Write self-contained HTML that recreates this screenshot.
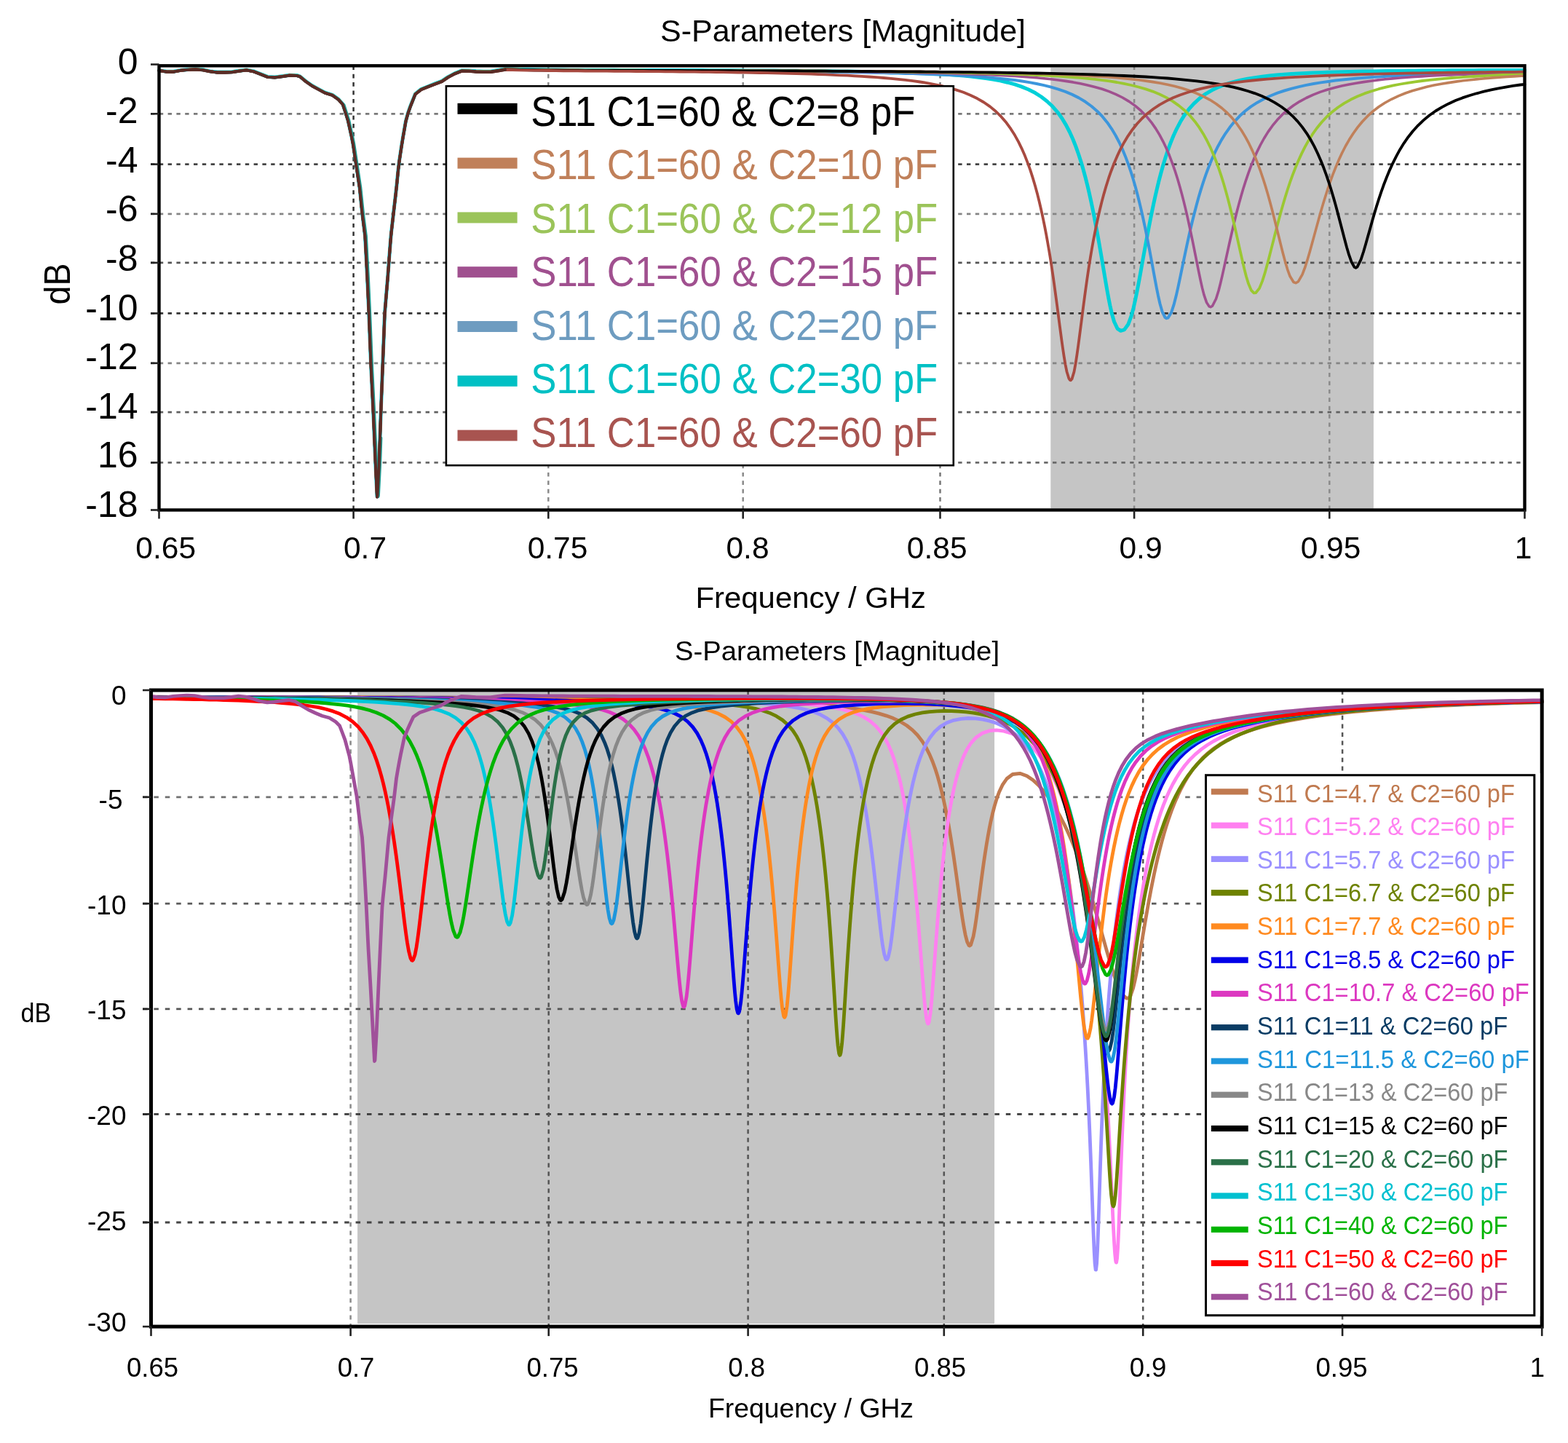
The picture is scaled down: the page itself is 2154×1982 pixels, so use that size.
<!DOCTYPE html><html><head><meta charset="utf-8"><title>S-Parameters [Magnitude]</title>
<style>html,body{margin:0;padding:0;background:#fff;overflow:hidden;}svg{display:block;}</style></head><body>
<svg width="2154" height="1982" viewBox="0 0 2154 1982">
<rect width="2154" height="1982" fill="#fff"/>
<rect x="1443.3" y="92.5" width="443.6" height="606" fill="#c5c5c5"/>
<line x1="207" y1="156.3" x2="2094.5" y2="156.3" stroke="#7a7a7a" stroke-width="2.7" stroke-dasharray="5.4,6.4"/>
<line x1="207" y1="225.6" x2="2094.5" y2="225.6" stroke="#444" stroke-width="2.7" stroke-dasharray="5.4,6.4"/>
<line x1="207" y1="293.8" x2="2094.5" y2="293.8" stroke="#858585" stroke-width="2.7" stroke-dasharray="5.4,6.4"/>
<line x1="207" y1="360.9" x2="2094.5" y2="360.9" stroke="#555" stroke-width="2.7" stroke-dasharray="5.4,6.4"/>
<line x1="207" y1="430.4" x2="2094.5" y2="430.4" stroke="#333" stroke-width="2.7" stroke-dasharray="5.4,6.4"/>
<line x1="207" y1="498.8" x2="2094.5" y2="498.8" stroke="#858585" stroke-width="2.7" stroke-dasharray="5.4,6.4"/>
<line x1="207" y1="566.1" x2="2094.5" y2="566.1" stroke="#606060" stroke-width="2.7" stroke-dasharray="5.4,6.4"/>
<line x1="207" y1="635.4" x2="2094.5" y2="635.4" stroke="#6a6a6a" stroke-width="2.7" stroke-dasharray="5.4,6.4"/>
<line x1="485.6" y1="90.3" x2="485.6" y2="700.5" stroke="#333" stroke-width="2.5" stroke-dasharray="5.7,5.7"/>
<line x1="753.3" y1="90.3" x2="753.3" y2="700.5" stroke="#8a8a8a" stroke-width="2.5" stroke-dasharray="5.7,5.7"/>
<line x1="1020.7" y1="90.3" x2="1020.7" y2="700.5" stroke="#8a8a8a" stroke-width="2.5" stroke-dasharray="5.7,5.7"/>
<line x1="1291.5" y1="90.3" x2="1291.5" y2="700.5" stroke="#777" stroke-width="2.5" stroke-dasharray="5.7,5.7"/>
<line x1="1558.1" y1="90.3" x2="1558.1" y2="700.5" stroke="#8a8a8a" stroke-width="2.5" stroke-dasharray="5.7,5.7"/>
<line x1="1826.3" y1="90.3" x2="1826.3" y2="700.5" stroke="#8a8a8a" stroke-width="2.5" stroke-dasharray="5.7,5.7"/>
<g fill="none" stroke-linejoin="round" stroke-linecap="round">
<path d="M218.5,96.6 L228.5,98.2 L238.5,98.3 L248.5,96.4 L258.5,95.5 L268.5,95.0 L278.5,95.8 L288.5,97.9 L298.5,99.1 L308.5,99.1 L318.5,98.8 L328.5,97.3 L338.5,95.9 L348.5,97.9 L358.0,101.6 L367.5,105.4 L377.5,106.0 L387.5,104.7 L397.5,103.2 L407.5,103.5 L412.0,104.8 L420.0,111.5 L428.5,117.5 L437.5,122.4 L446.5,127.2 L456.5,130.3 L465.0,136.4 L471.0,143.2 L474.5,154.0 L478.0,165.0 L480.5,176.3 L483.0,187.5 L485.0,197.8 L486.5,207.7 L488.0,217.6 L489.5,227.5 L491.0,237.5 L492.5,247.5 L494.0,257.5 L495.5,272.0 L496.5,282.1 L498.0,296.0 L499.5,307.9 L501.0,319.7 L501.5,323.7 L502.5,342.3 L503.5,360.9 L504.5,380.2 L505.0,391.1 L505.5,402.0 L506.0,412.8 L506.5,423.7 L507.0,435.3 L507.5,448.1 L508.0,460.9 L508.5,473.7 L509.0,486.4 L509.5,499.2 L510.0,509.4 L510.5,519.5 L511.0,529.7 L511.5,539.8 L512.0,550.0 L512.5,560.1 L513.0,570.8 L513.5,582.3 L514.0,593.8 L514.5,605.3 L515.0,616.8 L515.5,628.3 L516.0,639.5 L516.5,650.1 L517.0,660.7 L517.5,671.3 L518.0,682.0 L518.5,680.3 L519.5,660.7 L520.5,641.1 L521.0,629.5 L521.5,615.1 L522.0,600.7 L522.5,586.3 L523.0,572.0 L523.5,558.5 L524.0,545.6 L524.5,532.7 L525.0,519.8 L525.5,506.9 L526.0,494.1 L526.5,481.3 L527.0,468.6 L527.5,455.8 L528.0,443.0 L528.5,430.2 L529.5,418.3 L530.5,406.4 L531.5,394.5 L532.5,382.6 L533.5,369.5 L534.5,356.2 L535.5,343.2 L536.5,330.2 L537.5,319.3 L539.0,306.2 L540.5,293.0 L542.0,280.1 L543.5,267.4 L545.0,253.7 L546.0,243.5 L547.0,233.4 L548.5,221.0 L550.0,211.0 L551.5,201.1 L553.5,188.7 L555.5,177.4 L557.5,166.0 L560.5,155.1 L564.0,145.2 L568.0,135.2 L570.5,128.9 L578.5,122.5 L588.0,118.7 L597.5,114.9 L607.0,111.4 L615.5,105.6 L624.5,100.9 L634.0,97.0 L644.0,97.1 L654.0,97.8 L664.0,98.2 L674.0,98.2 L684.0,96.5 L694.0,94.9 L704.0,95.1 L714.0,95.4 L724.0,95.6 L734.0,95.7 L744.0,95.8 L754.0,95.9 L764.0,96.0 L774.0,96.1 L784.0,96.2 L794.0,96.2 L804.0,96.3 L814.0,96.3 L824.0,96.3 L834.0,96.3 L844.0,96.3 L854.0,96.4 L864.0,96.4 L874.0,96.4 L884.0,96.4 L894.0,96.4 L904.0,96.5 L914.0,96.5 L924.0,96.5 L934.0,96.5 L944.0,96.6 L954.0,96.6 L964.0,96.6 L974.0,96.7 L984.0,96.7 L994.0,96.8 L1004.0,96.8 L1014.0,96.8 L1024.0,96.9 L1034.0,96.9 L1044.0,97.0 L1054.0,97.1 L1064.0,97.1 L1074.0,97.2 L1084.0,97.3 L1094.0,97.3 L1104.0,97.4 L1114.0,97.5 L1124.0,97.6 L1134.0,97.7 L1144.0,97.8 L1154.0,98.0 L1164.0,98.1 L1174.0,98.2 L1184.0,98.4 L1194.0,98.6 L1204.0,98.8 L1214.0,99.0 L1224.0,99.2 L1234.0,99.5 L1244.0,99.8 L1254.0,100.1 L1264.0,100.5 L1274.0,100.9 L1284.0,101.4 L1294.0,101.9 L1304.0,102.6 L1314.0,103.3 L1324.0,104.1 L1334.0,105.0 L1344.0,106.2 L1354.0,107.5 L1364.0,109.0 L1374.0,110.9 L1384.0,113.2 L1394.0,115.9 L1403.5,119.1 L1413.0,123.0 L1422.0,127.6 L1430.5,133.0 L1438.5,139.2 L1446.0,146.3 L1453.0,154.3 L1459.0,162.7 L1464.5,171.9 L1469.5,181.5 L1474.0,191.5 L1478.0,201.6 L1481.5,211.5 L1485.0,222.3 L1488.0,232.5 L1491.0,243.5 L1493.5,253.3 L1496.0,263.9 L1498.5,275.1 L1501.0,287.1 L1503.0,297.1 L1505.0,307.4 L1507.0,318.2 L1509.0,329.2 L1511.0,340.6 L1513.0,352.2 L1515.0,364.1 L1517.0,376.0 L1519.0,387.9 L1521.0,399.4 L1523.0,410.2 L1525.0,420.3 L1527.5,431.3 L1530.5,441.8 L1535.0,451.3 L1539.5,454.3 L1544.5,452.9 L1550.0,445.2 L1554.0,434.4 L1557.0,423.3 L1559.5,412.3 L1562.0,400.1 L1564.0,389.6 L1566.0,378.7 L1568.0,367.6 L1570.0,356.4 L1572.0,345.4 L1574.0,334.4 L1576.0,323.7 L1578.0,313.2 L1580.0,302.9 L1582.0,293.0 L1584.5,281.0 L1587.0,269.5 L1589.5,258.7 L1592.0,248.4 L1595.0,237.0 L1598.0,226.4 L1601.0,216.5 L1604.5,205.9 L1608.0,196.4 L1612.0,186.5 L1616.5,176.8 L1621.5,167.3 L1627.0,158.4 L1633.0,150.2 L1640.0,142.4 L1647.5,135.5 L1656.0,129.1 L1665.0,123.8 L1674.5,119.3 L1684.0,115.7 L1694.0,112.7 L1704.0,110.2 L1714.0,108.2 L1724.0,106.6 L1734.0,105.2 L1744.0,104.1 L1754.0,103.1 L1764.0,102.3 L1774.0,101.6 L1784.0,101.0 L1794.0,100.5 L1804.0,100.1 L1814.0,99.7 L1824.0,99.3 L1834.0,99.0 L1844.0,98.7 L1854.0,98.5 L1864.0,98.3 L1874.0,98.1 L1884.0,97.9 L1894.0,97.8 L1904.0,97.6 L1914.0,97.5 L1924.0,97.4 L1934.0,97.3 L1944.0,97.2 L1954.0,97.1 L1964.0,97.0 L1974.0,97.0 L1984.0,96.9 L1994.0,96.8 L2004.0,96.8 L2014.0,96.7 L2024.0,96.7 L2034.0,96.6 L2044.0,96.6 L2054.0,96.5 L2064.0,96.5 L2074.0,96.5 L2084.0,96.4 L2094.0,96.4 L2094.5,96.4" stroke="#00d0d8" stroke-width="5.0"/>
<path d="M218.5,96.8 L228.5,98.4 L238.5,98.5 L248.5,96.6 L258.5,95.7 L268.5,95.2 L278.5,96.1 L288.5,98.1 L298.5,99.4 L308.5,99.4 L318.5,99.1 L328.5,97.6 L338.5,96.2 L348.5,98.2 L358.0,101.9 L367.5,105.7 L377.5,106.3 L387.5,105.0 L397.5,103.5 L407.5,103.8 L412.0,105.1 L420.0,111.8 L428.5,117.8 L437.5,122.7 L446.5,127.6 L456.5,130.7 L465.0,136.7 L471.0,143.5 L474.5,154.3 L478.0,165.4 L480.5,176.6 L483.0,187.9 L485.0,198.1 L486.5,208.0 L488.0,218.0 L489.5,227.9 L491.0,237.9 L492.5,247.8 L494.0,257.8 L495.5,272.3 L496.5,282.4 L498.0,296.3 L499.5,308.2 L501.0,320.1 L501.5,324.0 L502.5,342.7 L503.5,361.3 L504.5,380.6 L505.0,391.4 L505.5,402.3 L506.0,413.2 L506.5,424.0 L507.0,435.7 L507.5,448.5 L508.0,461.2 L508.5,474.0 L509.0,486.8 L509.5,499.6 L510.0,509.7 L510.5,519.9 L511.0,530.0 L511.5,540.2 L512.0,550.3 L512.5,560.5 L513.0,571.2 L513.5,582.7 L514.0,594.2 L514.5,605.7 L515.0,617.2 L515.5,628.7 L516.0,639.8 L516.5,650.4 L517.0,661.1 L517.5,671.7 L518.0,682.3 L518.5,680.7 L519.5,661.1 L520.5,641.5 L521.0,629.8 L521.5,615.5 L522.0,601.1 L522.5,586.7 L523.0,572.3 L523.5,558.8 L524.0,546.0 L524.5,533.1 L525.0,520.2 L525.5,507.3 L526.0,494.5 L526.5,481.7 L527.0,468.9 L527.5,456.1 L528.0,443.4 L528.5,430.6 L529.5,418.7 L530.5,406.8 L531.5,394.9 L532.5,383.0 L533.5,369.8 L534.5,356.5 L535.5,343.6 L536.5,330.6 L537.5,319.7 L539.0,306.5 L540.5,293.4 L542.0,280.5 L543.5,267.7 L545.0,254.1 L546.0,243.9 L547.0,233.7 L548.5,221.3 L550.0,211.4 L551.5,201.5 L553.5,189.1 L555.5,177.7 L557.5,166.4 L560.5,155.5 L564.0,145.6 L568.0,135.6 L570.5,129.3 L578.5,122.9 L588.0,119.1 L597.5,115.3 L607.0,111.8 L615.5,106.0 L624.5,101.3 L634.0,97.5 L644.0,97.5 L654.0,98.2 L664.0,98.7 L674.0,98.7 L684.0,97.0 L694.0,95.4 L704.0,95.6 L714.0,95.9 L724.0,96.1 L734.0,96.2 L744.0,96.3 L754.0,96.5 L764.0,96.6 L774.0,96.6 L784.0,96.7 L794.0,96.8 L804.0,96.8 L814.0,96.9 L824.0,96.9 L834.0,96.9 L844.0,97.0 L854.0,97.0 L864.0,97.0 L874.0,97.1 L884.0,97.1 L894.0,97.1 L904.0,97.2 L914.0,97.2 L924.0,97.2 L934.0,97.3 L944.0,97.3 L954.0,97.4 L964.0,97.4 L974.0,97.5 L984.0,97.5 L994.0,97.6 L1004.0,97.7 L1014.0,97.7 L1024.0,97.8 L1034.0,97.9 L1044.0,97.9 L1054.0,98.0 L1064.0,98.1 L1074.0,98.2 L1084.0,98.3 L1094.0,98.4 L1104.0,98.5 L1114.0,98.6 L1124.0,98.7 L1134.0,98.8 L1144.0,98.9 L1154.0,99.1 L1164.0,99.2 L1174.0,99.4 L1184.0,99.5 L1194.0,99.7 L1204.0,99.9 L1214.0,100.1 L1224.0,100.4 L1234.0,100.6 L1244.0,100.9 L1254.0,101.1 L1264.0,101.5 L1274.0,101.8 L1284.0,102.2 L1294.0,102.6 L1304.0,103.0 L1314.0,103.5 L1324.0,104.0 L1334.0,104.6 L1344.0,105.3 L1354.0,106.1 L1364.0,106.9 L1374.0,107.9 L1384.0,108.9 L1394.0,110.1 L1404.0,111.5 L1414.0,113.1 L1424.0,115.0 L1434.0,117.1 L1444.0,119.6 L1454.0,122.6 L1463.5,125.9 L1473.0,129.9 L1482.0,134.4 L1491.0,139.8 L1499.5,146.0 L1507.5,152.9 L1514.5,160.2 L1521.0,168.2 L1527.0,176.8 L1532.5,186.0 L1537.5,195.5 L1542.0,205.2 L1546.0,214.9 L1550.0,225.6 L1553.5,235.9 L1556.5,245.5 L1559.5,255.8 L1562.5,266.9 L1565.0,276.9 L1567.5,287.4 L1570.0,298.5 L1572.5,310.1 L1575.0,322.2 L1577.0,332.3 L1579.0,342.7 L1581.0,353.3 L1583.0,364.2 L1585.0,375.1 L1587.0,385.9 L1589.0,396.4 L1591.0,406.2 L1593.5,417.2 L1596.5,427.8 L1600.5,436.0 L1602.5,437.2 L1604.5,436.6 L1609.0,429.3 L1612.5,418.7 L1615.5,407.1 L1618.0,396.1 L1620.5,384.4 L1623.0,372.4 L1625.5,360.2 L1628.0,348.3 L1630.5,336.6 L1633.0,325.3 L1635.5,314.3 L1638.0,303.8 L1640.5,293.7 L1643.5,282.2 L1646.5,271.3 L1649.5,261.1 L1653.0,250.1 L1656.5,239.9 L1660.0,230.5 L1664.0,220.5 L1668.5,210.4 L1673.0,201.2 L1678.0,192.1 L1683.5,183.3 L1689.5,174.8 L1696.0,166.8 L1703.0,159.3 L1710.5,152.5 L1718.5,146.4 L1727.0,140.9 L1736.0,135.9 L1745.5,131.5 L1755.0,127.7 L1764.5,124.5 L1774.5,121.6 L1784.5,119.1 L1794.5,116.9 L1804.5,115.0 L1814.5,113.4 L1824.5,111.9 L1834.5,110.6 L1844.5,109.5 L1854.5,108.5 L1864.5,107.6 L1874.5,106.8 L1884.5,106.0 L1894.5,105.4 L1904.5,104.8 L1914.5,104.2 L1924.5,103.7 L1934.5,103.3 L1944.5,102.9 L1954.5,102.5 L1964.5,102.1 L1974.5,101.8 L1984.5,101.5 L1994.5,101.2 L2004.5,100.9 L2014.5,100.7 L2024.5,100.5 L2034.5,100.3 L2044.5,100.1 L2054.5,99.9 L2064.5,99.7 L2074.5,99.6 L2084.5,99.4 L2094.5,99.3" stroke="#3c96dc" stroke-width="4.0"/>
<path d="M218.5,96.8 L228.5,98.4 L238.5,98.5 L248.5,96.6 L258.5,95.7 L268.5,95.2 L278.5,96.1 L288.5,98.1 L298.5,99.4 L308.5,99.4 L318.5,99.1 L328.5,97.5 L338.5,96.2 L348.5,98.2 L358.0,101.9 L367.5,105.7 L377.5,106.3 L387.5,105.0 L397.5,103.5 L407.5,103.8 L412.0,105.1 L420.0,111.7 L428.5,117.7 L437.5,122.6 L446.5,127.5 L456.5,130.6 L465.0,136.7 L471.0,143.5 L474.5,154.2 L478.0,165.3 L480.5,176.6 L483.0,187.8 L485.0,198.1 L486.5,208.0 L488.0,217.9 L489.5,227.8 L491.0,237.8 L492.5,247.8 L494.0,257.8 L495.5,272.2 L496.5,282.4 L498.0,296.3 L499.5,308.2 L501.0,320.0 L501.5,324.0 L502.5,342.6 L503.5,361.2 L504.5,380.5 L505.0,391.4 L505.5,402.2 L506.0,413.1 L506.5,424.0 L507.0,435.6 L507.5,448.4 L508.0,461.2 L508.5,473.9 L509.0,486.7 L509.5,499.5 L510.0,509.6 L510.5,519.8 L511.0,529.9 L511.5,540.1 L512.0,550.3 L512.5,560.4 L513.0,571.1 L513.5,582.6 L514.0,594.1 L514.5,605.6 L515.0,617.1 L515.5,628.6 L516.0,639.8 L516.5,650.4 L517.0,661.0 L517.5,671.6 L518.0,682.2 L518.5,680.6 L519.5,661.0 L520.5,641.4 L521.0,629.8 L521.5,615.4 L522.0,601.0 L522.5,586.6 L523.0,572.3 L523.5,558.8 L524.0,545.9 L524.5,533.0 L525.0,520.1 L525.5,507.2 L526.0,494.4 L526.5,481.6 L527.0,468.9 L527.5,456.1 L528.0,443.3 L528.5,430.5 L529.5,418.6 L530.5,406.7 L531.5,394.8 L532.5,382.9 L533.5,369.8 L534.5,356.5 L535.5,343.5 L536.5,330.5 L537.5,319.6 L539.0,306.5 L540.5,293.3 L542.0,280.4 L543.5,267.7 L545.0,254.0 L546.0,243.8 L547.0,233.7 L548.5,221.3 L550.0,211.3 L551.5,201.4 L553.5,189.0 L555.5,177.7 L557.5,166.3 L560.5,155.4 L564.0,145.5 L568.0,135.5 L570.5,129.3 L578.5,122.8 L588.0,119.0 L597.5,115.3 L607.0,111.7 L615.5,105.9 L624.5,101.2 L634.0,97.4 L644.0,97.4 L654.0,98.1 L664.0,98.6 L674.0,98.6 L684.0,96.9 L694.0,95.2 L704.0,95.5 L714.0,95.8 L724.0,96.0 L734.0,96.1 L744.0,96.2 L754.0,96.3 L764.0,96.4 L774.0,96.5 L784.0,96.6 L794.0,96.6 L804.0,96.7 L814.0,96.7 L824.0,96.7 L834.0,96.8 L844.0,96.8 L854.0,96.8 L864.0,96.8 L874.0,96.9 L884.0,96.9 L894.0,96.9 L904.0,96.9 L914.0,97.0 L924.0,97.0 L934.0,97.0 L944.0,97.1 L954.0,97.1 L964.0,97.1 L974.0,97.2 L984.0,97.2 L994.0,97.3 L1004.0,97.3 L1014.0,97.4 L1024.0,97.4 L1034.0,97.5 L1044.0,97.5 L1054.0,97.6 L1064.0,97.6 L1074.0,97.7 L1084.0,97.8 L1094.0,97.8 L1104.0,97.9 L1114.0,98.0 L1124.0,98.1 L1134.0,98.1 L1144.0,98.2 L1154.0,98.3 L1164.0,98.4 L1174.0,98.5 L1184.0,98.6 L1194.0,98.8 L1204.0,98.9 L1214.0,99.0 L1224.0,99.2 L1234.0,99.3 L1244.0,99.5 L1254.0,99.7 L1264.0,99.9 L1274.0,100.1 L1284.0,100.3 L1294.0,100.5 L1304.0,100.8 L1314.0,101.1 L1324.0,101.4 L1334.0,101.7 L1344.0,102.1 L1354.0,102.5 L1364.0,102.9 L1374.0,103.4 L1384.0,103.9 L1394.0,104.5 L1404.0,105.2 L1414.0,106.0 L1424.0,106.8 L1434.0,107.7 L1444.0,108.8 L1454.0,110.0 L1464.0,111.4 L1474.0,112.9 L1484.0,114.8 L1494.0,116.9 L1504.0,119.4 L1514.0,122.3 L1523.5,125.6 L1533.0,129.6 L1542.0,134.0 L1551.0,139.4 L1559.5,145.4 L1567.5,152.2 L1575.0,159.9 L1581.5,167.8 L1587.5,176.4 L1593.0,185.4 L1598.0,194.8 L1602.5,204.3 L1606.5,213.8 L1610.5,224.3 L1614.0,234.3 L1617.5,245.3 L1620.5,255.5 L1623.5,266.4 L1626.0,276.1 L1628.5,286.4 L1631.0,297.2 L1633.5,308.5 L1636.0,320.2 L1638.5,332.2 L1640.5,342.1 L1642.5,352.1 L1644.5,362.2 L1646.5,372.2 L1649.0,384.2 L1651.5,395.4 L1654.0,405.1 L1657.5,415.4 L1661.0,420.9 L1663.0,421.7 L1665.5,420.3 L1670.5,410.5 L1674.0,399.2 L1676.5,389.5 L1679.0,378.9 L1681.5,367.6 L1684.0,356.2 L1686.5,344.8 L1689.0,333.5 L1691.5,322.5 L1694.0,311.7 L1696.5,301.3 L1699.0,291.3 L1702.0,279.9 L1705.0,269.0 L1708.0,258.8 L1711.5,247.8 L1715.0,237.6 L1718.5,228.2 L1722.5,218.3 L1727.0,208.1 L1731.5,199.0 L1736.5,190.0 L1742.0,181.1 L1748.0,172.7 L1754.5,164.8 L1761.5,157.4 L1769.0,150.8 L1777.0,144.8 L1785.5,139.3 L1794.5,134.5 L1804.0,130.1 L1813.5,126.4 L1823.0,123.3 L1833.0,120.5 L1843.0,118.1 L1853.0,116.0 L1863.0,114.2 L1873.0,112.6 L1883.0,111.2 L1893.0,109.9 L1903.0,108.8 L1913.0,107.9 L1923.0,107.0 L1933.0,106.2 L1943.0,105.5 L1953.0,104.9 L1963.0,104.3 L1973.0,103.8 L1983.0,103.3 L1993.0,102.9 L2003.0,102.5 L2013.0,102.1 L2023.0,101.8 L2033.0,101.5 L2043.0,101.2 L2053.0,100.9 L2063.0,100.7 L2073.0,100.4 L2083.0,100.2 L2093.0,100.0 L2094.5,100.0" stroke="#a0508f" stroke-width="3.6"/>
<path d="M218.5,96.8 L228.5,98.4 L238.5,98.5 L248.5,96.6 L258.5,95.7 L268.5,95.1 L278.5,96.0 L288.5,98.1 L298.5,99.3 L308.5,99.3 L318.5,99.0 L328.5,97.5 L338.5,96.1 L348.5,98.2 L358.0,101.8 L367.5,105.6 L377.5,106.2 L387.5,104.9 L397.5,103.4 L407.5,103.7 L412.0,105.0 L420.0,111.7 L428.5,117.7 L437.5,122.6 L446.5,127.5 L456.5,130.6 L465.0,136.6 L471.0,143.4 L474.5,154.2 L478.0,165.3 L480.5,176.5 L483.0,187.8 L485.0,198.0 L486.5,207.9 L488.0,217.9 L489.5,227.8 L491.0,237.8 L492.5,247.7 L494.0,257.7 L495.5,272.2 L496.5,282.3 L498.0,296.2 L499.5,308.1 L501.0,320.0 L501.5,323.9 L502.5,342.6 L503.5,361.2 L504.5,380.5 L505.0,391.3 L505.5,402.2 L506.0,413.1 L506.5,423.9 L507.0,435.6 L507.5,448.3 L508.0,461.1 L508.5,473.9 L509.0,486.7 L509.5,499.4 L510.0,509.6 L510.5,519.8 L511.0,529.9 L511.5,540.1 L512.0,550.2 L512.5,560.4 L513.0,571.1 L513.5,582.6 L514.0,594.1 L514.5,605.6 L515.0,617.1 L515.5,628.6 L516.0,639.7 L516.5,650.3 L517.0,661.0 L517.5,671.6 L518.0,682.2 L518.5,680.6 L519.5,661.0 L520.5,641.3 L521.0,629.7 L521.5,615.3 L522.0,601.0 L522.5,586.6 L523.0,572.2 L523.5,558.7 L524.0,545.8 L524.5,533.0 L525.0,520.1 L525.5,507.2 L526.0,494.4 L526.5,481.6 L527.0,468.8 L527.5,456.0 L528.0,443.3 L528.5,430.5 L529.5,418.6 L530.5,406.7 L531.5,394.8 L532.5,382.9 L533.5,369.7 L534.5,356.4 L535.5,343.4 L536.5,330.5 L537.5,319.6 L539.0,306.4 L540.5,293.3 L542.0,280.4 L543.5,267.6 L545.0,254.0 L546.0,243.8 L547.0,233.6 L548.5,221.2 L550.0,211.3 L551.5,201.4 L553.5,189.0 L555.5,177.6 L557.5,166.2 L560.5,155.4 L564.0,145.5 L568.0,135.5 L570.5,129.2 L578.5,122.8 L588.0,118.9 L597.5,115.2 L607.0,111.6 L615.5,105.9 L624.5,101.1 L634.0,97.3 L644.0,97.4 L654.0,98.1 L664.0,98.5 L674.0,98.5 L684.0,96.8 L694.0,95.2 L704.0,95.4 L714.0,95.7 L724.0,95.9 L734.0,96.0 L744.0,96.1 L754.0,96.2 L764.0,96.3 L774.0,96.4 L784.0,96.5 L794.0,96.5 L804.0,96.6 L814.0,96.6 L824.0,96.6 L834.0,96.6 L844.0,96.7 L854.0,96.7 L864.0,96.7 L874.0,96.7 L884.0,96.7 L894.0,96.8 L904.0,96.8 L914.0,96.8 L924.0,96.8 L934.0,96.9 L944.0,96.9 L954.0,96.9 L964.0,97.0 L974.0,97.0 L984.0,97.0 L994.0,97.1 L1004.0,97.1 L1014.0,97.1 L1024.0,97.2 L1034.0,97.2 L1044.0,97.2 L1054.0,97.3 L1064.0,97.3 L1074.0,97.4 L1084.0,97.4 L1094.0,97.5 L1104.0,97.5 L1114.0,97.6 L1124.0,97.6 L1134.0,97.7 L1144.0,97.8 L1154.0,97.8 L1164.0,97.9 L1174.0,98.0 L1184.0,98.1 L1194.0,98.2 L1204.0,98.2 L1214.0,98.3 L1224.0,98.4 L1234.0,98.5 L1244.0,98.7 L1254.0,98.8 L1264.0,98.9 L1274.0,99.0 L1284.0,99.2 L1294.0,99.3 L1304.0,99.5 L1314.0,99.7 L1324.0,99.9 L1334.0,100.1 L1344.0,100.3 L1354.0,100.6 L1364.0,100.8 L1374.0,101.1 L1384.0,101.4 L1394.0,101.8 L1404.0,102.1 L1414.0,102.5 L1424.0,103.0 L1434.0,103.5 L1444.0,104.0 L1454.0,104.6 L1464.0,105.3 L1474.0,106.0 L1484.0,106.9 L1494.0,107.8 L1504.0,108.9 L1514.0,110.1 L1524.0,111.4 L1534.0,113.0 L1544.0,114.9 L1554.0,117.0 L1564.0,119.5 L1574.0,122.4 L1583.5,125.6 L1593.0,129.5 L1602.0,133.9 L1611.0,139.1 L1619.5,145.1 L1627.5,151.7 L1635.0,159.2 L1641.5,166.9 L1647.5,175.2 L1653.0,183.9 L1658.0,193.0 L1662.5,202.1 L1667.0,212.4 L1671.0,222.5 L1674.5,232.2 L1678.0,242.6 L1681.0,252.3 L1684.0,262.7 L1687.0,273.8 L1689.5,283.5 L1692.0,293.7 L1694.5,304.2 L1697.0,315.0 L1699.5,326.1 L1702.0,337.3 L1704.5,348.5 L1707.0,359.4 L1709.5,370.0 L1712.0,379.7 L1715.0,389.6 L1719.0,398.9 L1722.5,402.4 L1725.0,402.2 L1730.0,396.1 L1734.0,386.4 L1737.5,375.4 L1740.5,364.6 L1743.5,353.2 L1746.0,343.4 L1748.5,333.6 L1751.0,323.7 L1753.5,314.0 L1756.5,302.7 L1759.5,291.6 L1762.5,281.0 L1765.5,270.9 L1768.5,261.3 L1772.0,250.7 L1775.5,240.9 L1779.5,230.6 L1783.5,221.0 L1788.0,211.1 L1792.5,202.2 L1797.5,193.2 L1803.0,184.4 L1809.0,176.0 L1815.5,168.0 L1822.5,160.5 L1830.0,153.7 L1838.0,147.5 L1846.5,141.9 L1855.5,136.8 L1865.0,132.3 L1874.5,128.4 L1884.0,125.2 L1894.0,122.2 L1904.0,119.6 L1914.0,117.4 L1924.0,115.5 L1934.0,113.8 L1944.0,112.3 L1954.0,111.0 L1964.0,109.8 L1974.0,108.8 L1984.0,107.9 L1994.0,107.0 L2004.0,106.3 L2014.0,105.6 L2024.0,105.0 L2034.0,104.4 L2044.0,103.9 L2054.0,103.5 L2064.0,103.0 L2074.0,102.6 L2084.0,102.3 L2094.0,102.0 L2094.5,102.0" stroke="#9bc832" stroke-width="3.8"/>
<path d="M218.5,96.8 L228.5,98.4 L238.5,98.4 L248.5,96.6 L258.5,95.6 L268.5,95.1 L278.5,96.0 L288.5,98.0 L298.5,99.3 L308.5,99.3 L318.5,99.0 L328.5,97.5 L338.5,96.1 L348.5,98.1 L358.0,101.8 L367.5,105.6 L377.5,106.2 L387.5,104.9 L397.5,103.4 L407.5,103.7 L412.0,105.0 L420.0,111.7 L428.5,117.7 L437.5,122.6 L446.5,127.5 L456.5,130.5 L465.0,136.6 L471.0,143.4 L474.5,154.2 L478.0,165.3 L480.5,176.5 L483.0,187.7 L485.0,198.0 L486.5,207.9 L488.0,217.8 L489.5,227.7 L491.0,237.7 L492.5,247.7 L494.0,257.7 L495.5,272.2 L496.5,282.3 L498.0,296.2 L499.5,308.1 L501.0,320.0 L501.5,323.9 L502.5,342.5 L503.5,361.2 L504.5,380.4 L505.0,391.3 L505.5,402.2 L506.0,413.0 L506.5,423.9 L507.0,435.5 L507.5,448.3 L508.0,461.1 L508.5,473.9 L509.0,486.7 L509.5,499.4 L510.0,509.6 L510.5,519.7 L511.0,529.9 L511.5,540.0 L512.0,550.2 L512.5,560.3 L513.0,571.0 L513.5,582.5 L514.0,594.0 L514.5,605.5 L515.0,617.0 L515.5,628.5 L516.0,639.7 L516.5,650.3 L517.0,660.9 L517.5,671.6 L518.0,682.2 L518.5,680.5 L519.5,660.9 L520.5,641.3 L521.0,629.7 L521.5,615.3 L522.0,600.9 L522.5,586.6 L523.0,572.2 L523.5,558.7 L524.0,545.8 L524.5,532.9 L525.0,520.1 L525.5,507.2 L526.0,494.3 L526.5,481.6 L527.0,468.8 L527.5,456.0 L528.0,443.2 L528.5,430.5 L529.5,418.6 L530.5,406.6 L531.5,394.7 L532.5,382.8 L533.5,369.7 L534.5,356.4 L535.5,343.4 L536.5,330.4 L537.5,319.6 L539.0,306.4 L540.5,293.2 L542.0,280.4 L543.5,267.6 L545.0,254.0 L546.0,243.8 L547.0,233.6 L548.5,221.2 L550.0,211.3 L551.5,201.3 L553.5,189.0 L555.5,177.6 L557.5,166.2 L560.5,155.3 L564.0,145.5 L568.0,135.4 L570.5,129.2 L578.5,122.8 L588.0,118.9 L597.5,115.2 L607.0,111.6 L615.5,105.8 L624.5,101.1 L634.0,97.3 L644.0,97.3 L654.0,98.0 L664.0,98.5 L674.0,98.5 L684.0,96.8 L694.0,95.1 L704.0,95.4 L714.0,95.7 L724.0,95.9 L734.0,96.0 L744.0,96.1 L754.0,96.2 L764.0,96.3 L774.0,96.4 L784.0,96.4 L794.0,96.5 L804.0,96.5 L814.0,96.5 L824.0,96.6 L834.0,96.6 L844.0,96.6 L854.0,96.6 L864.0,96.6 L874.0,96.6 L884.0,96.7 L894.0,96.7 L904.0,96.7 L914.0,96.7 L924.0,96.7 L934.0,96.8 L944.0,96.8 L954.0,96.8 L964.0,96.8 L974.0,96.9 L984.0,96.9 L994.0,96.9 L1004.0,97.0 L1014.0,97.0 L1024.0,97.0 L1034.0,97.0 L1044.0,97.1 L1054.0,97.1 L1064.0,97.2 L1074.0,97.2 L1084.0,97.2 L1094.0,97.3 L1104.0,97.3 L1114.0,97.4 L1124.0,97.4 L1134.0,97.5 L1144.0,97.5 L1154.0,97.6 L1164.0,97.6 L1174.0,97.7 L1184.0,97.7 L1194.0,97.8 L1204.0,97.9 L1214.0,97.9 L1224.0,98.0 L1234.0,98.1 L1244.0,98.2 L1254.0,98.3 L1264.0,98.4 L1274.0,98.5 L1284.0,98.6 L1294.0,98.7 L1304.0,98.8 L1314.0,98.9 L1324.0,99.1 L1334.0,99.2 L1344.0,99.4 L1354.0,99.6 L1364.0,99.7 L1374.0,99.9 L1384.0,100.1 L1394.0,100.4 L1404.0,100.6 L1414.0,100.9 L1424.0,101.1 L1434.0,101.5 L1444.0,101.8 L1454.0,102.1 L1464.0,102.5 L1474.0,103.0 L1484.0,103.5 L1494.0,104.0 L1504.0,104.6 L1514.0,105.2 L1524.0,105.9 L1534.0,106.8 L1544.0,107.7 L1554.0,108.7 L1564.0,109.8 L1574.0,111.1 L1584.0,112.6 L1594.0,114.3 L1604.0,116.3 L1614.0,118.6 L1624.0,121.3 L1634.0,124.5 L1643.5,128.1 L1653.0,132.3 L1662.0,137.1 L1670.5,142.5 L1678.5,148.5 L1686.0,155.2 L1693.0,162.6 L1699.5,170.7 L1705.5,179.3 L1711.0,188.4 L1716.0,197.7 L1720.5,207.1 L1724.5,216.4 L1728.5,226.6 L1732.0,236.2 L1735.5,246.6 L1738.5,256.1 L1741.5,266.3 L1744.5,277.0 L1747.5,288.3 L1750.0,298.0 L1752.5,308.0 L1755.0,318.1 L1757.5,328.3 L1760.0,338.4 L1762.5,348.2 L1765.5,359.4 L1768.5,369.6 L1772.0,379.3 L1777.0,387.5 L1780.0,388.7 L1783.5,386.7 L1789.0,377.2 L1793.0,366.5 L1796.5,355.3 L1799.5,344.9 L1802.5,334.1 L1805.5,323.1 L1808.5,312.1 L1811.5,301.2 L1814.5,290.6 L1817.5,280.3 L1820.5,270.4 L1824.0,259.5 L1827.5,249.2 L1831.0,239.6 L1835.0,229.5 L1839.0,220.1 L1843.5,210.3 L1848.5,200.5 L1853.5,191.8 L1859.0,183.2 L1865.0,174.9 L1871.5,167.0 L1878.5,159.7 L1886.0,152.9 L1894.0,146.8 L1902.5,141.3 L1911.5,136.3 L1921.0,131.8 L1930.5,128.0 L1940.0,124.8 L1950.0,121.9 L1960.0,119.3 L1970.0,117.1 L1980.0,115.2 L1990.0,113.6 L2000.0,112.1 L2010.0,110.8 L2020.0,109.7 L2030.0,108.6 L2040.0,107.7 L2050.0,106.9 L2060.0,106.2 L2070.0,105.5 L2080.0,104.9 L2090.0,104.3 L2094.5,104.2" stroke="#c0805a" stroke-width="3.6"/>
<path d="M218.5,96.9 L228.5,98.5 L238.5,98.6 L248.5,96.7 L258.5,95.8 L268.5,95.3 L278.5,96.2 L288.5,98.2 L298.5,99.5 L308.5,99.5 L318.5,99.2 L328.5,97.7 L338.5,96.3 L348.5,98.3 L358.0,102.0 L367.5,105.8 L377.5,106.4 L387.5,105.1 L397.5,103.6 L407.5,103.9 L412.0,105.2 L420.0,111.9 L428.5,117.8 L437.5,122.8 L446.5,127.6 L456.5,130.7 L465.0,136.8 L471.0,143.6 L474.5,154.4 L478.0,165.5 L480.5,176.7 L483.0,187.9 L485.0,198.2 L486.5,208.1 L488.0,218.0 L489.5,227.9 L491.0,237.9 L492.5,247.9 L494.0,257.9 L495.5,272.4 L496.5,282.5 L498.0,296.4 L499.5,308.3 L501.0,320.2 L501.5,324.1 L502.5,342.7 L503.5,361.4 L504.5,380.6 L505.0,391.5 L505.5,402.4 L506.0,413.3 L506.5,424.1 L507.0,435.8 L507.5,448.5 L508.0,461.3 L508.5,474.1 L509.0,486.9 L509.5,499.6 L510.0,509.8 L510.5,519.9 L511.0,530.1 L511.5,540.2 L512.0,550.4 L512.5,560.5 L513.0,571.2 L513.5,582.7 L514.0,594.2 L514.5,605.7 L515.0,617.2 L515.5,628.7 L516.0,639.9 L516.5,650.5 L517.0,661.1 L517.5,671.7 L518.0,682.4 L518.5,680.7 L519.5,661.1 L520.5,641.5 L521.0,629.9 L521.5,615.5 L522.0,601.2 L522.5,586.8 L523.0,572.4 L523.5,558.9 L524.0,546.0 L524.5,533.1 L525.0,520.3 L525.5,507.4 L526.0,494.5 L526.5,481.8 L527.0,469.0 L527.5,456.2 L528.0,443.4 L528.5,430.7 L529.5,418.8 L530.5,406.9 L531.5,395.0 L532.5,383.0 L533.5,369.9 L534.5,356.6 L535.5,343.6 L536.5,330.6 L537.5,319.8 L539.0,306.6 L540.5,293.4 L542.0,280.6 L543.5,267.8 L545.0,254.2 L546.0,244.0 L547.0,233.8 L548.5,221.4 L550.0,211.5 L551.5,201.6 L553.5,189.2 L555.5,177.8 L557.5,166.4 L560.5,155.6 L564.0,145.7 L568.0,135.7 L570.5,129.4 L578.5,123.0 L588.0,119.1 L597.5,115.4 L607.0,111.8 L615.5,106.1 L624.5,101.3 L634.0,97.5 L644.0,97.6 L654.0,98.3 L664.0,98.7 L674.0,98.7 L684.0,97.0 L694.0,95.4 L704.0,95.6 L714.0,95.9 L724.0,96.1 L734.0,96.2 L744.0,96.3 L754.0,96.4 L764.0,96.5 L774.0,96.6 L784.0,96.7 L794.0,96.7 L804.0,96.8 L814.0,96.8 L824.0,96.8 L834.0,96.8 L844.0,96.8 L854.0,96.9 L864.0,96.9 L874.0,96.9 L884.0,96.9 L894.0,96.9 L904.0,97.0 L914.0,97.0 L924.0,97.0 L934.0,97.0 L944.0,97.1 L954.0,97.1 L964.0,97.1 L974.0,97.1 L984.0,97.2 L994.0,97.2 L1004.0,97.2 L1014.0,97.3 L1024.0,97.3 L1034.0,97.3 L1044.0,97.4 L1054.0,97.4 L1064.0,97.4 L1074.0,97.5 L1084.0,97.5 L1094.0,97.5 L1104.0,97.6 L1114.0,97.6 L1124.0,97.7 L1134.0,97.7 L1144.0,97.8 L1154.0,97.8 L1164.0,97.9 L1174.0,97.9 L1184.0,98.0 L1194.0,98.0 L1204.0,98.1 L1214.0,98.1 L1224.0,98.2 L1234.0,98.3 L1244.0,98.3 L1254.0,98.4 L1264.0,98.5 L1274.0,98.6 L1284.0,98.7 L1294.0,98.8 L1304.0,98.8 L1314.0,98.9 L1324.0,99.1 L1334.0,99.2 L1344.0,99.3 L1354.0,99.4 L1364.0,99.5 L1374.0,99.7 L1384.0,99.8 L1394.0,100.0 L1404.0,100.1 L1414.0,100.3 L1424.0,100.5 L1434.0,100.7 L1444.0,100.9 L1454.0,101.1 L1464.0,101.3 L1474.0,101.6 L1484.0,101.9 L1494.0,102.2 L1504.0,102.5 L1514.0,102.8 L1524.0,103.2 L1534.0,103.6 L1544.0,104.0 L1554.0,104.5 L1564.0,105.0 L1574.0,105.5 L1584.0,106.1 L1594.0,106.8 L1604.0,107.5 L1614.0,108.4 L1624.0,109.3 L1634.0,110.3 L1644.0,111.4 L1654.0,112.7 L1664.0,114.1 L1674.0,115.7 L1684.0,117.6 L1694.0,119.7 L1704.0,122.1 L1714.0,125.0 L1723.5,128.1 L1733.0,131.8 L1742.5,136.2 L1751.5,141.1 L1760.0,146.5 L1768.0,152.5 L1775.5,159.3 L1782.5,166.6 L1789.0,174.6 L1795.0,183.1 L1800.5,192.0 L1805.5,201.2 L1810.0,210.5 L1814.5,220.7 L1818.5,230.8 L1822.0,240.3 L1825.5,250.6 L1829.0,261.7 L1832.0,271.9 L1835.0,282.6 L1838.0,293.7 L1841.0,305.2 L1844.0,316.8 L1847.0,328.3 L1850.0,339.5 L1853.0,349.7 L1856.5,359.7 L1860.5,366.9 L1862.5,367.9 L1864.5,366.7 L1869.5,356.6 L1873.0,346.0 L1876.0,335.8 L1879.0,325.1 L1882.0,314.4 L1885.0,303.8 L1888.0,293.4 L1891.0,283.4 L1894.0,273.9 L1897.5,263.4 L1901.0,253.5 L1905.0,243.2 L1909.0,233.6 L1913.5,223.8 L1918.0,214.8 L1923.0,205.7 L1928.5,196.8 L1934.5,188.2 L1941.0,180.0 L1948.0,172.3 L1955.5,165.1 L1963.5,158.5 L1972.0,152.5 L1981.0,147.1 L1990.0,142.4 L1999.5,138.1 L2009.0,134.4 L2018.5,131.2 L2028.5,128.3 L2038.5,125.7 L2048.5,123.4 L2058.5,121.4 L2068.5,119.6 L2078.5,117.9 L2088.5,116.5 L2094.5,115.9" stroke="#000000" stroke-width="3.8"/>
<path d="M218.5,97.0 L228.5,98.6 L238.5,98.7 L248.5,96.8 L258.5,95.9 L268.5,95.4 L278.5,96.3 L288.5,98.3 L298.5,99.6 L308.5,99.6 L318.5,99.3 L328.5,97.7 L338.5,96.4 L348.5,98.4 L358.0,102.1 L367.5,105.9 L377.5,106.5 L387.5,105.2 L397.5,103.7 L407.5,104.0 L412.0,105.3 L420.0,112.0 L428.5,118.0 L437.5,122.9 L446.5,127.8 L456.5,130.9 L465.0,137.0 L471.0,143.8 L474.5,154.5 L478.0,165.6 L480.5,176.9 L483.0,188.1 L485.0,198.4 L486.5,208.3 L488.0,218.2 L489.5,228.1 L491.0,238.1 L492.5,248.1 L494.0,258.1 L495.5,272.6 L496.5,282.7 L498.0,296.6 L499.5,308.5 L501.0,320.4 L501.5,324.3 L502.5,342.9 L503.5,361.6 L504.5,380.8 L505.0,391.7 L505.5,402.6 L506.0,413.5 L506.5,424.3 L507.0,436.0 L507.5,448.7 L508.0,461.5 L508.5,474.3 L509.0,487.1 L509.5,499.8 L510.0,510.0 L510.5,520.1 L511.0,530.3 L511.5,540.4 L512.0,550.6 L512.5,560.7 L513.0,571.5 L513.5,583.0 L514.0,594.5 L514.5,606.0 L515.0,617.5 L515.5,629.0 L516.0,640.1 L516.5,650.7 L517.0,661.3 L517.5,671.9 L518.0,682.6 L518.5,680.9 L519.5,661.3 L520.5,641.7 L521.0,630.1 L521.5,615.7 L522.0,601.4 L522.5,587.0 L523.0,572.6 L523.5,559.1 L524.0,546.2 L524.5,533.4 L525.0,520.5 L525.5,507.6 L526.0,494.8 L526.5,482.0 L527.0,469.2 L527.5,456.4 L528.0,443.7 L528.5,430.9 L529.5,419.0 L530.5,407.1 L531.5,395.2 L532.5,383.3 L533.5,370.1 L534.5,356.8 L535.5,343.8 L536.5,330.9 L537.5,320.0 L539.0,306.8 L540.5,293.7 L542.0,280.8 L543.5,268.0 L545.0,254.4 L546.0,244.2 L547.0,234.0 L548.5,221.6 L550.0,211.7 L551.5,201.8 L553.5,189.4 L555.5,178.1 L557.5,166.7 L560.5,155.8 L564.0,145.9 L568.0,135.9 L570.5,129.6 L578.5,123.2 L588.0,119.4 L597.5,115.7 L607.0,112.1 L615.5,106.4 L624.5,101.6 L634.0,97.9 L644.0,97.9 L654.0,98.7 L664.0,99.1 L674.0,99.1 L684.0,97.5 L694.0,95.8 L704.0,96.1 L714.0,96.4 L724.0,96.6 L734.0,96.8 L744.0,96.9 L754.0,97.0 L764.0,97.2 L774.0,97.3 L784.0,97.3 L794.0,97.4 L804.0,97.5 L814.0,97.6 L824.0,97.6 L834.0,97.7 L844.0,97.8 L854.0,97.8 L864.0,97.9 L874.0,98.0 L884.0,98.0 L894.0,98.1 L904.0,98.2 L914.0,98.3 L924.0,98.4 L934.0,98.5 L944.0,98.6 L954.0,98.7 L964.0,98.8 L974.0,98.9 L984.0,99.0 L994.0,99.2 L1004.0,99.3 L1014.0,99.5 L1024.0,99.6 L1034.0,99.8 L1044.0,100.0 L1054.0,100.2 L1064.0,100.4 L1074.0,100.6 L1084.0,100.9 L1094.0,101.1 L1104.0,101.4 L1114.0,101.7 L1124.0,102.1 L1134.0,102.4 L1144.0,102.8 L1154.0,103.3 L1164.0,103.7 L1174.0,104.3 L1184.0,104.8 L1194.0,105.5 L1204.0,106.2 L1214.0,107.0 L1224.0,107.8 L1234.0,108.8 L1244.0,109.9 L1254.0,111.1 L1264.0,112.5 L1274.0,114.1 L1284.0,116.0 L1294.0,118.1 L1304.0,120.6 L1314.0,123.6 L1323.5,126.8 L1333.0,130.7 L1342.5,135.3 L1351.5,140.5 L1360.0,146.4 L1368.0,153.0 L1375.5,160.4 L1382.5,168.6 L1388.5,176.9 L1394.0,185.6 L1399.0,194.6 L1403.5,203.8 L1408.0,214.1 L1412.0,224.4 L1415.5,234.2 L1419.0,245.1 L1422.0,255.2 L1425.0,266.3 L1427.5,276.3 L1430.0,287.0 L1432.5,298.4 L1435.0,310.5 L1437.0,320.9 L1439.0,331.8 L1441.0,343.3 L1443.0,355.5 L1445.0,368.5 L1446.5,378.7 L1448.0,389.3 L1449.5,400.2 L1451.0,411.3 L1452.5,422.6 L1454.0,434.0 L1455.5,445.5 L1457.0,456.8 L1458.5,467.9 L1460.0,478.5 L1461.5,488.6 L1463.5,500.6 L1465.5,510.5 L1468.5,520.2 L1470.0,522.2 L1471.0,522.3 L1472.5,520.6 L1475.5,510.6 L1477.5,499.9 L1479.5,486.9 L1481.0,476.3 L1482.5,465.0 L1484.0,453.5 L1485.5,441.9 L1487.0,430.3 L1488.5,418.8 L1490.0,407.4 L1491.5,396.4 L1493.0,385.7 L1494.5,375.4 L1496.0,365.5 L1498.0,353.0 L1500.0,341.3 L1502.0,330.2 L1504.0,319.8 L1506.0,309.9 L1508.5,298.4 L1511.0,287.5 L1513.5,277.4 L1516.5,266.1 L1519.5,255.8 L1523.0,244.7 L1526.5,234.7 L1530.5,224.3 L1534.5,214.9 L1539.0,205.3 L1544.0,195.9 L1549.5,186.8 L1555.5,178.2 L1562.0,170.0 L1569.0,162.5 L1576.5,155.7 L1584.5,149.5 L1593.0,143.9 L1602.0,138.9 L1611.5,134.3 L1621.0,130.5 L1630.5,127.2 L1640.5,124.2 L1650.5,121.6 L1660.5,119.4 L1670.5,117.4 L1680.5,115.7 L1690.5,114.1 L1700.5,112.8 L1710.5,111.6 L1720.5,110.5 L1730.5,109.5 L1740.5,108.6 L1750.5,107.8 L1760.5,107.1 L1770.5,106.4 L1780.5,105.8 L1790.5,105.3 L1800.5,104.8 L1810.5,104.3 L1820.5,103.9 L1830.5,103.5 L1840.5,103.1 L1850.5,102.8 L1860.5,102.5 L1870.5,102.2 L1880.5,101.9 L1890.5,101.6 L1900.5,101.4 L1910.5,101.2 L1920.5,100.9 L1930.5,100.7 L1940.5,100.5 L1950.5,100.4 L1960.5,100.2 L1970.5,100.0 L1980.5,99.9 L1990.5,99.7 L2000.5,99.6 L2010.5,99.5 L2020.5,99.4 L2030.5,99.2 L2040.5,99.1 L2050.5,99.0 L2060.5,98.9 L2070.5,98.8 L2080.5,98.8 L2090.5,98.7 L2094.5,98.6" stroke="#a84a40" stroke-width="3.8"/>
<path d="M472.8,143.8 L476.3,154.5 L479.8,165.6 L482.3,176.9 L484.8,188.1 L486.8,198.4 L488.3,208.3 L489.8,218.2 L491.3,228.1 L492.8,238.1 L494.3,248.1 L495.8,258.1 L497.3,272.6 L498.3,282.7 L499.8,296.6 L501.3,308.5 L502.8,320.4 L503.3,324.3 L504.3,342.9 L505.3,361.6 L506.3,380.8 L506.8,391.7 L507.3,402.6 L507.8,413.5 L508.3,424.3 L508.8,436.0 L509.3,448.7 L509.8,461.5 L510.3,474.3 L510.8,487.1 L511.3,499.8 L511.8,510.0 L512.3,520.1 L512.8,530.3 L513.3,540.4 L513.8,550.6 L514.3,560.7 L514.8,571.5 L515.3,583.0 L515.8,594.5 L516.3,606.0 L516.8,617.5 L517.3,629.0 L517.8,640.1 L518.3,650.7 L518.8,661.3 L519.3,671.9 L519.8,682.6 L520.3,680.9 L521.3,661.3 L522.3,641.7 L522.8,630.1 L523.3,615.7 L523.8,601.4" stroke="#1f9e94" stroke-width="3.2"/>
<path d="M218.5,97.0 L228.5,98.6 L238.5,98.7 L248.5,96.8 L258.5,95.9 L268.5,95.4 L278.5,96.3 L288.5,98.3 L298.5,99.6 L308.5,99.6 L318.5,99.3 L328.5,97.7 L338.5,96.4 L348.5,98.4 L358.0,102.1 L367.5,105.9 L377.5,106.5 L387.5,105.2 L397.5,103.7 L407.5,104.0 L412.0,105.3 L420.0,112.0 L428.5,118.0 L437.5,122.9 L446.5,127.8 L456.5,130.9 L465.0,137.0 L471.0,143.8 L474.5,154.5 L478.0,165.6 L480.5,176.9 L483.0,188.1 L485.0,198.4 L486.5,208.3 L488.0,218.2 L489.5,228.1 L491.0,238.1 L492.5,248.1 L494.0,258.1 L495.5,272.6 L496.5,282.7 L498.0,296.6 L499.5,308.5 L501.0,320.4 L501.5,324.3 L502.5,342.9 L503.5,361.6 L504.5,380.8 L505.0,391.7 L505.5,402.6 L506.0,413.5 L506.5,424.3 L507.0,436.0 L507.5,448.7 L508.0,461.5 L508.5,474.3 L509.0,487.1 L509.5,499.8 L510.0,510.0 L510.5,520.1 L511.0,530.3 L511.5,540.4 L512.0,550.6 L512.5,560.7 L513.0,571.5 L513.5,583.0 L514.0,594.5 L514.5,606.0 L515.0,617.5 L515.5,629.0 L516.0,640.1 L516.5,650.7 L517.0,661.3 L517.5,671.9 L518.0,682.6 L518.5,680.9 L519.5,661.3 L520.5,641.7 L521.0,630.1 L521.5,615.7 L522.0,601.4 L522.5,587.0 L523.0,572.6 L523.5,559.1 L524.0,546.2 L524.5,533.4 L525.0,520.5 L525.5,507.6 L526.0,494.8 L526.5,482.0 L527.0,469.2 L527.5,456.4 L528.0,443.7 L528.5,430.9 L529.5,419.0 L530.5,407.1 L531.5,395.2 L532.5,383.3 L533.5,370.1 L534.5,356.8 L535.5,343.8 L536.5,330.9 L537.5,320.0 L539.0,306.8 L540.5,293.7 L542.0,280.8 L543.5,268.0 L545.0,254.4 L546.0,244.2 L547.0,234.0 L548.5,221.6 L550.0,211.7 L551.5,201.8 L553.5,189.4 L555.5,178.1 L557.5,166.7 L560.5,155.8 L564.0,145.9 L568.0,135.9 L570.5,129.6 L578.5,123.2 L588.0,119.4 L597.5,115.7 L607.0,112.1 L615.5,106.4 L624.5,101.6 L634.0,97.9 L644.0,97.9 L654.0,98.7 L664.0,99.1 L674.0,99.1 L684.0,97.5 L694.0,95.8" stroke="#5a2c26" stroke-width="3.9"/>
</g>
<rect x="218.5" y="90.3" width="1876.0" height="610.2" fill="none" stroke="#000" stroke-width="4.4"/>
<line x1="207" y1="88.5" x2="218.5" y2="88.5" stroke="#222" stroke-width="2.6"/>
<line x1="207" y1="156.3" x2="218.5" y2="156.3" stroke="#222" stroke-width="2.6"/>
<line x1="207" y1="225.6" x2="218.5" y2="225.6" stroke="#222" stroke-width="2.6"/>
<line x1="207" y1="293.8" x2="218.5" y2="293.8" stroke="#222" stroke-width="2.6"/>
<line x1="207" y1="360.9" x2="218.5" y2="360.9" stroke="#222" stroke-width="2.6"/>
<line x1="207" y1="430.4" x2="218.5" y2="430.4" stroke="#222" stroke-width="2.6"/>
<line x1="207" y1="498.8" x2="218.5" y2="498.8" stroke="#222" stroke-width="2.6"/>
<line x1="207" y1="566.1" x2="218.5" y2="566.1" stroke="#222" stroke-width="2.6"/>
<line x1="207" y1="635.4" x2="218.5" y2="635.4" stroke="#222" stroke-width="2.6"/>
<line x1="207" y1="700.5" x2="218.5" y2="700.5" stroke="#222" stroke-width="2.6"/>
<line x1="218.5" y1="700.5" x2="218.5" y2="712.5" stroke="#222" stroke-width="2.6"/>
<line x1="485.6" y1="700.5" x2="485.6" y2="712.5" stroke="#222" stroke-width="2.6"/>
<line x1="753.3" y1="700.5" x2="753.3" y2="712.5" stroke="#222" stroke-width="2.6"/>
<line x1="1020.7" y1="700.5" x2="1020.7" y2="712.5" stroke="#222" stroke-width="2.6"/>
<line x1="1291.5" y1="700.5" x2="1291.5" y2="712.5" stroke="#222" stroke-width="2.6"/>
<line x1="1558.1" y1="700.5" x2="1558.1" y2="712.5" stroke="#222" stroke-width="2.6"/>
<line x1="1826.3" y1="700.5" x2="1826.3" y2="712.5" stroke="#222" stroke-width="2.6"/>
<line x1="2094.5" y1="700.5" x2="2094.5" y2="712.5" stroke="#222" stroke-width="2.6"/>
<rect x="612.9" y="118.3" width="696.9" height="520.9" fill="#fff" stroke="#000" stroke-width="2.6"/>
<rect x="628.5" y="141.8" width="82.1" height="15" fill="#000000"/>
<text x="729.3" y="172.8" font-family="'Liberation Sans', Arial, sans-serif" font-size="57.0" fill="#000000" text-anchor="start" textLength="528.0" lengthAdjust="spacingAndGlyphs">S11 C1=60 &amp; C2=8 pF</text>
<rect x="628.5" y="216.6" width="82.1" height="15" fill="#c0805a"/>
<text x="729.3" y="246.3" font-family="'Liberation Sans', Arial, sans-serif" font-size="57.0" fill="#c0805a" text-anchor="start" textLength="559.0" lengthAdjust="spacingAndGlyphs">S11 C1=60 &amp; C2=10 pF</text>
<rect x="628.5" y="291.4" width="82.1" height="15" fill="#9bc45a"/>
<text x="729.3" y="319.8" font-family="'Liberation Sans', Arial, sans-serif" font-size="57.0" fill="#9bc45a" text-anchor="start" textLength="559.0" lengthAdjust="spacingAndGlyphs">S11 C1=60 &amp; C2=12 pF</text>
<rect x="628.5" y="366.2" width="82.1" height="15" fill="#a0508f"/>
<text x="729.3" y="393.3" font-family="'Liberation Sans', Arial, sans-serif" font-size="57.0" fill="#a0508f" text-anchor="start" textLength="559.0" lengthAdjust="spacingAndGlyphs">S11 C1=60 &amp; C2=15 pF</text>
<rect x="628.5" y="441.0" width="82.1" height="15" fill="#6e9cc0"/>
<text x="729.3" y="466.8" font-family="'Liberation Sans', Arial, sans-serif" font-size="57.0" fill="#6e9cc0" text-anchor="start" textLength="559.0" lengthAdjust="spacingAndGlyphs">S11 C1=60 &amp; C2=20 pF</text>
<rect x="628.5" y="515.8" width="82.1" height="15" fill="#00c0c4"/>
<text x="729.3" y="540.3" font-family="'Liberation Sans', Arial, sans-serif" font-size="57.0" fill="#00c0c4" text-anchor="start" textLength="559.0" lengthAdjust="spacingAndGlyphs">S11 C1=60 &amp; C2=30 pF</text>
<rect x="628.5" y="590.6" width="82.1" height="15" fill="#a85450"/>
<text x="729.3" y="613.8" font-family="'Liberation Sans', Arial, sans-serif" font-size="57.0" fill="#a85450" text-anchor="start" textLength="559.0" lengthAdjust="spacingAndGlyphs">S11 C1=60 &amp; C2=60 pF</text>
<text x="907.0" y="57.0" font-family="'Liberation Sans', Arial, sans-serif" font-size="42.0" fill="#000" text-anchor="start" textLength="502.0" lengthAdjust="spacingAndGlyphs">S-Parameters [Magnitude]</text>
<text x="955.5" y="834.5" font-family="'Liberation Sans', Arial, sans-serif" font-size="41.0" fill="#000" text-anchor="start" textLength="316.5" lengthAdjust="spacingAndGlyphs">Frequency / GHz</text>
<text x="0" y="0" font-family="'Liberation Sans', Arial, sans-serif" font-size="50" fill="#000" text-anchor="middle" textLength="57" lengthAdjust="spacingAndGlyphs" transform="translate(95.5,390) rotate(-90)">dB</text>
<text x="189.5" y="101.5" font-family="'Liberation Sans', Arial, sans-serif" font-size="50.0" fill="#000" text-anchor="end">0</text>
<text x="189.5" y="169.1" font-family="'Liberation Sans', Arial, sans-serif" font-size="50.0" fill="#000" text-anchor="end">-2</text>
<text x="189.5" y="236.7" font-family="'Liberation Sans', Arial, sans-serif" font-size="50.0" fill="#000" text-anchor="end">-4</text>
<text x="189.5" y="304.3" font-family="'Liberation Sans', Arial, sans-serif" font-size="50.0" fill="#000" text-anchor="end">-6</text>
<text x="189.5" y="371.9" font-family="'Liberation Sans', Arial, sans-serif" font-size="50.0" fill="#000" text-anchor="end">-8</text>
<text x="189.5" y="439.5" font-family="'Liberation Sans', Arial, sans-serif" font-size="50.0" fill="#000" text-anchor="end">-10</text>
<text x="189.5" y="507.1" font-family="'Liberation Sans', Arial, sans-serif" font-size="50.0" fill="#000" text-anchor="end">-12</text>
<text x="189.5" y="574.7" font-family="'Liberation Sans', Arial, sans-serif" font-size="50.0" fill="#000" text-anchor="end">-14</text>
<text x="189.5" y="642.3" font-family="'Liberation Sans', Arial, sans-serif" font-size="50.0" fill="#000" text-anchor="end">16</text>
<text x="189.5" y="709.9" font-family="'Liberation Sans', Arial, sans-serif" font-size="50.0" fill="#000" text-anchor="end">-18</text>
<text x="227.7" y="766.7" font-family="'Liberation Sans', Arial, sans-serif" font-size="42.5" fill="#000" text-anchor="middle">0.65</text>
<text x="501.5" y="766.7" font-family="'Liberation Sans', Arial, sans-serif" font-size="42.5" fill="#000" text-anchor="middle">0.7</text>
<text x="766.0" y="766.7" font-family="'Liberation Sans', Arial, sans-serif" font-size="42.5" fill="#000" text-anchor="middle">0.75</text>
<text x="1027.0" y="766.7" font-family="'Liberation Sans', Arial, sans-serif" font-size="42.5" fill="#000" text-anchor="middle">0.8</text>
<text x="1287.2" y="766.7" font-family="'Liberation Sans', Arial, sans-serif" font-size="42.5" fill="#000" text-anchor="middle">0.85</text>
<text x="1567.0" y="766.7" font-family="'Liberation Sans', Arial, sans-serif" font-size="42.5" fill="#000" text-anchor="middle">0.9</text>
<text x="1828.0" y="766.7" font-family="'Liberation Sans', Arial, sans-serif" font-size="42.5" fill="#000" text-anchor="middle">0.95</text>
<text x="2092.5" y="766.7" font-family="'Liberation Sans', Arial, sans-serif" font-size="42.5" fill="#000" text-anchor="middle">1</text>
<rect x="491.1" y="951" width="875" height="867" fill="#c5c5c5"/>
<line x1="196" y1="1094.8" x2="2118.2" y2="1094.8" stroke="#707070" stroke-width="2.8" stroke-dasharray="6.5,8.9"/>
<line x1="196" y1="1241.1" x2="2118.2" y2="1241.1" stroke="#5a5a5a" stroke-width="2.8" stroke-dasharray="6.5,8.9"/>
<line x1="196" y1="1385.9" x2="2118.2" y2="1385.9" stroke="#555" stroke-width="2.8" stroke-dasharray="6.5,8.9"/>
<line x1="196" y1="1530.3" x2="2118.2" y2="1530.3" stroke="#3a3a3a" stroke-width="2.8" stroke-dasharray="6.5,8.9"/>
<line x1="196" y1="1679.0" x2="2118.2" y2="1679.0" stroke="#444" stroke-width="2.8" stroke-dasharray="6.5,8.9"/>
<line x1="481.6" y1="948.0" x2="481.6" y2="1822.1" stroke="#8a8a8a" stroke-width="2.5" stroke-dasharray="6,5.6"/>
<line x1="753.7" y1="948.0" x2="753.7" y2="1822.1" stroke="#555" stroke-width="2.5" stroke-dasharray="6,5.6"/>
<line x1="1027.6" y1="948.0" x2="1027.6" y2="1822.1" stroke="#555" stroke-width="2.5" stroke-dasharray="6,5.6"/>
<line x1="1296.8" y1="948.0" x2="1296.8" y2="1822.1" stroke="#555" stroke-width="2.5" stroke-dasharray="6,5.6"/>
<line x1="1570.2" y1="948.0" x2="1570.2" y2="1822.1" stroke="#555" stroke-width="2.5" stroke-dasharray="6,5.6"/>
<line x1="1844.1" y1="948.0" x2="1844.1" y2="1822.1" stroke="#555" stroke-width="2.5" stroke-dasharray="6,5.6"/>
<g fill="none" stroke-linejoin="round" stroke-linecap="round">
<path d="M207.5,957.2 L217.5,957.2 L227.5,957.3 L237.5,957.3 L247.5,957.3 L257.5,957.3 L267.5,957.3 L277.5,957.3 L287.5,957.3 L297.5,957.3 L307.5,957.3 L317.5,957.3 L327.5,957.3 L337.5,957.4 L347.5,957.4 L357.5,957.4 L367.5,957.4 L377.5,957.4 L387.5,957.4 L397.5,957.4 L407.5,957.5 L417.5,957.5 L427.5,957.5 L437.5,957.5 L447.5,957.5 L457.5,957.5 L467.5,957.5 L477.5,957.6 L487.5,957.6 L497.5,957.6 L507.5,957.6 L517.5,957.6 L527.5,957.7 L537.5,957.7 L547.5,957.7 L557.5,957.7 L567.5,957.8 L577.5,957.8 L587.5,957.8 L597.5,957.8 L607.5,957.9 L617.5,957.9 L627.5,957.9 L637.5,958.0 L647.5,958.0 L657.5,958.0 L667.5,958.1 L677.5,958.1 L687.6,958.2 L697.6,958.2 L707.6,958.2 L717.6,958.3 L727.6,958.3 L737.6,958.4 L747.6,958.5 L757.6,958.5 L767.6,958.6 L777.6,958.6 L787.6,958.7 L797.6,958.8 L807.6,958.9 L817.6,958.9 L827.6,959.0 L837.6,959.1 L847.6,959.2 L857.6,959.3 L867.6,959.4 L877.6,959.5 L887.6,959.6 L897.6,959.8 L907.6,959.9 L917.6,960.1 L927.6,960.2 L937.6,960.4 L947.6,960.6 L957.6,960.7 L967.6,960.9 L977.6,961.2 L987.6,961.4 L997.6,961.7 L1007.6,961.9 L1017.6,962.2 L1027.6,962.5 L1037.6,962.9 L1047.6,963.3 L1057.6,963.7 L1067.6,964.2 L1077.6,964.7 L1087.6,965.2 L1097.6,965.8 L1107.6,966.5 L1117.6,967.2 L1127.6,968.0 L1137.6,969.0 L1147.6,970.0 L1157.6,971.1 L1167.6,972.4 L1177.6,973.9 L1187.6,975.7 L1197.6,977.7 L1207.6,980.1 L1217.6,983.1 L1227.1,986.6 L1236.6,991.0 L1245.6,996.5 L1253.6,1002.8 L1260.6,1010.0 L1267.1,1018.5 L1272.6,1027.6 L1277.1,1036.6 L1281.1,1046.0 L1284.6,1055.6 L1288.1,1066.6 L1291.1,1077.3 L1293.6,1087.2 L1296.1,1098.0 L1298.6,1109.7 L1300.6,1119.7 L1302.6,1130.4 L1304.6,1141.8 L1306.6,1153.9 L1308.6,1166.6 L1310.1,1176.5 L1311.6,1186.8 L1313.1,1197.3 L1314.6,1208.1 L1316.1,1219.0 L1317.6,1229.8 L1319.1,1240.6 L1320.6,1251.1 L1322.1,1261.1 L1324.1,1273.3 L1326.1,1283.8 L1328.6,1293.6 L1331.1,1298.6 L1332.1,1299.0 L1333.6,1297.8 L1337.1,1286.3 L1339.1,1275.3 L1341.1,1262.0 L1342.6,1251.0 L1344.1,1239.6 L1345.6,1228.0 L1347.1,1216.5 L1348.6,1205.1 L1350.1,1194.1 L1351.6,1183.4 L1353.1,1173.3 L1355.1,1160.6 L1357.1,1148.8 L1359.1,1138.0 L1361.1,1128.1 L1363.6,1117.1 L1366.1,1107.4 L1369.1,1097.4 L1372.6,1087.8 L1377.1,1078.2 L1383.1,1069.5 L1391.1,1063.5 L1401.1,1062.3 L1410.6,1065.7 L1419.1,1071.5 L1426.6,1078.5 L1433.6,1086.4 L1440.1,1095.0 L1446.1,1103.9 L1451.6,1112.9 L1456.6,1121.8 L1461.6,1131.5 L1466.1,1140.9 L1470.6,1151.0 L1474.6,1160.5 L1478.6,1170.5 L1482.6,1181.2 L1486.1,1191.0 L1489.6,1201.2 L1493.1,1211.9 L1496.6,1223.0 L1499.6,1232.9 L1502.6,1243.0 L1505.6,1253.3 L1508.6,1263.8 L1511.6,1274.5 L1514.6,1285.3 L1517.6,1296.1 L1520.6,1306.8 L1523.6,1317.2 L1526.6,1327.3 L1530.1,1338.4 L1533.6,1348.4 L1537.6,1358.1 L1542.6,1366.9 L1547.6,1371.2 L1550.1,1371.1 L1553.1,1367.4 L1556.6,1357.3 L1559.1,1346.8 L1561.1,1336.8 L1563.1,1325.9 L1565.1,1314.3 L1567.1,1302.4 L1569.1,1290.4 L1571.1,1278.4 L1573.1,1266.5 L1575.1,1255.0 L1577.1,1243.7 L1579.1,1232.7 L1581.1,1222.1 L1583.1,1212.0 L1585.6,1199.8 L1588.1,1188.3 L1590.6,1177.4 L1593.1,1167.2 L1596.1,1155.6 L1599.1,1144.9 L1602.1,1134.9 L1605.6,1124.1 L1609.1,1114.2 L1613.1,1103.9 L1617.1,1094.5 L1621.6,1084.9 L1626.6,1075.5 L1632.1,1066.3 L1638.1,1057.5 L1644.7,1049.3 L1651.7,1041.6 L1659.2,1034.6 L1667.2,1028.2 L1675.7,1022.4 L1684.7,1017.2 L1693.7,1012.7 L1703.2,1008.6 L1712.7,1004.9 L1722.2,1001.8 L1732.2,998.8 L1742.2,996.1 L1752.2,993.7 L1762.2,991.6 L1772.2,989.6 L1782.2,987.8 L1792.2,986.1 L1802.2,984.6 L1812.2,983.1 L1822.2,981.8 L1832.2,980.6 L1842.2,979.5 L1852.2,978.4 L1862.2,977.4 L1872.2,976.5 L1882.2,975.6 L1892.2,974.8 L1902.2,974.0 L1912.2,973.3 L1922.2,972.6 L1932.2,972.0 L1942.2,971.3 L1952.2,970.8 L1962.2,970.2 L1972.2,969.7 L1982.2,969.2 L1992.2,968.8 L2002.2,968.4 L2012.2,967.9 L2022.2,967.5 L2032.2,967.2 L2042.2,966.8 L2052.2,966.5 L2062.2,966.2 L2072.2,965.9 L2082.2,965.6 L2092.2,965.3 L2102.2,965.0 L2112.2,964.8 L2118.2,964.7" stroke="#c07a50" stroke-width="4.8"/>
<path d="M207.5,957.2 L217.5,957.2 L227.5,957.2 L237.5,957.3 L247.5,957.3 L257.5,957.3 L267.5,957.3 L277.5,957.3 L287.5,957.3 L297.5,957.3 L307.5,957.3 L317.5,957.3 L327.5,957.3 L337.5,957.3 L347.5,957.4 L357.5,957.4 L367.5,957.4 L377.5,957.4 L387.5,957.4 L397.5,957.4 L407.5,957.4 L417.5,957.4 L427.5,957.5 L437.5,957.5 L447.5,957.5 L457.5,957.5 L467.5,957.5 L477.5,957.5 L487.5,957.6 L497.5,957.6 L507.5,957.6 L517.5,957.6 L527.5,957.6 L537.5,957.7 L547.5,957.7 L557.5,957.7 L567.5,957.7 L577.5,957.8 L587.5,957.8 L597.5,957.8 L607.5,957.8 L617.5,957.9 L627.5,957.9 L637.5,957.9 L647.5,958.0 L657.5,958.0 L667.5,958.0 L677.5,958.1 L687.6,958.1 L697.6,958.1 L707.6,958.2 L717.6,958.2 L727.6,958.3 L737.6,958.3 L747.6,958.4 L757.6,958.4 L767.6,958.5 L777.6,958.6 L787.6,958.6 L797.6,958.7 L807.6,958.8 L817.6,958.9 L827.6,958.9 L837.6,959.0 L847.6,959.1 L857.6,959.2 L867.6,959.3 L877.6,959.4 L887.6,959.5 L897.6,959.7 L907.6,959.8 L917.6,959.9 L927.6,960.1 L937.6,960.3 L947.6,960.5 L957.6,960.6 L967.6,960.9 L977.6,961.1 L987.6,961.3 L997.6,961.6 L1007.6,961.9 L1017.6,962.2 L1027.6,962.5 L1037.6,962.9 L1047.6,963.4 L1057.6,963.8 L1067.6,964.4 L1077.6,965.0 L1087.6,965.6 L1097.6,966.4 L1107.6,967.2 L1117.6,968.2 L1127.6,969.4 L1137.6,970.8 L1147.6,972.4 L1157.6,974.5 L1167.6,977.1 L1177.1,980.4 L1186.6,984.9 L1195.1,990.3 L1203.1,997.3 L1210.1,1005.5 L1215.6,1013.9 L1220.6,1023.5 L1224.6,1032.9 L1228.1,1042.6 L1231.1,1052.3 L1234.1,1063.3 L1236.6,1073.6 L1239.1,1085.2 L1241.1,1095.4 L1243.1,1106.5 L1245.1,1118.6 L1247.1,1131.8 L1248.6,1142.4 L1250.1,1153.8 L1251.6,1166.0 L1253.1,1178.9 L1254.6,1192.6 L1256.1,1207.3 L1257.1,1217.6 L1258.1,1228.2 L1259.1,1239.3 L1260.1,1250.8 L1261.1,1262.6 L1262.1,1274.8 L1263.1,1287.4 L1264.1,1300.3 L1265.1,1313.4 L1266.1,1326.6 L1267.1,1339.7 L1268.1,1352.6 L1269.1,1364.9 L1270.1,1376.4 L1271.1,1386.5 L1272.6,1398.4 L1274.1,1405.0 L1274.6,1405.9 L1275.1,1406.1 L1276.1,1404.1 L1278.1,1391.8 L1279.6,1376.5 L1280.6,1364.4 L1281.6,1351.3 L1282.6,1337.6 L1283.6,1323.7 L1284.6,1309.8 L1285.6,1296.0 L1286.6,1282.6 L1287.6,1269.5 L1288.6,1256.9 L1289.6,1244.7 L1290.6,1232.9 L1291.6,1221.6 L1292.6,1210.7 L1293.6,1200.3 L1295.1,1185.6 L1296.6,1171.9 L1298.1,1159.2 L1299.6,1147.4 L1301.1,1136.4 L1302.6,1126.2 L1304.6,1113.6 L1306.6,1102.1 L1308.6,1091.7 L1311.1,1080.0 L1313.6,1069.6 L1316.6,1058.8 L1320.1,1048.0 L1324.1,1037.9 L1328.6,1028.8 L1334.1,1020.3 L1341.1,1012.7 L1349.6,1007.0 L1359.1,1003.7 L1369.1,1002.9 L1379.1,1004.2 L1389.1,1007.2 L1398.6,1011.7 L1407.1,1017.2 L1415.1,1023.7 L1422.6,1031.3 L1429.1,1039.1 L1435.1,1047.4 L1440.6,1056.2 L1445.6,1065.3 L1450.1,1074.5 L1454.6,1084.6 L1458.6,1094.6 L1462.1,1104.1 L1465.6,1114.5 L1468.6,1124.1 L1471.6,1134.4 L1474.6,1145.5 L1477.1,1155.3 L1479.6,1165.8 L1482.1,1177.0 L1484.6,1188.9 L1486.6,1199.0 L1488.6,1209.6 L1490.6,1220.8 L1492.6,1232.6 L1494.6,1245.0 L1496.6,1258.1 L1498.1,1268.4 L1499.6,1279.1 L1501.1,1290.3 L1502.6,1302.1 L1504.1,1314.4 L1505.6,1327.4 L1507.1,1341.0 L1508.6,1355.3 L1509.6,1365.3 L1510.6,1375.7 L1511.6,1386.5 L1512.6,1397.6 L1513.6,1409.3 L1514.6,1421.4 L1515.6,1434.1 L1516.6,1447.3 L1517.6,1461.1 L1518.6,1475.6 L1519.6,1490.8 L1520.6,1506.9 L1521.6,1523.8 L1522.6,1541.8 L1523.6,1560.8 L1524.6,1580.8 L1525.1,1591.2 L1525.6,1601.8 L1526.1,1612.6 L1526.6,1623.5 L1527.1,1634.5 L1527.6,1645.6 L1528.1,1656.6 L1528.6,1667.5 L1529.1,1678.1 L1529.6,1688.3 L1530.6,1706.9 L1531.6,1721.8 L1532.6,1731.5 L1533.1,1733.8 L1533.6,1734.1 L1534.6,1728.2 L1535.6,1713.6 L1536.1,1703.6 L1536.6,1692.2 L1537.1,1679.6 L1537.6,1666.3 L1538.1,1652.6 L1538.6,1638.6 L1539.1,1624.6 L1539.6,1610.7 L1540.1,1597.1 L1540.6,1583.8 L1541.1,1570.9 L1541.6,1558.4 L1542.1,1546.3 L1542.6,1534.7 L1543.1,1523.5 L1543.6,1512.7 L1544.1,1502.3 L1545.1,1482.7 L1546.1,1464.4 L1547.1,1447.2 L1548.1,1431.1 L1549.1,1415.9 L1550.1,1401.6 L1551.1,1388.0 L1552.1,1375.2 L1553.1,1363.0 L1554.1,1351.3 L1555.1,1340.3 L1556.1,1329.7 L1557.1,1319.6 L1558.6,1305.3 L1560.1,1291.9 L1561.6,1279.3 L1563.1,1267.4 L1564.6,1256.1 L1566.1,1245.5 L1567.6,1235.4 L1569.6,1222.6 L1571.6,1210.7 L1573.6,1199.6 L1575.6,1189.1 L1577.6,1179.3 L1580.1,1167.9 L1582.6,1157.3 L1585.1,1147.4 L1588.1,1136.5 L1591.1,1126.5 L1594.6,1115.8 L1598.1,1106.1 L1602.1,1096.1 L1606.6,1086.0 L1611.1,1077.0 L1616.1,1068.2 L1621.6,1059.6 L1627.6,1051.5 L1634.1,1043.9 L1641.7,1036.4 L1649.7,1029.6 L1658.2,1023.5 L1667.2,1018.0 L1676.2,1013.3 L1685.7,1009.0 L1695.2,1005.3 L1704.7,1002.0 L1714.7,999.0 L1724.7,996.3 L1734.7,993.8 L1744.7,991.6 L1754.7,989.6 L1764.7,987.8 L1774.7,986.1 L1784.7,984.6 L1794.7,983.1 L1804.7,981.8 L1814.7,980.6 L1824.7,979.4 L1834.7,978.4 L1844.7,977.4 L1854.7,976.4 L1864.7,975.6 L1874.7,974.7 L1884.7,974.0 L1894.7,973.3 L1904.7,972.6 L1914.7,971.9 L1924.7,971.3 L1934.7,970.8 L1944.7,970.2 L1954.7,969.7 L1964.7,969.2 L1974.7,968.8 L1984.7,968.3 L1994.7,967.9 L2004.7,967.5 L2014.7,967.2 L2024.7,966.8 L2034.7,966.5 L2044.7,966.1 L2054.7,965.8 L2064.7,965.5 L2074.7,965.3 L2084.7,965.0 L2094.7,964.7 L2104.7,964.5 L2114.7,964.3 L2118.2,964.2" stroke="#ff80f0" stroke-width="4.8"/>
<path d="M207.5,957.3 L217.5,957.3 L227.5,957.3 L237.5,957.3 L247.5,957.3 L257.5,957.3 L267.5,957.3 L277.5,957.3 L287.5,957.3 L297.5,957.4 L307.5,957.4 L317.5,957.4 L327.5,957.4 L337.5,957.4 L347.5,957.4 L357.5,957.4 L367.5,957.4 L377.5,957.5 L387.5,957.5 L397.5,957.5 L407.5,957.5 L417.5,957.5 L427.5,957.5 L437.5,957.5 L447.5,957.6 L457.5,957.6 L467.5,957.6 L477.5,957.6 L487.5,957.6 L497.5,957.7 L507.5,957.7 L517.5,957.7 L527.5,957.7 L537.5,957.8 L547.5,957.8 L557.5,957.8 L567.5,957.8 L577.5,957.9 L587.5,957.9 L597.5,957.9 L607.5,958.0 L617.5,958.0 L627.5,958.0 L637.5,958.1 L647.5,958.1 L657.5,958.2 L667.5,958.2 L677.5,958.3 L687.6,958.3 L697.6,958.4 L707.6,958.4 L717.6,958.5 L727.6,958.5 L737.6,958.6 L747.6,958.7 L757.6,958.7 L767.6,958.8 L777.6,958.9 L787.6,959.0 L797.6,959.1 L807.6,959.2 L817.6,959.3 L827.6,959.4 L837.6,959.5 L847.6,959.6 L857.6,959.8 L867.6,959.9 L877.6,960.1 L887.6,960.2 L897.6,960.4 L907.6,960.6 L917.6,960.8 L927.6,961.0 L937.6,961.3 L947.6,961.5 L957.6,961.8 L967.6,962.1 L977.6,962.5 L987.6,962.9 L997.6,963.3 L1007.6,963.8 L1017.6,964.3 L1027.6,964.9 L1037.6,965.5 L1047.6,966.3 L1057.6,967.2 L1067.6,968.2 L1077.6,969.4 L1087.6,970.8 L1097.6,972.6 L1107.6,974.9 L1117.6,977.8 L1127.1,981.6 L1136.1,986.6 L1144.6,993.0 L1151.6,1000.2 L1157.6,1008.3 L1163.1,1017.9 L1167.6,1027.6 L1171.6,1038.1 L1175.1,1048.8 L1178.1,1059.5 L1180.6,1069.4 L1183.1,1080.5 L1185.6,1092.7 L1187.6,1103.4 L1189.6,1115.0 L1191.6,1127.5 L1193.1,1137.5 L1194.6,1148.0 L1196.1,1159.1 L1197.6,1170.7 L1199.1,1182.9 L1200.6,1195.6 L1202.1,1208.7 L1203.6,1222.2 L1205.1,1235.9 L1206.6,1249.7 L1208.1,1263.2 L1209.6,1276.2 L1211.1,1288.3 L1212.6,1299.0 L1214.6,1310.2 L1216.6,1316.7 L1217.6,1318.0 L1218.6,1317.9 L1220.1,1315.0 L1222.6,1303.8 L1224.6,1290.2 L1226.1,1278.2 L1227.6,1265.2 L1229.1,1251.7 L1230.6,1237.9 L1232.1,1224.0 L1233.6,1210.4 L1235.1,1197.2 L1236.6,1184.5 L1238.1,1172.2 L1239.6,1160.5 L1241.1,1149.4 L1242.6,1138.9 L1244.1,1128.9 L1246.1,1116.4 L1248.1,1104.9 L1250.1,1094.2 L1252.1,1084.4 L1254.6,1073.3 L1257.1,1063.3 L1260.1,1052.6 L1263.6,1041.9 L1267.6,1031.6 L1272.1,1022.1 L1277.6,1012.9 L1284.1,1004.8 L1291.6,998.1 L1300.6,992.7 L1310.1,989.3 L1320.1,987.3 L1330.1,986.5 L1340.1,986.8 L1350.1,988.1 L1360.1,990.4 L1369.6,993.6 L1379.1,998.0 L1388.1,1003.5 L1396.1,1009.7 L1403.6,1017.0 L1410.1,1024.7 L1416.1,1033.0 L1421.6,1042.0 L1426.6,1051.5 L1431.1,1061.1 L1435.1,1070.8 L1439.1,1081.6 L1442.6,1092.0 L1445.6,1101.8 L1448.6,1112.4 L1451.6,1124.0 L1454.1,1134.4 L1456.6,1145.5 L1459.1,1157.5 L1461.1,1167.8 L1463.1,1178.6 L1465.1,1190.1 L1467.1,1202.4 L1469.1,1215.4 L1470.6,1225.7 L1472.1,1236.5 L1473.6,1247.8 L1475.1,1259.6 L1476.6,1272.1 L1478.1,1285.2 L1479.6,1299.1 L1481.1,1313.8 L1482.1,1324.1 L1483.1,1334.9 L1484.1,1346.1 L1485.1,1357.8 L1486.1,1370.0 L1487.1,1382.8 L1488.1,1396.3 L1489.1,1410.4 L1490.1,1425.3 L1491.1,1441.0 L1492.1,1457.7 L1493.1,1475.3 L1494.1,1494.2 L1495.1,1514.3 L1495.6,1525.0 L1496.1,1536.1 L1496.6,1547.5 L1497.1,1559.4 L1497.6,1571.8 L1498.1,1584.5 L1498.6,1597.7 L1499.1,1611.1 L1499.6,1624.9 L1500.1,1639.0 L1500.6,1653.1 L1501.1,1667.1 L1501.6,1680.9 L1502.1,1694.1 L1502.6,1706.5 L1503.1,1717.8 L1504.1,1735.5 L1505.1,1744.0 L1505.6,1744.1 L1506.6,1735.4 L1507.6,1716.4 L1508.1,1703.9 L1508.6,1690.1 L1509.1,1675.4 L1509.6,1660.1 L1510.1,1644.5 L1510.6,1629.0 L1511.1,1613.7 L1511.6,1598.8 L1512.1,1584.3 L1512.6,1570.3 L1513.1,1556.8 L1513.6,1543.8 L1514.1,1531.4 L1514.6,1519.5 L1515.1,1508.1 L1515.6,1497.1 L1516.1,1486.6 L1516.6,1476.5 L1517.6,1457.3 L1518.6,1439.4 L1519.6,1422.7 L1520.6,1407.0 L1521.6,1392.3 L1522.6,1378.3 L1523.6,1365.1 L1524.6,1352.7 L1525.6,1340.8 L1526.6,1329.6 L1527.6,1318.8 L1528.6,1308.6 L1530.1,1294.1 L1531.6,1280.6 L1533.1,1267.8 L1534.6,1255.9 L1536.1,1244.6 L1537.6,1233.9 L1539.1,1223.7 L1541.1,1211.0 L1543.1,1199.2 L1545.1,1188.1 L1547.1,1177.8 L1549.6,1165.8 L1552.1,1154.7 L1554.6,1144.5 L1557.6,1133.2 L1560.6,1122.9 L1564.1,1112.0 L1567.6,1102.1 L1571.6,1092.0 L1576.1,1081.9 L1581.1,1072.1 L1586.6,1062.6 L1592.6,1053.8 L1599.1,1045.6 L1606.1,1038.1 L1613.6,1031.4 L1621.6,1025.2 L1630.1,1019.7 L1639.1,1014.8 L1648.7,1010.3 L1658.2,1006.5 L1667.7,1003.1 L1677.7,1000.0 L1687.7,997.2 L1697.7,994.8 L1707.7,992.5 L1717.7,990.5 L1727.7,988.6 L1737.7,986.9 L1747.7,985.3 L1757.7,983.9 L1767.7,982.5 L1777.7,981.2 L1787.7,980.1 L1797.7,979.0 L1807.7,977.9 L1817.7,977.0 L1827.7,976.1 L1837.7,975.2 L1847.7,974.4 L1857.7,973.7 L1867.7,973.0 L1877.7,972.3 L1887.7,971.7 L1897.7,971.1 L1907.7,970.5 L1917.7,970.0 L1927.7,969.5 L1937.7,969.0 L1947.7,968.6 L1957.7,968.2 L1967.7,967.8 L1977.7,967.4 L1987.7,967.0 L1997.7,966.7 L2007.7,966.3 L2017.7,966.0 L2027.7,965.7 L2037.7,965.4 L2047.7,965.2 L2057.7,964.9 L2067.7,964.7 L2077.7,964.4 L2087.7,964.2 L2097.7,964.0 L2107.7,963.8 L2117.7,963.6 L2118.2,963.6" stroke="#9a90ff" stroke-width="4.8"/>
<path d="M207.5,957.3 L217.5,957.3 L227.5,957.3 L237.5,957.3 L247.5,957.4 L257.5,957.4 L267.5,957.4 L277.5,957.4 L287.5,957.4 L297.5,957.4 L307.5,957.4 L317.5,957.4 L327.5,957.5 L337.5,957.5 L347.5,957.5 L357.5,957.5 L367.5,957.5 L377.5,957.5 L387.5,957.6 L397.5,957.6 L407.5,957.6 L417.5,957.6 L427.5,957.6 L437.5,957.7 L447.5,957.7 L457.5,957.7 L467.5,957.7 L477.5,957.8 L487.5,957.8 L497.5,957.8 L507.5,957.8 L517.5,957.9 L527.5,957.9 L537.5,957.9 L547.5,958.0 L557.5,958.0 L567.5,958.0 L577.5,958.1 L587.5,958.1 L597.5,958.2 L607.5,958.2 L617.5,958.2 L627.5,958.3 L637.5,958.3 L647.5,958.4 L657.5,958.5 L667.5,958.5 L677.5,958.6 L687.6,958.7 L697.6,958.7 L707.6,958.8 L717.6,958.9 L727.6,959.0 L737.6,959.1 L747.6,959.2 L757.6,959.3 L767.6,959.4 L777.6,959.5 L787.6,959.6 L797.6,959.8 L807.6,959.9 L817.6,960.1 L827.6,960.2 L837.6,960.4 L847.6,960.6 L857.6,960.8 L867.6,961.0 L877.6,961.3 L887.6,961.6 L897.6,961.9 L907.6,962.2 L917.6,962.5 L927.6,962.9 L937.6,963.4 L947.6,963.9 L957.6,964.4 L967.6,965.0 L977.6,965.7 L987.6,966.5 L997.6,967.4 L1007.6,968.5 L1017.6,969.8 L1027.6,971.4 L1037.6,973.4 L1047.6,976.0 L1057.1,979.2 L1066.6,983.7 L1075.1,989.1 L1082.6,995.8 L1089.1,1003.4 L1094.6,1011.8 L1099.6,1021.5 L1103.6,1031.0 L1107.1,1040.8 L1110.1,1050.6 L1113.1,1061.8 L1115.6,1072.4 L1118.1,1084.2 L1120.1,1094.8 L1122.1,1106.2 L1124.1,1118.8 L1125.6,1129.0 L1127.1,1140.0 L1128.6,1151.7 L1130.1,1164.2 L1131.6,1177.7 L1133.1,1192.1 L1134.1,1202.3 L1135.1,1213.0 L1136.1,1224.2 L1137.1,1235.9 L1138.1,1248.2 L1139.1,1261.0 L1140.1,1274.3 L1141.1,1288.3 L1142.1,1302.8 L1143.1,1317.9 L1144.1,1333.5 L1145.1,1349.5 L1146.1,1365.7 L1147.1,1381.9 L1148.1,1397.6 L1149.1,1412.4 L1150.1,1425.6 L1151.1,1436.5 L1152.6,1447.0 L1153.6,1449.4 L1154.1,1449.1 L1155.1,1445.5 L1156.6,1433.4 L1157.6,1421.6 L1158.6,1407.8 L1159.6,1392.6 L1160.6,1376.6 L1161.6,1360.3 L1162.6,1344.1 L1163.6,1328.2 L1164.6,1312.7 L1165.6,1297.7 L1166.6,1283.3 L1167.6,1269.6 L1168.6,1256.4 L1169.6,1243.8 L1170.6,1231.7 L1171.6,1220.2 L1172.6,1209.1 L1173.6,1198.6 L1174.6,1188.6 L1176.1,1174.4 L1177.6,1161.2 L1179.1,1148.9 L1180.6,1137.4 L1182.1,1126.7 L1183.6,1116.7 L1185.6,1104.4 L1187.6,1093.1 L1189.6,1082.9 L1192.1,1071.3 L1194.6,1061.0 L1197.6,1050.1 L1201.1,1039.2 L1205.1,1028.7 L1209.6,1019.1 L1215.1,1009.7 L1221.6,1001.3 L1229.1,994.2 L1237.6,988.5 L1247.1,984.1 L1257.1,981.0 L1267.1,978.9 L1277.1,977.6 L1287.1,976.9 L1297.1,976.5 L1307.1,976.6 L1317.1,977.1 L1327.1,977.9 L1337.1,979.2 L1347.1,980.9 L1357.1,983.2 L1367.1,986.2 L1376.6,989.8 L1386.1,994.2 L1395.1,999.4 L1403.6,1005.4 L1411.6,1012.3 L1419.1,1020.0 L1425.6,1027.8 L1431.6,1036.2 L1437.1,1045.0 L1442.1,1054.0 L1446.6,1063.1 L1451.1,1073.2 L1455.1,1083.1 L1458.6,1092.6 L1462.1,1102.9 L1465.1,1112.5 L1468.1,1122.7 L1471.1,1133.8 L1473.6,1143.7 L1476.1,1154.2 L1478.6,1165.4 L1481.1,1177.3 L1483.1,1187.4 L1485.1,1198.0 L1487.1,1209.2 L1489.1,1221.1 L1491.1,1233.6 L1493.1,1246.7 L1494.6,1257.0 L1496.1,1267.8 L1497.6,1279.1 L1499.1,1290.8 L1500.6,1303.2 L1502.1,1316.1 L1503.6,1329.7 L1505.1,1343.9 L1506.6,1358.9 L1507.6,1369.4 L1508.6,1380.3 L1509.6,1391.5 L1510.6,1403.2 L1511.6,1415.3 L1512.6,1427.9 L1513.6,1440.9 L1514.6,1454.5 L1515.6,1468.7 L1516.6,1483.4 L1517.6,1498.6 L1518.6,1514.5 L1519.6,1530.9 L1520.6,1547.8 L1521.6,1565.0 L1522.6,1582.3 L1523.6,1599.1 L1524.6,1615.0 L1525.6,1629.4 L1526.6,1641.5 L1528.1,1653.6 L1529.1,1656.9 L1529.6,1657.0 L1530.6,1654.1 L1532.1,1642.9 L1533.1,1631.5 L1534.1,1617.9 L1535.1,1602.8 L1536.1,1586.8 L1537.1,1570.3 L1538.1,1553.8 L1539.1,1537.5 L1540.1,1521.7 L1541.1,1506.5 L1542.1,1491.8 L1543.1,1477.7 L1544.1,1464.2 L1545.1,1451.2 L1546.1,1438.7 L1547.1,1426.7 L1548.1,1415.2 L1549.1,1404.1 L1550.1,1393.5 L1551.1,1383.3 L1552.6,1368.6 L1554.1,1354.8 L1555.6,1341.6 L1557.1,1329.2 L1558.6,1317.4 L1560.1,1306.1 L1561.6,1295.4 L1563.1,1285.2 L1565.1,1272.3 L1567.1,1260.1 L1569.1,1248.6 L1571.1,1237.7 L1573.1,1227.4 L1575.1,1217.5 L1577.6,1205.9 L1580.1,1195.0 L1582.6,1184.8 L1585.6,1173.3 L1588.6,1162.5 L1591.6,1152.5 L1595.1,1141.7 L1598.6,1131.7 L1602.6,1121.1 L1606.6,1111.4 L1611.1,1101.4 L1615.6,1092.4 L1620.6,1083.2 L1626.1,1074.1 L1632.1,1065.2 L1638.6,1056.7 L1645.7,1048.6 L1653.2,1041.0 L1660.7,1034.3 L1668.7,1028.1 L1677.2,1022.3 L1686.2,1017.0 L1695.2,1012.3 L1704.7,1008.0 L1714.2,1004.2 L1723.7,1000.9 L1733.7,997.7 L1743.7,994.9 L1753.7,992.4 L1763.7,990.2 L1773.7,988.2 L1783.7,986.3 L1793.7,984.6 L1803.7,983.1 L1813.7,981.7 L1823.7,980.3 L1833.7,979.1 L1843.7,978.0 L1853.7,977.0 L1863.7,976.0 L1873.7,975.1 L1883.7,974.3 L1893.7,973.5 L1903.7,972.8 L1913.7,972.1 L1923.7,971.5 L1933.7,970.9 L1943.7,970.3 L1953.7,969.8 L1963.7,969.3 L1973.7,968.8 L1983.7,968.3 L1993.7,967.9 L2003.7,967.5 L2013.7,967.1 L2023.7,966.8 L2033.7,966.4 L2043.7,966.1 L2053.7,965.8 L2063.7,965.5 L2073.7,965.2 L2083.7,965.0 L2093.7,964.7 L2103.7,964.5 L2113.7,964.2 L2118.2,964.1" stroke="#6e8200" stroke-width="4.8"/>
<path d="M207.5,957.4 L217.5,957.4 L227.5,957.4 L237.5,957.4 L247.5,957.4 L257.5,957.5 L267.5,957.5 L277.5,957.5 L287.5,957.5 L297.5,957.5 L307.5,957.5 L317.5,957.6 L327.5,957.6 L337.5,957.6 L347.5,957.6 L357.5,957.6 L367.5,957.6 L377.5,957.7 L387.5,957.7 L397.5,957.7 L407.5,957.7 L417.5,957.8 L427.5,957.8 L437.5,957.8 L447.5,957.9 L457.5,957.9 L467.5,957.9 L477.5,957.9 L487.5,958.0 L497.5,958.0 L507.5,958.1 L517.5,958.1 L527.5,958.1 L537.5,958.2 L547.5,958.2 L557.5,958.3 L567.5,958.3 L577.5,958.4 L587.5,958.4 L597.5,958.5 L607.5,958.6 L617.5,958.6 L627.5,958.7 L637.5,958.8 L647.5,958.9 L657.5,959.0 L667.5,959.0 L677.5,959.1 L687.6,959.2 L697.6,959.4 L707.6,959.5 L717.6,959.6 L727.6,959.7 L737.6,959.9 L747.6,960.0 L757.6,960.2 L767.6,960.4 L777.6,960.6 L787.6,960.8 L797.6,961.0 L807.6,961.3 L817.6,961.6 L827.6,961.9 L837.6,962.2 L847.6,962.6 L857.6,963.0 L867.6,963.4 L877.6,963.9 L887.6,964.5 L897.6,965.1 L907.6,965.8 L917.6,966.6 L927.6,967.6 L937.6,968.7 L947.6,970.1 L957.6,971.8 L967.6,973.9 L977.6,976.7 L987.1,980.3 L996.1,985.0 L1004.6,991.1 L1012.1,998.7 L1018.1,1006.8 L1023.6,1016.4 L1028.1,1026.4 L1031.6,1035.8 L1035.1,1046.9 L1038.1,1058.0 L1040.6,1068.5 L1043.1,1080.3 L1045.1,1090.8 L1047.1,1102.3 L1049.1,1114.9 L1050.6,1125.1 L1052.1,1136.0 L1053.6,1147.7 L1055.1,1160.2 L1056.6,1173.6 L1058.1,1187.9 L1059.1,1198.0 L1060.1,1208.5 L1061.1,1219.4 L1062.1,1230.8 L1063.1,1242.6 L1064.1,1254.8 L1065.1,1267.4 L1066.1,1280.4 L1067.1,1293.7 L1068.1,1307.2 L1069.1,1320.7 L1070.1,1334.1 L1071.1,1347.1 L1072.1,1359.3 L1073.1,1370.6 L1074.6,1384.5 L1076.6,1395.7 L1077.6,1397.4 L1078.1,1397.2 L1079.1,1394.8 L1081.1,1382.0 L1082.6,1366.8 L1083.6,1354.8 L1084.6,1341.7 L1085.6,1327.9 L1086.6,1313.9 L1087.6,1299.8 L1088.6,1285.8 L1089.6,1272.1 L1090.6,1258.8 L1091.6,1245.8 L1092.6,1233.4 L1093.6,1221.4 L1094.6,1209.8 L1095.6,1198.8 L1096.6,1188.3 L1097.6,1178.2 L1099.1,1163.9 L1100.6,1150.6 L1102.1,1138.2 L1103.6,1126.7 L1105.1,1115.9 L1106.6,1105.9 L1108.6,1093.6 L1110.6,1082.5 L1112.6,1072.3 L1115.1,1061.0 L1117.6,1051.0 L1120.6,1040.5 L1124.1,1030.0 L1128.1,1020.1 L1132.6,1011.1 L1138.1,1002.5 L1144.6,994.8 L1152.6,988.0 L1161.6,982.6 L1171.1,978.7 L1181.1,975.8 L1191.1,973.7 L1201.1,972.1 L1211.1,970.9 L1221.1,970.0 L1231.1,969.3 L1241.1,968.7 L1251.1,968.3 L1261.1,968.1 L1271.1,968.0 L1281.1,968.0 L1291.1,968.1 L1301.1,968.5 L1311.1,969.0 L1321.1,969.7 L1331.1,970.7 L1341.1,972.0 L1351.1,973.7 L1361.1,976.0 L1371.1,979.1 L1380.6,982.9 L1389.6,987.6 L1398.1,993.5 L1405.6,1000.1 L1412.6,1008.0 L1418.6,1016.2 L1424.1,1025.4 L1429.1,1035.3 L1433.1,1044.6 L1437.1,1055.2 L1440.6,1065.7 L1443.6,1075.7 L1446.6,1086.9 L1449.1,1097.0 L1451.6,1108.0 L1454.1,1120.0 L1456.1,1130.3 L1458.1,1141.4 L1460.1,1153.2 L1462.1,1165.8 L1463.6,1175.8 L1465.1,1186.3 L1466.6,1197.3 L1468.1,1208.9 L1469.6,1221.1 L1471.1,1233.8 L1472.6,1247.0 L1474.1,1260.9 L1475.6,1275.3 L1477.1,1290.2 L1478.1,1300.5 L1479.1,1311.0 L1480.1,1321.6 L1481.1,1332.3 L1482.1,1343.1 L1483.1,1353.8 L1484.1,1364.4 L1485.1,1374.7 L1486.6,1389.2 L1488.1,1402.2 L1489.6,1413.0 L1492.1,1424.2 L1493.1,1426.0 L1494.1,1426.2 L1495.6,1423.6 L1498.1,1412.2 L1499.6,1402.0 L1501.1,1389.9 L1502.6,1376.6 L1504.1,1362.5 L1505.6,1348.0 L1507.1,1333.5 L1508.6,1319.1 L1510.1,1305.0 L1511.6,1291.4 L1513.1,1278.3 L1514.6,1265.7 L1516.1,1253.6 L1517.6,1242.0 L1519.1,1231.0 L1520.6,1220.4 L1522.1,1210.4 L1524.1,1197.7 L1526.1,1185.8 L1528.1,1174.7 L1530.1,1164.3 L1532.6,1152.3 L1535.1,1141.2 L1537.6,1131.0 L1540.6,1119.8 L1543.6,1109.6 L1547.1,1098.9 L1550.6,1089.3 L1554.6,1079.6 L1559.1,1070.1 L1564.1,1060.9 L1569.6,1052.3 L1576.1,1043.7 L1583.1,1036.1 L1590.6,1029.3 L1599.1,1023.0 L1608.1,1017.5 L1617.1,1012.9 L1626.6,1008.9 L1636.1,1005.3 L1646.2,1002.1 L1656.2,999.3 L1666.2,996.7 L1676.2,994.4 L1686.2,992.3 L1696.2,990.4 L1706.2,988.6 L1716.2,986.9 L1726.2,985.4 L1736.2,984.0 L1746.2,982.7 L1756.2,981.4 L1766.2,980.3 L1776.2,979.2 L1786.2,978.1 L1796.2,977.2 L1806.2,976.3 L1816.2,975.4 L1826.2,974.6 L1836.2,973.9 L1846.2,973.2 L1856.2,972.5 L1866.2,971.9 L1876.2,971.3 L1886.2,970.7 L1896.2,970.2 L1906.2,969.7 L1916.2,969.2 L1926.2,968.7 L1936.2,968.3 L1946.2,967.9 L1956.2,967.5 L1966.2,967.1 L1976.2,966.8 L1986.2,966.4 L1996.2,966.1 L2006.2,965.8 L2016.2,965.5 L2026.2,965.3 L2036.2,965.0 L2046.2,964.7 L2056.2,964.5 L2066.2,964.3 L2076.2,964.0 L2086.2,963.8 L2096.2,963.6 L2106.2,963.4 L2116.2,963.3 L2118.2,963.2" stroke="#ff8a20" stroke-width="4.8"/>
<path d="M207.5,957.5 L217.5,957.5 L227.5,957.5 L237.5,957.5 L247.5,957.5 L257.5,957.5 L267.5,957.6 L277.5,957.6 L287.5,957.6 L297.5,957.6 L307.5,957.6 L317.5,957.7 L327.5,957.7 L337.5,957.7 L347.5,957.7 L357.5,957.8 L367.5,957.8 L377.5,957.8 L387.5,957.8 L397.5,957.9 L407.5,957.9 L417.5,957.9 L427.5,958.0 L437.5,958.0 L447.5,958.1 L457.5,958.1 L467.5,958.1 L477.5,958.2 L487.5,958.2 L497.5,958.3 L507.5,958.3 L517.5,958.4 L527.5,958.4 L537.5,958.5 L547.5,958.6 L557.5,958.6 L567.5,958.7 L577.5,958.8 L587.5,958.9 L597.5,959.0 L607.5,959.0 L617.5,959.1 L627.5,959.2 L637.5,959.4 L647.5,959.5 L657.5,959.6 L667.5,959.7 L677.5,959.9 L687.6,960.1 L697.6,960.2 L707.6,960.4 L717.6,960.6 L727.6,960.8 L737.6,961.1 L747.6,961.3 L757.6,961.6 L767.6,961.9 L777.6,962.2 L787.6,962.6 L797.6,963.0 L807.6,963.4 L817.6,963.9 L827.6,964.5 L837.6,965.1 L847.6,965.8 L857.6,966.6 L867.6,967.5 L877.6,968.6 L887.6,970.0 L897.6,971.6 L907.6,973.7 L917.6,976.4 L927.1,980.0 L936.1,984.7 L944.6,991.1 L951.6,998.5 L957.6,1007.0 L962.6,1016.3 L966.6,1025.6 L970.1,1035.3 L973.1,1045.1 L976.1,1056.5 L978.6,1067.4 L981.1,1079.7 L983.1,1090.6 L985.1,1102.6 L987.1,1115.9 L988.6,1126.7 L990.1,1138.2 L991.6,1150.6 L993.1,1164.0 L994.6,1178.2 L995.6,1188.3 L996.6,1198.8 L997.6,1209.8 L998.6,1221.3 L999.6,1233.2 L1000.6,1245.6 L1001.6,1258.4 L1002.6,1271.6 L1003.6,1285.2 L1004.6,1298.9 L1005.6,1312.8 L1006.6,1326.6 L1007.6,1340.0 L1008.6,1352.7 L1009.6,1364.4 L1010.6,1374.5 L1012.1,1385.8 L1013.6,1391.4 L1014.1,1391.9 L1014.6,1391.7 L1015.6,1389.3 L1017.6,1377.2 L1019.1,1363.0 L1020.1,1351.8 L1021.1,1339.7 L1022.1,1327.1 L1023.1,1314.1 L1024.1,1301.0 L1025.1,1288.0 L1026.1,1275.2 L1027.1,1262.7 L1028.1,1250.4 L1029.1,1238.5 L1030.1,1227.0 L1031.1,1215.8 L1032.1,1205.1 L1033.1,1194.8 L1034.6,1180.1 L1036.1,1166.4 L1037.6,1153.5 L1039.1,1141.4 L1040.6,1130.2 L1042.1,1119.7 L1044.1,1106.7 L1046.1,1094.8 L1048.1,1084.0 L1050.1,1074.1 L1052.6,1063.0 L1055.1,1053.1 L1058.1,1042.7 L1061.6,1032.3 L1065.6,1022.3 L1070.1,1013.1 L1075.6,1004.2 L1082.1,996.2 L1089.6,989.4 L1098.1,983.9 L1107.6,979.5 L1117.1,976.4 L1127.1,974.0 L1137.1,972.2 L1147.1,970.8 L1157.1,969.6 L1167.1,968.8 L1177.1,968.1 L1187.1,967.5 L1197.1,967.0 L1207.1,966.7 L1217.1,966.5 L1227.1,966.3 L1237.1,966.3 L1247.1,966.3 L1257.1,966.5 L1267.1,966.7 L1277.1,967.1 L1287.1,967.6 L1297.1,968.2 L1307.1,969.0 L1317.1,970.0 L1327.1,971.3 L1337.1,972.8 L1347.1,974.7 L1357.1,977.1 L1367.1,980.0 L1376.6,983.5 L1386.1,987.7 L1395.1,992.7 L1403.6,998.4 L1411.6,1004.8 L1419.1,1012.1 L1426.1,1020.2 L1432.1,1028.3 L1437.6,1036.8 L1442.6,1045.6 L1447.6,1055.5 L1452.1,1065.5 L1456.1,1075.4 L1459.6,1084.9 L1463.1,1095.2 L1466.1,1104.8 L1469.1,1115.1 L1472.1,1126.2 L1474.6,1136.1 L1477.1,1146.6 L1479.6,1157.9 L1482.1,1169.8 L1484.1,1180.0 L1486.1,1190.6 L1488.1,1201.8 L1490.1,1213.7 L1492.1,1226.1 L1494.1,1239.1 L1495.6,1249.4 L1497.1,1260.0 L1498.6,1271.0 L1500.1,1282.4 L1501.6,1294.3 L1503.1,1306.7 L1504.6,1319.6 L1506.1,1332.9 L1507.6,1346.8 L1509.1,1361.1 L1510.6,1375.9 L1511.6,1386.0 L1512.6,1396.3 L1513.6,1406.7 L1514.6,1417.2 L1515.6,1427.7 L1516.6,1438.3 L1517.6,1448.7 L1518.6,1458.9 L1520.1,1473.6 L1521.6,1487.0 L1523.1,1498.7 L1525.1,1510.2 L1526.6,1515.0 L1527.6,1516.0 L1528.6,1515.0 L1530.6,1506.4 L1532.1,1494.8 L1533.6,1479.6 L1534.6,1468.1 L1535.6,1455.9 L1536.6,1443.3 L1537.6,1430.4 L1538.6,1417.6 L1539.6,1404.8 L1540.6,1392.3 L1541.6,1380.1 L1542.6,1368.1 L1543.6,1356.5 L1544.6,1345.3 L1545.6,1334.5 L1546.6,1324.1 L1547.6,1314.0 L1549.1,1299.5 L1550.6,1285.9 L1552.1,1272.9 L1553.6,1260.7 L1555.1,1249.1 L1556.6,1238.0 L1558.1,1227.5 L1559.6,1217.5 L1561.6,1205.0 L1563.6,1193.3 L1565.6,1182.3 L1567.6,1172.0 L1570.1,1160.1 L1572.6,1149.1 L1575.1,1139.0 L1578.1,1127.8 L1581.1,1117.5 L1584.6,1106.8 L1588.1,1097.0 L1592.1,1087.1 L1596.6,1077.1 L1601.6,1067.5 L1607.1,1058.3 L1613.1,1049.8 L1619.6,1041.9 L1626.6,1034.8 L1634.6,1027.9 L1643.2,1021.8 L1652.2,1016.5 L1661.2,1011.9 L1670.7,1007.8 L1680.2,1004.3 L1690.2,1001.0 L1700.2,998.2 L1710.2,995.6 L1720.2,993.3 L1730.2,991.2 L1740.2,989.3 L1750.2,987.5 L1760.2,985.9 L1770.2,984.4 L1780.2,983.0 L1790.2,981.7 L1800.2,980.5 L1810.2,979.3 L1820.2,978.3 L1830.2,977.3 L1840.2,976.4 L1850.2,975.5 L1860.2,974.7 L1870.2,973.9 L1880.2,973.2 L1890.2,972.5 L1900.2,971.9 L1910.2,971.3 L1920.2,970.7 L1930.2,970.2 L1940.2,969.7 L1950.2,969.2 L1960.2,968.7 L1970.2,968.3 L1980.2,967.9 L1990.2,967.5 L2000.2,967.1 L2010.2,966.8 L2020.2,966.4 L2030.2,966.1 L2040.2,965.8 L2050.2,965.5 L2060.2,965.2 L2070.2,965.0 L2080.2,964.7 L2090.2,964.5 L2100.2,964.2 L2110.2,964.0 L2118.2,963.9" stroke="#0000e8" stroke-width="4.8"/>
<path d="M207.5,957.6 L217.5,957.6 L227.5,957.6 L237.5,957.6 L247.5,957.7 L257.5,957.7 L267.5,957.7 L277.5,957.7 L287.5,957.8 L297.5,957.8 L307.5,957.8 L317.5,957.8 L327.5,957.9 L337.5,957.9 L347.5,957.9 L357.5,958.0 L367.5,958.0 L377.5,958.1 L387.5,958.1 L397.5,958.1 L407.5,958.2 L417.5,958.2 L427.5,958.3 L437.5,958.3 L447.5,958.4 L457.5,958.5 L467.5,958.5 L477.5,958.6 L487.5,958.6 L497.5,958.7 L507.5,958.8 L517.5,958.9 L527.5,959.0 L537.5,959.1 L547.5,959.2 L557.5,959.3 L567.5,959.4 L577.5,959.5 L587.5,959.7 L597.5,959.8 L607.5,960.0 L617.5,960.1 L627.5,960.3 L637.5,960.5 L647.5,960.7 L657.5,961.0 L667.5,961.2 L677.5,961.5 L687.6,961.8 L697.6,962.1 L707.6,962.5 L717.6,962.9 L727.6,963.4 L737.6,963.9 L747.6,964.5 L757.6,965.2 L767.6,965.9 L777.6,966.8 L787.6,967.9 L797.6,969.1 L807.6,970.7 L817.6,972.6 L827.6,975.0 L837.6,978.3 L847.1,982.5 L856.1,987.9 L864.1,994.4 L871.1,1002.1 L877.1,1010.7 L882.1,1019.7 L886.6,1029.6 L890.6,1040.1 L894.1,1050.9 L897.1,1061.5 L899.6,1071.4 L902.1,1082.5 L904.6,1094.7 L906.6,1105.3 L908.6,1116.9 L910.6,1129.5 L912.1,1139.6 L913.6,1150.3 L915.1,1161.7 L916.6,1173.8 L918.1,1186.6 L919.6,1200.1 L921.1,1214.4 L922.6,1229.4 L923.6,1239.8 L924.6,1250.5 L925.6,1261.5 L926.6,1272.7 L927.6,1284.1 L928.6,1295.6 L929.6,1307.2 L930.6,1318.7 L931.6,1329.9 L932.6,1340.7 L933.6,1350.8 L935.1,1364.2 L936.6,1374.6 L938.6,1382.3 L939.1,1383.0 L939.6,1383.1 L940.6,1381.7 L943.1,1368.8 L944.6,1355.7 L945.6,1345.3 L946.6,1334.0 L947.6,1322.0 L948.6,1309.6 L949.6,1297.1 L950.6,1284.6 L951.6,1272.1 L952.6,1260.0 L953.6,1248.0 L954.6,1236.5 L955.6,1225.2 L956.6,1214.4 L957.6,1203.9 L958.6,1193.9 L960.1,1179.5 L961.6,1166.1 L963.1,1153.4 L964.6,1141.6 L966.1,1130.5 L967.6,1120.1 L969.6,1107.2 L971.6,1095.5 L973.6,1084.7 L975.6,1074.9 L978.1,1063.8 L980.6,1053.9 L983.6,1043.5 L987.1,1033.0 L991.1,1022.9 L995.6,1013.6 L1001.1,1004.6 L1007.6,996.5 L1015.1,989.5 L1023.6,983.9 L1033.1,979.3 L1042.6,976.0 L1052.6,973.5 L1062.6,971.6 L1072.6,970.0 L1082.6,968.8 L1092.6,967.8 L1102.6,967.0 L1112.6,966.3 L1122.6,965.7 L1132.6,965.2 L1142.6,964.8 L1152.6,964.4 L1162.6,964.1 L1172.6,963.9 L1182.6,963.7 L1192.6,963.5 L1202.6,963.4 L1212.6,963.3 L1222.6,963.3 L1232.6,963.4 L1242.6,963.5 L1252.6,963.6 L1262.6,963.9 L1272.6,964.2 L1282.6,964.5 L1292.6,965.1 L1302.6,965.7 L1312.6,966.5 L1322.6,967.5 L1332.6,968.7 L1342.6,970.3 L1352.6,972.3 L1362.6,975.0 L1372.1,978.2 L1381.6,982.4 L1390.6,987.7 L1398.6,993.7 L1406.1,1000.8 L1412.6,1008.6 L1418.6,1017.4 L1423.6,1026.1 L1428.1,1035.3 L1432.1,1044.8 L1436.1,1055.6 L1439.6,1066.3 L1442.6,1076.4 L1445.6,1087.7 L1448.1,1097.8 L1450.6,1108.9 L1453.1,1120.8 L1455.1,1131.0 L1457.1,1141.8 L1459.1,1153.3 L1461.1,1165.4 L1463.1,1178.2 L1464.6,1188.3 L1466.1,1198.8 L1467.6,1209.6 L1469.1,1220.7 L1470.6,1232.2 L1472.1,1243.9 L1473.6,1255.8 L1475.1,1267.8 L1476.6,1279.7 L1478.1,1291.6 L1479.6,1303.0 L1481.1,1313.9 L1482.6,1324.0 L1484.6,1335.5 L1487.1,1346.0 L1489.1,1350.5 L1490.1,1351.2 L1491.1,1350.9 L1493.1,1347.2 L1495.6,1337.3 L1497.6,1326.0 L1499.1,1316.1 L1500.6,1305.3 L1502.1,1293.9 L1503.6,1282.1 L1505.1,1270.3 L1506.6,1258.6 L1508.1,1247.0 L1509.6,1235.7 L1511.1,1224.7 L1512.6,1214.0 L1514.1,1203.8 L1516.1,1190.8 L1518.1,1178.6 L1520.1,1167.1 L1522.1,1156.4 L1524.1,1146.3 L1526.6,1134.7 L1529.1,1124.1 L1531.6,1114.3 L1534.6,1103.6 L1537.6,1094.1 L1541.1,1084.1 L1545.1,1074.1 L1549.6,1064.4 L1554.6,1055.3 L1560.1,1046.9 L1566.6,1038.7 L1574.1,1031.2 L1582.1,1024.7 L1590.6,1019.2 L1599.6,1014.4 L1609.1,1010.2 L1618.6,1006.7 L1628.6,1003.5 L1638.6,1000.6 L1648.7,998.1 L1658.7,995.8 L1668.7,993.7 L1678.7,991.8 L1688.7,989.9 L1698.7,988.3 L1708.7,986.7 L1718.7,985.2 L1728.7,983.9 L1738.7,982.6 L1748.7,981.3 L1758.7,980.2 L1768.7,979.1 L1778.7,978.1 L1788.7,977.2 L1798.7,976.3 L1808.7,975.4 L1818.7,974.6 L1828.7,973.9 L1838.7,973.2 L1848.7,972.5 L1858.7,971.9 L1868.7,971.3 L1878.7,970.7 L1888.7,970.2 L1898.7,969.7 L1908.7,969.2 L1918.7,968.7 L1928.7,968.3 L1938.7,967.9 L1948.7,967.5 L1958.7,967.1 L1968.7,966.8 L1978.7,966.5 L1988.7,966.1 L1998.7,965.8 L2008.7,965.5 L2018.7,965.3 L2028.7,965.0 L2038.7,964.7 L2048.7,964.5 L2058.7,964.3 L2068.7,964.0 L2078.7,963.8 L2088.7,963.6 L2098.7,963.4 L2108.7,963.2 L2118.2,963.1" stroke="#dc38c0" stroke-width="4.8"/>
<path d="M207.5,957.7 L217.5,957.7 L227.5,957.8 L237.5,957.8 L247.5,957.8 L257.5,957.8 L267.5,957.9 L277.5,957.9 L287.5,957.9 L297.5,958.0 L307.5,958.0 L317.5,958.0 L327.5,958.1 L337.5,958.1 L347.5,958.2 L357.5,958.2 L367.5,958.3 L377.5,958.3 L387.5,958.4 L397.5,958.4 L407.5,958.5 L417.5,958.6 L427.5,958.6 L437.5,958.7 L447.5,958.8 L457.5,958.9 L467.5,959.0 L477.5,959.1 L487.5,959.2 L497.5,959.3 L507.5,959.4 L517.5,959.5 L527.5,959.6 L537.5,959.8 L547.5,959.9 L557.5,960.1 L567.5,960.3 L577.5,960.4 L587.5,960.6 L597.5,960.9 L607.5,961.1 L617.5,961.4 L627.5,961.7 L637.5,962.0 L647.5,962.3 L657.5,962.7 L667.5,963.1 L677.5,963.6 L687.6,964.1 L697.6,964.6 L707.6,965.3 L717.6,966.0 L727.6,966.8 L737.6,967.7 L747.6,968.8 L757.6,970.2 L767.6,971.8 L777.6,973.9 L787.6,976.8 L797.1,980.6 L806.1,985.9 L814.1,992.9 L820.6,1000.9 L826.1,1010.1 L830.6,1019.9 L834.1,1029.2 L837.6,1040.5 L840.6,1051.9 L843.1,1062.9 L845.6,1075.2 L847.6,1086.2 L849.6,1098.3 L851.6,1111.5 L853.1,1122.2 L854.6,1133.5 L856.1,1145.5 L857.6,1158.1 L859.1,1171.3 L860.6,1185.1 L862.1,1199.2 L863.6,1213.6 L865.1,1228.0 L866.6,1242.0 L868.1,1255.1 L869.6,1266.8 L871.6,1279.4 L873.6,1287.1 L874.6,1288.7 L875.1,1289.0 L876.1,1288.1 L878.1,1281.4 L880.1,1268.6 L881.6,1256.0 L883.1,1241.5 L884.1,1231.2 L885.1,1220.6 L886.1,1209.8 L887.1,1199.1 L888.1,1188.5 L889.1,1178.1 L890.1,1167.9 L891.6,1153.3 L893.1,1139.4 L894.6,1126.4 L896.1,1114.2 L897.6,1102.8 L899.1,1092.2 L901.1,1079.4 L903.1,1067.8 L905.1,1057.4 L907.6,1046.0 L910.1,1036.1 L913.1,1026.0 L916.6,1016.3 L921.1,1006.4 L926.6,997.5 L933.6,989.5 L941.6,983.4 L950.6,978.9 L960.1,975.6 L970.1,973.3 L980.1,971.5 L990.1,970.1 L1000.1,969.0 L1010.1,968.0 L1020.1,967.2 L1030.1,966.5 L1040.1,965.9 L1050.1,965.3 L1060.1,964.9 L1070.1,964.4 L1080.1,964.0 L1090.1,963.7 L1100.1,963.4 L1110.1,963.2 L1120.1,963.0 L1130.1,962.8 L1140.1,962.7 L1150.1,962.5 L1160.1,962.5 L1170.1,962.4 L1180.1,962.4 L1190.1,962.4 L1200.1,962.5 L1210.1,962.6 L1220.1,962.7 L1230.1,962.9 L1240.1,963.2 L1250.1,963.5 L1260.1,963.9 L1270.1,964.3 L1280.1,964.9 L1290.1,965.6 L1300.1,966.4 L1310.1,967.4 L1320.1,968.6 L1330.1,970.0 L1340.1,971.8 L1350.1,973.9 L1360.1,976.6 L1370.1,979.9 L1379.6,983.7 L1388.6,988.2 L1397.6,993.6 L1406.1,1000.0 L1413.6,1006.7 L1420.6,1014.2 L1427.1,1022.5 L1433.1,1031.3 L1438.6,1040.6 L1443.6,1050.3 L1448.1,1060.0 L1452.1,1069.7 L1456.1,1080.3 L1459.6,1090.6 L1463.1,1101.7 L1466.1,1112.0 L1469.1,1123.1 L1471.6,1133.0 L1474.1,1143.6 L1476.6,1154.8 L1479.1,1166.7 L1481.1,1176.7 L1483.1,1187.3 L1485.1,1198.3 L1487.1,1209.9 L1489.1,1222.1 L1491.1,1234.8 L1493.1,1248.0 L1494.6,1258.3 L1496.1,1268.9 L1497.6,1279.8 L1499.1,1291.0 L1500.6,1302.6 L1502.1,1314.4 L1503.6,1326.4 L1505.1,1338.7 L1506.6,1351.0 L1508.1,1363.4 L1509.6,1375.6 L1511.1,1387.6 L1512.6,1399.1 L1514.1,1409.9 L1516.1,1422.8 L1518.1,1433.2 L1521.1,1442.6 L1522.1,1443.7 L1523.1,1443.5 L1524.6,1441.0 L1527.1,1430.3 L1529.1,1416.6 L1530.6,1404.2 L1532.1,1390.6 L1533.6,1376.2 L1535.1,1361.4 L1536.6,1346.6 L1538.1,1332.0 L1539.6,1317.8 L1541.1,1304.0 L1542.6,1290.7 L1544.1,1277.9 L1545.6,1265.6 L1547.1,1253.9 L1548.6,1242.8 L1550.1,1232.1 L1551.6,1221.8 L1553.6,1208.9 L1555.6,1196.8 L1557.6,1185.5 L1559.6,1174.9 L1561.6,1164.9 L1564.1,1153.3 L1566.6,1142.5 L1569.1,1132.6 L1572.1,1121.7 L1575.1,1111.8 L1578.6,1101.3 L1582.1,1091.8 L1586.1,1082.2 L1590.6,1072.6 L1595.6,1063.3 L1601.1,1054.5 L1607.1,1046.4 L1614.1,1038.3 L1621.6,1031.2 L1629.6,1024.9 L1638.1,1019.3 L1647.2,1014.3 L1656.7,1009.9 L1666.2,1006.1 L1675.7,1002.8 L1685.7,999.8 L1695.7,997.1 L1705.7,994.6 L1715.7,992.4 L1725.7,990.4 L1735.7,988.6 L1745.7,986.9 L1755.7,985.3 L1765.7,983.9 L1775.7,982.5 L1785.7,981.3 L1795.7,980.1 L1805.7,979.0 L1815.7,978.0 L1825.7,977.0 L1835.7,976.1 L1845.7,975.3 L1855.7,974.5 L1865.7,973.7 L1875.7,973.0 L1885.7,972.3 L1895.7,971.7 L1905.7,971.1 L1915.7,970.5 L1925.7,970.0 L1935.7,969.5 L1945.7,969.0 L1955.7,968.6 L1965.7,968.1 L1975.7,967.7 L1985.7,967.4 L1995.7,967.0 L2005.7,966.6 L2015.7,966.3 L2025.7,966.0 L2035.7,965.7 L2045.7,965.4 L2055.7,965.1 L2065.7,964.9 L2075.7,964.6 L2085.7,964.4 L2095.7,964.1 L2105.7,963.9 L2115.7,963.7 L2118.2,963.7" stroke="#0a3c64" stroke-width="4.8"/>
<path d="M207.5,957.8 L217.5,957.8 L227.5,957.8 L237.5,957.9 L247.5,957.9 L257.5,957.9 L267.5,958.0 L277.5,958.0 L287.5,958.1 L297.5,958.1 L307.5,958.1 L317.5,958.2 L327.5,958.2 L337.5,958.3 L347.5,958.3 L357.5,958.4 L367.5,958.5 L377.5,958.5 L387.5,958.6 L397.5,958.7 L407.5,958.7 L417.5,958.8 L427.5,958.9 L437.5,959.0 L447.5,959.1 L457.5,959.2 L467.5,959.3 L477.5,959.4 L487.5,959.5 L497.5,959.7 L507.5,959.8 L517.5,960.0 L527.5,960.1 L537.5,960.3 L547.5,960.5 L557.5,960.7 L567.5,960.9 L577.5,961.2 L587.5,961.4 L597.5,961.7 L607.5,962.1 L617.5,962.4 L627.5,962.8 L637.5,963.2 L647.5,963.6 L657.5,964.2 L667.5,964.7 L677.5,965.3 L687.6,966.0 L697.6,966.8 L707.6,967.7 L717.6,968.7 L727.6,970.0 L737.6,971.5 L747.6,973.5 L757.6,976.2 L767.1,979.8 L776.1,985.0 L784.1,992.0 L790.6,1000.4 L795.6,1009.4 L799.6,1018.6 L803.1,1028.7 L806.1,1039.1 L808.6,1049.3 L811.1,1060.9 L813.1,1071.4 L815.1,1083.0 L817.1,1095.9 L818.6,1106.3 L820.1,1117.5 L821.6,1129.3 L823.1,1141.9 L824.6,1155.1 L826.1,1168.9 L827.6,1183.1 L829.1,1197.4 L830.6,1211.7 L832.1,1225.5 L833.6,1238.3 L835.1,1249.6 L837.1,1261.1 L839.1,1267.6 L840.1,1268.7 L841.1,1268.3 L843.1,1263.5 L845.6,1250.7 L847.1,1240.3 L848.6,1228.5 L850.1,1215.7 L851.6,1202.3 L853.1,1188.8 L854.6,1175.4 L856.1,1162.3 L857.6,1149.6 L859.1,1137.5 L860.6,1125.9 L862.1,1115.0 L863.6,1104.7 L865.6,1091.9 L867.6,1080.2 L869.6,1069.5 L872.1,1057.6 L874.6,1047.0 L877.6,1036.0 L881.1,1025.3 L885.1,1015.2 L889.6,1006.2 L895.1,997.8 L902.1,990.1 L910.1,984.0 L919.1,979.3 L928.6,976.0 L938.6,973.4 L948.6,971.6 L958.6,970.1 L968.6,968.9 L978.6,967.9 L988.6,967.1 L998.6,966.3 L1008.6,965.7 L1018.6,965.1 L1028.6,964.6 L1038.6,964.2 L1048.6,963.8 L1058.6,963.4 L1068.6,963.1 L1078.6,962.9 L1088.6,962.6 L1098.6,962.4 L1108.6,962.3 L1118.6,962.1 L1128.6,962.0 L1138.6,961.9 L1148.6,961.9 L1158.6,961.8 L1168.6,961.8 L1178.6,961.9 L1188.6,961.9 L1198.6,962.0 L1208.6,962.1 L1218.6,962.3 L1228.6,962.5 L1238.6,962.7 L1248.6,963.1 L1258.6,963.4 L1268.6,963.9 L1278.6,964.5 L1288.6,965.1 L1298.6,965.9 L1308.6,966.9 L1318.6,968.0 L1328.6,969.4 L1338.6,971.0 L1348.6,973.0 L1358.6,975.5 L1368.6,978.5 L1378.1,982.0 L1387.6,986.3 L1396.6,991.4 L1405.1,997.2 L1413.1,1003.8 L1420.6,1011.3 L1427.1,1018.9 L1433.1,1027.1 L1438.6,1035.8 L1443.6,1044.7 L1448.1,1053.7 L1452.6,1063.8 L1456.6,1073.7 L1460.1,1083.3 L1463.6,1093.7 L1466.6,1103.3 L1469.6,1113.6 L1472.6,1124.8 L1475.1,1134.7 L1477.6,1145.3 L1480.1,1156.5 L1482.6,1168.4 L1484.6,1178.5 L1486.6,1189.1 L1488.6,1200.2 L1490.6,1211.9 L1492.6,1224.1 L1494.6,1236.9 L1496.1,1246.8 L1497.6,1257.1 L1499.1,1267.7 L1500.6,1278.7 L1502.1,1290.0 L1503.6,1301.6 L1505.1,1313.6 L1506.6,1325.9 L1508.1,1338.5 L1509.6,1351.2 L1511.1,1364.1 L1512.6,1377.0 L1514.1,1389.8 L1515.6,1402.3 L1517.1,1414.3 L1518.6,1425.5 L1520.1,1435.6 L1522.1,1446.8 L1525.1,1457.0 L1526.1,1458.1 L1527.1,1458.0 L1528.6,1455.0 L1531.1,1443.1 L1532.6,1432.1 L1534.1,1419.1 L1535.6,1404.6 L1536.6,1394.4 L1537.6,1384.0 L1538.6,1373.5 L1539.6,1363.0 L1540.6,1352.5 L1541.6,1342.2 L1542.6,1332.1 L1544.1,1317.3 L1545.6,1303.1 L1547.1,1289.5 L1548.6,1276.5 L1550.1,1264.1 L1551.6,1252.2 L1553.1,1240.9 L1554.6,1230.2 L1556.1,1219.9 L1558.1,1207.0 L1560.1,1194.9 L1562.1,1183.5 L1564.1,1172.9 L1566.1,1163.0 L1568.6,1151.4 L1571.1,1140.8 L1573.6,1130.9 L1576.6,1120.1 L1579.6,1110.3 L1583.1,1099.9 L1587.1,1089.3 L1591.1,1079.9 L1595.6,1070.5 L1600.6,1061.5 L1606.1,1052.9 L1612.6,1044.4 L1619.6,1036.7 L1627.1,1029.8 L1635.1,1023.7 L1643.7,1018.3 L1652.7,1013.4 L1662.2,1009.1 L1671.7,1005.5 L1681.2,1002.2 L1691.2,999.3 L1701.2,996.6 L1711.2,994.2 L1721.2,992.1 L1731.2,990.1 L1741.2,988.3 L1751.2,986.6 L1761.2,985.1 L1771.2,983.6 L1781.2,982.3 L1791.2,981.1 L1801.2,979.9 L1811.2,978.8 L1821.2,977.8 L1831.2,976.8 L1841.2,975.9 L1851.2,975.1 L1861.2,974.3 L1871.2,973.6 L1881.2,972.9 L1891.2,972.2 L1901.2,971.6 L1911.2,971.0 L1921.2,970.4 L1931.2,969.9 L1941.2,969.4 L1951.2,968.9 L1961.2,968.5 L1971.2,968.1 L1981.2,967.7 L1991.2,967.3 L2001.2,966.9 L2011.2,966.6 L2021.2,966.2 L2031.2,965.9 L2041.2,965.6 L2051.2,965.3 L2061.2,965.1 L2071.2,964.8 L2081.2,964.6 L2091.2,964.3 L2101.2,964.1 L2111.2,963.9 L2118.2,963.8" stroke="#1e96dc" stroke-width="4.8"/>
<path d="M207.5,957.9 L217.5,957.9 L227.5,958.0 L237.5,958.0 L247.5,958.0 L257.5,958.1 L267.5,958.1 L277.5,958.2 L287.5,958.2 L297.5,958.3 L307.5,958.3 L317.5,958.4 L327.5,958.4 L337.5,958.5 L347.5,958.5 L357.5,958.6 L367.5,958.7 L377.5,958.8 L387.5,958.8 L397.5,958.9 L407.5,959.0 L417.5,959.1 L427.5,959.2 L437.5,959.3 L447.5,959.5 L457.5,959.6 L467.5,959.7 L477.5,959.9 L487.5,960.0 L497.5,960.2 L507.5,960.4 L517.5,960.6 L527.5,960.8 L537.5,961.1 L547.5,961.3 L557.5,961.6 L567.5,962.0 L577.5,962.3 L587.5,962.7 L597.5,963.1 L607.5,963.6 L617.5,964.1 L627.5,964.7 L637.5,965.4 L647.5,966.1 L657.5,967.0 L667.5,968.1 L677.5,969.3 L687.6,970.8 L697.6,972.7 L707.6,975.2 L717.1,978.4 L726.6,982.9 L735.1,988.5 L742.6,995.5 L749.1,1003.7 L754.6,1012.9 L759.1,1022.3 L763.1,1032.4 L766.6,1042.9 L769.6,1053.2 L772.6,1065.0 L775.1,1075.9 L777.6,1087.9 L779.6,1098.3 L781.6,1109.4 L783.6,1121.2 L785.6,1133.6 L787.6,1146.6 L789.1,1156.7 L790.6,1166.9 L792.1,1177.2 L793.6,1187.4 L795.1,1197.4 L797.1,1210.0 L799.1,1221.4 L801.6,1232.9 L804.6,1241.3 L806.1,1242.6 L807.1,1242.3 L809.1,1238.7 L811.6,1228.7 L813.6,1216.9 L815.1,1206.6 L816.6,1195.3 L818.1,1183.5 L819.6,1171.4 L821.1,1159.3 L822.6,1147.4 L824.1,1135.9 L825.6,1124.7 L827.1,1114.1 L828.6,1103.9 L830.6,1091.3 L832.6,1079.7 L834.6,1069.0 L837.1,1057.0 L839.6,1046.4 L842.6,1035.4 L846.1,1024.6 L850.1,1014.5 L854.6,1005.5 L860.1,997.1 L867.1,989.4 L875.6,983.2 L884.6,978.7 L894.1,975.5 L904.1,973.1 L914.1,971.3 L924.1,969.9 L934.1,968.7 L944.1,967.7 L954.1,966.9 L964.1,966.2 L974.1,965.6 L984.1,965.0 L994.1,964.5 L1004.1,964.0 L1014.1,963.6 L1024.1,963.3 L1034.1,963.0 L1044.1,962.7 L1054.1,962.4 L1064.1,962.2 L1074.1,962.0 L1084.1,961.8 L1094.1,961.7 L1104.1,961.6 L1114.1,961.5 L1124.1,961.4 L1134.1,961.4 L1144.1,961.3 L1154.1,961.3 L1164.1,961.3 L1174.1,961.4 L1184.1,961.4 L1194.1,961.5 L1204.1,961.7 L1214.1,961.8 L1224.1,962.0 L1234.1,962.3 L1244.1,962.6 L1254.1,963.0 L1264.1,963.4 L1274.1,963.9 L1284.1,964.5 L1294.1,965.3 L1304.1,966.2 L1314.1,967.3 L1324.1,968.5 L1334.1,970.1 L1344.1,972.0 L1354.1,974.4 L1364.1,977.2 L1373.6,980.6 L1383.1,984.8 L1392.1,989.7 L1400.6,995.4 L1408.6,1001.9 L1416.1,1009.3 L1423.1,1017.5 L1429.1,1025.7 L1434.6,1034.5 L1439.6,1043.5 L1444.1,1052.7 L1448.6,1063.0 L1452.6,1073.2 L1456.1,1083.0 L1459.6,1093.6 L1462.6,1103.5 L1465.6,1114.2 L1468.6,1125.6 L1471.1,1135.8 L1473.6,1146.7 L1476.1,1158.2 L1478.6,1170.4 L1480.6,1180.7 L1482.6,1191.5 L1484.6,1202.8 L1486.6,1214.6 L1488.6,1227.0 L1490.6,1239.8 L1492.1,1249.7 L1493.6,1259.9 L1495.1,1270.3 L1496.6,1280.9 L1498.1,1291.8 L1499.6,1302.9 L1501.1,1314.1 L1502.6,1325.4 L1504.1,1336.7 L1505.6,1347.9 L1507.1,1358.9 L1508.6,1369.5 L1510.1,1379.4 L1512.1,1391.5 L1514.1,1401.6 L1517.1,1411.9 L1519.1,1414.7 L1520.1,1414.7 L1521.6,1412.7 L1524.6,1401.8 L1526.6,1390.0 L1528.1,1379.3 L1529.6,1367.6 L1531.1,1355.1 L1532.6,1342.3 L1534.1,1329.3 L1535.6,1316.4 L1537.1,1303.7 L1538.6,1291.3 L1540.1,1279.2 L1541.6,1267.5 L1543.1,1256.3 L1544.6,1245.4 L1546.1,1235.0 L1547.6,1225.0 L1549.6,1212.3 L1551.6,1200.3 L1553.6,1189.0 L1555.6,1178.4 L1557.6,1168.4 L1560.1,1156.7 L1562.6,1145.9 L1565.1,1135.9 L1568.1,1124.8 L1571.1,1114.7 L1574.6,1104.0 L1578.1,1094.4 L1582.1,1084.6 L1586.6,1074.8 L1591.6,1065.3 L1597.1,1056.2 L1603.1,1047.9 L1609.6,1040.2 L1617.1,1032.7 L1625.1,1026.2 L1633.6,1020.3 L1642.7,1015.2 L1652.2,1010.6 L1661.7,1006.7 L1671.2,1003.3 L1681.2,1000.2 L1691.2,997.5 L1701.2,995.0 L1711.2,992.8 L1721.2,990.7 L1731.2,988.9 L1741.2,987.1 L1751.2,985.5 L1761.2,984.1 L1771.2,982.7 L1781.2,981.4 L1791.2,980.2 L1801.2,979.1 L1811.2,978.1 L1821.2,977.1 L1831.2,976.2 L1841.2,975.3 L1851.2,974.5 L1861.2,973.8 L1871.2,973.1 L1881.2,972.4 L1891.2,971.8 L1901.2,971.2 L1911.2,970.6 L1921.2,970.1 L1931.2,969.5 L1941.2,969.1 L1951.2,968.6 L1961.2,968.2 L1971.2,967.8 L1981.2,967.4 L1991.2,967.0 L2001.2,966.7 L2011.2,966.3 L2021.2,966.0 L2031.2,965.7 L2041.2,965.4 L2051.2,965.1 L2061.2,964.9 L2071.2,964.6 L2081.2,964.4 L2091.2,964.2 L2101.2,963.9 L2111.2,963.7 L2118.2,963.6" stroke="#888888" stroke-width="4.8"/>
<path d="M207.5,958.0 L217.5,958.0 L227.5,958.1 L237.5,958.1 L247.5,958.2 L257.5,958.2 L267.5,958.3 L277.5,958.3 L287.5,958.4 L297.5,958.4 L307.5,958.5 L317.5,958.6 L327.5,958.6 L337.5,958.7 L347.5,958.8 L357.5,958.9 L367.5,959.0 L377.5,959.1 L387.5,959.2 L397.5,959.3 L407.5,959.4 L417.5,959.5 L427.5,959.6 L437.5,959.8 L447.5,959.9 L457.5,960.1 L467.5,960.3 L477.5,960.5 L487.5,960.7 L497.5,960.9 L507.5,961.1 L517.5,961.4 L527.5,961.7 L537.5,962.0 L547.5,962.3 L557.5,962.7 L567.5,963.1 L577.5,963.6 L587.5,964.1 L597.5,964.6 L607.5,965.2 L617.5,965.9 L627.5,966.7 L637.5,967.5 L647.5,968.5 L657.5,969.7 L667.5,971.2 L677.5,973.0 L687.6,975.5 L697.1,978.9 L706.1,983.7 L714.1,990.2 L720.6,998.1 L726.1,1007.4 L730.6,1017.6 L734.1,1027.7 L737.1,1038.0 L739.6,1048.1 L742.1,1059.6 L744.1,1069.9 L746.1,1081.3 L748.1,1093.8 L749.6,1103.9 L751.1,1114.6 L752.6,1125.8 L754.1,1137.5 L755.6,1149.6 L757.1,1161.9 L758.6,1174.3 L760.1,1186.5 L761.6,1198.2 L763.1,1209.1 L765.1,1221.5 L767.6,1232.3 L769.6,1236.3 L770.6,1236.7 L772.1,1235.5 L775.6,1225.0 L778.1,1212.5 L780.1,1200.5 L782.1,1187.4 L783.6,1177.2 L785.1,1166.8 L786.6,1156.4 L788.1,1146.2 L789.6,1136.1 L791.6,1123.2 L793.6,1111.0 L795.6,1099.4 L797.6,1088.6 L799.6,1078.5 L802.1,1067.0 L804.6,1056.5 L807.6,1045.4 L810.6,1035.7 L814.1,1025.9 L818.1,1016.6 L823.1,1007.2 L829.1,998.5 L836.1,991.0 L844.1,984.9 L853.1,980.1 L862.6,976.5 L872.6,973.7 L882.6,971.7 L892.6,970.1 L902.6,968.8 L912.6,967.8 L922.6,966.9 L932.6,966.1 L942.6,965.4 L952.6,964.8 L962.6,964.3 L972.6,963.9 L982.6,963.5 L992.6,963.1 L1002.6,962.8 L1012.6,962.5 L1022.6,962.2 L1032.6,962.0 L1042.6,961.8 L1052.6,961.6 L1062.6,961.4 L1072.6,961.3 L1082.6,961.2 L1092.6,961.1 L1102.6,961.0 L1112.6,960.9 L1122.6,960.9 L1132.6,960.9 L1142.6,960.9 L1152.6,960.9 L1162.6,960.9 L1172.6,961.0 L1182.6,961.1 L1192.6,961.2 L1202.6,961.3 L1212.6,961.5 L1222.6,961.7 L1232.6,962.0 L1242.6,962.3 L1252.6,962.7 L1262.6,963.1 L1272.6,963.6 L1282.6,964.2 L1292.6,965.0 L1302.6,965.8 L1312.6,966.9 L1322.6,968.1 L1332.6,969.6 L1342.6,971.5 L1352.6,973.7 L1362.6,976.5 L1372.1,979.8 L1381.6,983.8 L1390.6,988.5 L1399.1,994.0 L1407.1,1000.3 L1414.6,1007.4 L1421.6,1015.3 L1428.1,1023.9 L1433.6,1032.5 L1438.6,1041.3 L1443.1,1050.3 L1447.6,1060.4 L1451.6,1070.4 L1455.1,1080.0 L1458.6,1090.4 L1461.6,1100.2 L1464.6,1110.7 L1467.6,1122.0 L1470.1,1132.0 L1472.6,1142.8 L1475.1,1154.2 L1477.6,1166.3 L1479.6,1176.5 L1481.6,1187.3 L1483.6,1198.6 L1485.6,1210.4 L1487.6,1222.7 L1489.6,1235.6 L1491.1,1245.7 L1492.6,1256.0 L1494.1,1266.6 L1495.6,1277.5 L1497.1,1288.7 L1498.6,1300.2 L1500.1,1311.9 L1501.6,1323.8 L1503.1,1335.8 L1504.6,1347.8 L1506.1,1359.8 L1507.6,1371.5 L1509.1,1382.8 L1510.6,1393.4 L1512.6,1406.2 L1514.6,1416.8 L1517.6,1427.1 L1519.1,1429.1 L1520.1,1429.1 L1521.6,1426.9 L1524.6,1414.6 L1526.6,1401.5 L1528.1,1389.8 L1529.6,1377.0 L1531.1,1363.5 L1532.6,1349.7 L1534.1,1335.8 L1535.6,1322.1 L1537.1,1308.7 L1538.6,1295.6 L1540.1,1283.0 L1541.6,1270.8 L1543.1,1259.2 L1544.6,1248.0 L1546.1,1237.2 L1547.6,1226.9 L1549.6,1213.9 L1551.6,1201.7 L1553.6,1190.1 L1555.6,1179.3 L1557.6,1169.2 L1560.1,1157.3 L1562.6,1146.4 L1565.1,1136.2 L1568.1,1125.1 L1571.1,1114.9 L1574.6,1104.1 L1578.1,1094.4 L1582.1,1084.5 L1586.6,1074.7 L1591.6,1065.1 L1597.1,1056.1 L1603.1,1047.7 L1609.6,1040.0 L1617.1,1032.6 L1625.1,1026.0 L1633.6,1020.2 L1642.7,1015.1 L1652.2,1010.5 L1661.7,1006.6 L1671.2,1003.3 L1681.2,1000.1 L1691.2,997.4 L1701.2,994.9 L1711.2,992.7 L1721.2,990.7 L1731.2,988.8 L1741.2,987.1 L1751.2,985.5 L1761.2,984.0 L1771.2,982.7 L1781.2,981.4 L1791.2,980.2 L1801.2,979.1 L1811.2,978.1 L1821.2,977.1 L1831.2,976.2 L1841.2,975.3 L1851.2,974.5 L1861.2,973.8 L1871.2,973.0 L1881.2,972.4 L1891.2,971.7 L1901.2,971.1 L1911.2,970.6 L1921.2,970.0 L1931.2,969.5 L1941.2,969.1 L1951.2,968.6 L1961.2,968.2 L1971.2,967.8 L1981.2,967.4 L1991.2,967.0 L2001.2,966.6 L2011.2,966.3 L2021.2,966.0 L2031.2,965.7 L2041.2,965.4 L2051.2,965.1 L2061.2,964.9 L2071.2,964.6 L2081.2,964.4 L2091.2,964.1 L2101.2,963.9 L2111.2,963.7 L2118.2,963.6" stroke="#000000" stroke-width="4.8"/>
<path d="M207.5,958.1 L217.5,958.2 L227.5,958.2 L237.5,958.3 L247.5,958.3 L257.5,958.4 L267.5,958.4 L277.5,958.5 L287.5,958.6 L297.5,958.6 L307.5,958.7 L317.5,958.8 L327.5,958.9 L337.5,958.9 L347.5,959.0 L357.5,959.1 L367.5,959.2 L377.5,959.4 L387.5,959.5 L397.5,959.6 L407.5,959.8 L417.5,959.9 L427.5,960.1 L437.5,960.2 L447.5,960.4 L457.5,960.6 L467.5,960.9 L477.5,961.1 L487.5,961.4 L497.5,961.6 L507.5,961.9 L517.5,962.3 L527.5,962.7 L537.5,963.1 L547.5,963.5 L557.5,964.0 L567.5,964.6 L577.5,965.2 L587.5,965.9 L597.5,966.7 L607.5,967.6 L617.5,968.6 L627.5,969.9 L637.5,971.5 L647.5,973.5 L657.5,976.2 L667.0,979.9 L676.0,985.0 L684.0,991.7 L690.6,999.5 L696.1,1008.6 L700.6,1018.2 L704.6,1028.8 L708.1,1040.0 L711.1,1051.3 L713.6,1061.9 L716.1,1073.7 L718.1,1084.0 L720.1,1095.1 L722.1,1106.8 L724.1,1119.1 L726.1,1131.9 L728.1,1144.9 L730.1,1157.8 L732.1,1170.2 L734.1,1181.6 L736.1,1191.6 L739.1,1202.3 L741.1,1205.7 L742.1,1206.0 L743.6,1204.4 L746.6,1193.8 L748.6,1181.7 L750.1,1170.8 L751.6,1158.8 L753.1,1146.3 L754.6,1133.6 L756.1,1121.1 L757.6,1108.9 L759.1,1097.3 L760.6,1086.4 L762.1,1076.1 L764.1,1063.6 L766.1,1052.3 L768.1,1042.4 L770.6,1031.5 L773.6,1020.7 L777.1,1010.6 L781.6,1000.8 L787.1,992.3 L794.6,984.8 L803.6,979.3 L813.1,975.8 L823.1,973.4 L833.1,971.7 L843.1,970.3 L853.1,969.2 L863.1,968.3 L873.1,967.5 L883.1,966.7 L893.1,966.0 L903.1,965.4 L913.1,964.9 L923.1,964.4 L933.1,964.0 L943.1,963.5 L953.1,963.2 L963.1,962.8 L973.1,962.5 L983.1,962.3 L993.1,962.0 L1003.1,961.8 L1013.1,961.6 L1023.1,961.4 L1033.1,961.2 L1043.1,961.1 L1053.1,961.0 L1063.1,960.8 L1073.1,960.7 L1083.1,960.7 L1093.1,960.6 L1103.1,960.6 L1113.1,960.5 L1123.1,960.5 L1133.1,960.5 L1143.1,960.5 L1153.1,960.5 L1163.1,960.6 L1173.1,960.7 L1183.1,960.7 L1193.1,960.9 L1203.1,961.0 L1213.1,961.2 L1223.1,961.4 L1233.1,961.6 L1243.1,961.9 L1253.1,962.3 L1263.1,962.7 L1273.1,963.2 L1283.1,963.7 L1293.1,964.4 L1303.1,965.3 L1313.1,966.2 L1323.1,967.4 L1333.1,968.8 L1343.1,970.6 L1353.1,972.7 L1363.1,975.3 L1373.1,978.6 L1382.6,982.5 L1391.6,987.0 L1400.1,992.3 L1408.1,998.4 L1415.6,1005.3 L1422.6,1013.1 L1429.1,1021.7 L1434.6,1030.1 L1439.6,1039.0 L1444.1,1048.0 L1448.6,1058.1 L1452.6,1068.1 L1456.1,1077.8 L1459.6,1088.4 L1462.6,1098.3 L1465.6,1108.9 L1468.6,1120.4 L1471.1,1130.7 L1473.6,1141.7 L1476.1,1153.3 L1478.1,1163.2 L1480.1,1173.6 L1482.1,1184.5 L1484.1,1196.0 L1486.1,1208.0 L1488.1,1220.5 L1490.1,1233.7 L1491.6,1243.9 L1493.1,1254.4 L1494.6,1265.3 L1496.1,1276.4 L1497.6,1287.8 L1499.1,1299.5 L1500.6,1311.4 L1502.1,1323.4 L1503.6,1335.6 L1505.1,1347.7 L1506.6,1359.7 L1508.1,1371.3 L1509.6,1382.5 L1511.1,1392.8 L1513.1,1404.9 L1515.6,1416.5 L1518.1,1422.7 L1519.1,1423.5 L1520.1,1423.1 L1522.1,1419.1 L1524.6,1407.9 L1526.6,1395.1 L1528.1,1383.7 L1529.6,1371.4 L1531.1,1358.5 L1532.6,1345.3 L1534.1,1332.0 L1535.6,1318.9 L1537.1,1306.0 L1538.6,1293.4 L1540.1,1281.2 L1541.6,1269.5 L1543.1,1258.2 L1544.6,1247.3 L1546.1,1236.8 L1547.6,1226.8 L1549.6,1214.1 L1551.6,1202.1 L1553.6,1190.8 L1555.6,1180.2 L1557.6,1170.2 L1560.1,1158.5 L1562.6,1147.7 L1565.1,1137.6 L1568.1,1126.5 L1571.1,1116.4 L1574.6,1105.7 L1578.1,1096.0 L1582.1,1086.1 L1586.6,1076.2 L1591.6,1066.6 L1597.1,1057.4 L1603.1,1048.9 L1609.6,1041.1 L1617.1,1033.5 L1625.1,1026.8 L1633.6,1020.9 L1642.7,1015.6 L1651.7,1011.2 L1661.2,1007.2 L1670.7,1003.7 L1680.7,1000.5 L1690.7,997.7 L1700.7,995.2 L1710.7,992.9 L1720.7,990.9 L1730.7,989.0 L1740.7,987.2 L1750.7,985.6 L1760.7,984.1 L1770.7,982.8 L1780.7,981.5 L1790.7,980.3 L1800.7,979.2 L1810.7,978.1 L1820.7,977.1 L1830.7,976.2 L1840.7,975.4 L1850.7,974.5 L1860.7,973.8 L1870.7,973.1 L1880.7,972.4 L1890.7,971.8 L1900.7,971.2 L1910.7,970.6 L1920.7,970.0 L1930.7,969.5 L1940.7,969.1 L1950.7,968.6 L1960.7,968.2 L1970.7,967.8 L1980.7,967.4 L1990.7,967.0 L2000.7,966.6 L2010.7,966.3 L2020.7,966.0 L2030.7,965.7 L2040.7,965.4 L2050.7,965.1 L2060.7,964.9 L2070.7,964.6 L2080.7,964.4 L2090.7,964.1 L2100.7,963.9 L2110.7,963.7 L2118.2,963.6" stroke="#2a7048" stroke-width="4.8"/>
<path d="M207.5,958.3 L217.5,958.4 L227.5,958.4 L237.5,958.5 L247.5,958.6 L257.5,958.6 L267.5,958.7 L277.5,958.8 L287.5,958.9 L297.5,959.0 L307.5,959.1 L317.5,959.2 L327.5,959.3 L337.5,959.4 L347.5,959.5 L357.5,959.7 L367.5,959.8 L377.5,960.0 L387.5,960.1 L397.5,960.3 L407.5,960.5 L417.5,960.7 L427.5,961.0 L437.5,961.2 L447.5,961.5 L457.5,961.8 L467.5,962.1 L477.5,962.5 L487.5,962.9 L497.5,963.4 L507.5,963.9 L517.5,964.4 L527.5,965.0 L537.5,965.8 L547.5,966.6 L557.5,967.5 L567.5,968.7 L577.5,970.0 L587.5,971.7 L597.5,973.9 L607.5,976.9 L617.0,980.7 L626.0,986.0 L634.0,992.6 L641.0,1000.8 L646.5,1009.4 L651.5,1019.4 L655.5,1029.3 L659.0,1039.8 L662.0,1050.2 L664.5,1060.0 L667.0,1071.0 L669.5,1083.2 L671.5,1094.0 L673.5,1105.6 L675.5,1118.1 L677.0,1128.0 L678.5,1138.5 L680.0,1149.5 L681.5,1160.8 L683.0,1172.6 L684.5,1184.6 L686.1,1196.8 L687.6,1209.0 L689.1,1221.0 L690.6,1232.4 L692.1,1243.0 L694.1,1255.2 L696.6,1266.0 L698.6,1270.0 L699.6,1270.1 L701.1,1267.8 L703.6,1257.4 L705.6,1243.9 L707.1,1231.6 L708.6,1218.1 L710.1,1203.9 L711.6,1189.5 L713.1,1175.2 L714.6,1161.2 L716.1,1147.7 L717.6,1134.9 L719.1,1122.7 L720.6,1111.3 L722.1,1100.5 L723.6,1090.5 L725.6,1078.2 L727.6,1067.0 L729.6,1057.0 L732.1,1045.9 L735.1,1034.4 L738.1,1024.8 L742.1,1014.2 L746.6,1005.0 L752.1,996.5 L759.1,988.8 L767.6,982.6 L777.1,978.1 L787.1,974.9 L797.1,972.6 L807.1,970.9 L817.1,969.5 L827.1,968.4 L837.1,967.4 L847.1,966.6 L857.1,965.9 L867.1,965.3 L877.1,964.7 L887.1,964.2 L897.1,963.7 L907.1,963.3 L917.1,962.9 L927.1,962.6 L937.1,962.3 L947.1,962.0 L957.1,961.8 L967.1,961.6 L977.1,961.4 L987.1,961.2 L997.1,961.0 L1007.1,960.9 L1017.1,960.7 L1027.1,960.6 L1037.1,960.5 L1047.1,960.4 L1057.1,960.3 L1067.1,960.3 L1077.1,960.2 L1087.1,960.2 L1097.1,960.2 L1107.1,960.1 L1117.1,960.1 L1127.1,960.2 L1137.1,960.2 L1147.1,960.2 L1157.1,960.3 L1167.1,960.4 L1177.1,960.5 L1187.1,960.6 L1197.1,960.7 L1207.1,960.9 L1217.1,961.1 L1227.1,961.4 L1237.1,961.7 L1247.1,962.0 L1257.1,962.4 L1267.1,962.9 L1277.1,963.5 L1287.1,964.2 L1297.1,965.1 L1307.1,966.2 L1317.1,967.4 L1327.1,969.0 L1337.1,971.0 L1347.1,973.5 L1357.1,976.7 L1366.6,980.6 L1375.6,985.3 L1384.1,990.9 L1392.1,997.6 L1399.1,1004.9 L1405.6,1013.1 L1411.6,1022.2 L1416.6,1031.1 L1421.1,1040.3 L1425.1,1049.6 L1429.1,1060.0 L1432.6,1070.1 L1436.1,1081.2 L1439.1,1091.6 L1442.1,1102.9 L1444.6,1112.9 L1447.1,1123.5 L1449.6,1134.8 L1452.1,1146.6 L1454.1,1156.6 L1456.1,1166.9 L1458.1,1177.5 L1460.1,1188.4 L1462.1,1199.5 L1464.1,1210.8 L1466.1,1222.1 L1468.1,1233.2 L1470.1,1244.1 L1472.1,1254.5 L1474.6,1266.4 L1477.1,1276.8 L1480.1,1286.3 L1483.6,1292.5 L1485.1,1293.2 L1486.6,1292.6 L1489.6,1287.2 L1492.6,1276.6 L1495.1,1264.8 L1497.1,1253.9 L1499.1,1242.2 L1501.1,1230.1 L1503.1,1217.9 L1505.1,1205.8 L1507.1,1193.9 L1509.1,1182.4 L1511.1,1171.4 L1513.1,1160.9 L1515.1,1151.0 L1517.6,1139.3 L1520.1,1128.4 L1522.6,1118.4 L1525.6,1107.4 L1528.6,1097.5 L1532.1,1087.1 L1536.1,1076.6 L1540.6,1066.4 L1545.6,1056.9 L1551.1,1048.1 L1557.6,1039.6 L1564.6,1032.2 L1572.6,1025.5 L1581.1,1019.8 L1590.1,1014.9 L1599.6,1010.7 L1609.1,1007.1 L1619.1,1003.9 L1629.1,1001.0 L1639.1,998.5 L1649.2,996.2 L1659.2,994.1 L1669.2,992.1 L1679.2,990.3 L1689.2,988.6 L1699.2,987.0 L1709.2,985.5 L1719.2,984.1 L1729.2,982.8 L1739.2,981.6 L1749.2,980.4 L1759.2,979.4 L1769.2,978.3 L1779.2,977.4 L1789.2,976.5 L1799.2,975.6 L1809.2,974.8 L1819.2,974.0 L1829.2,973.3 L1839.2,972.6 L1849.2,972.0 L1859.2,971.4 L1869.2,970.8 L1879.2,970.3 L1889.2,969.8 L1899.2,969.3 L1909.2,968.8 L1919.2,968.4 L1929.2,968.0 L1939.2,967.6 L1949.2,967.2 L1959.2,966.8 L1969.2,966.5 L1979.2,966.2 L1989.2,965.9 L1999.2,965.6 L2009.2,965.3 L2019.2,965.0 L2029.2,964.8 L2039.2,964.5 L2049.2,964.3 L2059.2,964.0 L2069.2,963.8 L2079.2,963.6 L2089.2,963.4 L2099.2,963.2 L2109.2,963.1 L2118.2,962.9" stroke="#00c8dc" stroke-width="4.8"/>
<path d="M207.5,958.9 L217.5,959.0 L227.5,959.0 L237.5,959.2 L247.5,959.3 L257.5,959.4 L267.5,959.5 L277.5,959.7 L287.5,959.8 L297.5,960.0 L307.5,960.1 L317.5,960.3 L327.5,960.5 L337.5,960.8 L347.5,961.0 L357.5,961.3 L367.5,961.6 L377.5,961.9 L387.5,962.3 L397.5,962.7 L407.5,963.2 L417.5,963.7 L427.5,964.3 L437.5,965.0 L447.5,965.8 L457.5,966.8 L467.5,967.9 L477.5,969.2 L487.5,970.9 L497.5,972.9 L507.5,975.5 L517.0,978.7 L526.5,982.9 L535.5,988.1 L543.5,994.2 L551.0,1001.7 L557.5,1009.9 L563.0,1018.4 L568.0,1027.8 L572.5,1037.8 L576.5,1048.1 L580.0,1058.3 L583.0,1068.1 L586.0,1078.9 L588.5,1088.7 L591.0,1099.3 L593.5,1110.7 L596.0,1123.0 L598.0,1133.4 L600.0,1144.3 L602.0,1155.8 L604.0,1167.8 L606.0,1180.3 L608.0,1193.1 L610.0,1206.1 L612.0,1219.3 L614.0,1232.3 L616.0,1244.8 L618.0,1256.5 L620.0,1266.9 L622.5,1277.5 L626.0,1286.3 L627.5,1287.4 L629.0,1286.9 L632.0,1280.8 L635.0,1268.9 L637.0,1258.4 L639.0,1246.4 L641.0,1233.5 L642.5,1223.5 L644.0,1213.3 L645.5,1203.0 L647.0,1192.9 L648.5,1182.9 L650.5,1169.9 L652.5,1157.4 L654.5,1145.4 L656.5,1133.9 L658.5,1123.1 L660.5,1112.9 L663.0,1100.9 L665.5,1089.8 L668.0,1079.5 L671.0,1068.3 L674.0,1058.2 L677.5,1047.6 L681.5,1037.1 L686.1,1026.9 L691.1,1017.4 L696.6,1008.8 L703.1,1000.6 L710.6,993.3 L719.1,987.0 L728.1,982.0 L737.6,978.0 L747.6,974.9 L757.6,972.5 L767.6,970.6 L777.6,969.1 L787.6,967.8 L797.6,966.8 L807.6,965.9 L817.6,965.1 L827.6,964.5 L837.6,963.9 L847.6,963.4 L857.6,963.0 L867.6,962.6 L877.6,962.2 L887.6,961.9 L897.6,961.6 L907.6,961.4 L917.6,961.2 L927.6,961.0 L937.6,960.8 L947.6,960.6 L957.6,960.5 L967.6,960.3 L977.6,960.2 L987.6,960.1 L997.6,960.0 L1007.6,960.0 L1017.6,959.9 L1027.6,959.8 L1037.6,959.8 L1047.6,959.7 L1057.6,959.7 L1067.6,959.7 L1077.6,959.7 L1087.6,959.7 L1097.6,959.7 L1107.6,959.7 L1117.6,959.7 L1127.6,959.8 L1137.6,959.8 L1147.6,959.9 L1157.6,960.0 L1167.6,960.1 L1177.6,960.2 L1187.6,960.3 L1197.6,960.5 L1207.6,960.7 L1217.6,960.9 L1227.6,961.2 L1237.6,961.5 L1247.6,961.8 L1257.6,962.2 L1267.6,962.7 L1277.6,963.3 L1287.6,964.0 L1297.6,964.8 L1307.6,965.7 L1317.6,966.8 L1327.6,968.2 L1337.6,969.8 L1347.6,971.8 L1357.6,974.2 L1367.6,977.2 L1377.1,980.7 L1386.6,985.0 L1395.6,990.0 L1404.1,995.8 L1412.1,1002.5 L1419.6,1010.0 L1426.1,1017.7 L1432.1,1026.0 L1437.6,1034.7 L1442.6,1043.8 L1447.1,1052.9 L1451.6,1063.1 L1455.6,1073.1 L1459.1,1082.6 L1462.6,1093.0 L1465.6,1102.6 L1468.6,1112.8 L1471.6,1123.8 L1474.6,1135.4 L1477.1,1145.7 L1479.6,1156.6 L1482.1,1167.9 L1484.6,1179.8 L1486.6,1189.7 L1488.6,1199.9 L1490.6,1210.4 L1492.6,1221.1 L1494.6,1232.1 L1496.6,1243.1 L1498.6,1254.2 L1500.6,1265.3 L1502.6,1276.3 L1504.6,1287.0 L1506.6,1297.3 L1509.1,1309.2 L1511.6,1319.8 L1514.6,1330.0 L1518.6,1338.2 L1520.6,1339.5 L1522.6,1338.7 L1526.1,1331.9 L1529.1,1321.2 L1531.6,1309.5 L1533.6,1298.9 L1535.6,1287.7 L1537.6,1276.0 L1539.6,1264.1 L1541.6,1252.2 L1543.6,1240.5 L1545.6,1229.0 L1547.6,1217.8 L1549.6,1206.9 L1551.6,1196.5 L1553.6,1186.6 L1556.1,1174.7 L1558.6,1163.6 L1561.1,1153.1 L1563.6,1143.3 L1566.6,1132.3 L1569.6,1122.1 L1573.1,1111.3 L1576.6,1101.4 L1580.6,1091.2 L1585.1,1081.0 L1589.6,1072.0 L1594.6,1063.1 L1600.1,1054.6 L1606.6,1046.0 L1613.6,1038.2 L1621.1,1031.2 L1629.1,1025.0 L1637.6,1019.4 L1646.7,1014.4 L1656.2,1009.9 L1665.7,1006.1 L1675.2,1002.8 L1685.2,999.7 L1695.2,996.9 L1705.2,994.5 L1715.2,992.3 L1725.2,990.3 L1735.2,988.4 L1745.2,986.7 L1755.2,985.1 L1765.2,983.7 L1775.2,982.3 L1785.2,981.1 L1795.2,979.9 L1805.2,978.8 L1815.2,977.8 L1825.2,976.8 L1835.2,975.9 L1845.2,975.1 L1855.2,974.3 L1865.2,973.5 L1875.2,972.8 L1885.2,972.2 L1895.2,971.5 L1905.2,970.9 L1915.2,970.4 L1925.2,969.9 L1935.2,969.4 L1945.2,968.9 L1955.2,968.4 L1965.2,968.0 L1975.2,967.6 L1985.2,967.2 L1995.2,966.9 L2005.2,966.5 L2015.2,966.2 L2025.2,965.9 L2035.2,965.6 L2045.2,965.3 L2055.2,965.0 L2065.2,964.8 L2075.2,964.5 L2085.2,964.3 L2095.2,964.1 L2105.2,963.8 L2115.2,963.6 L2118.2,963.6" stroke="#00b400" stroke-width="4.8"/>
<path d="M207.5,959.5 L217.5,959.6 L227.5,959.8 L237.5,959.9 L247.5,960.1 L257.5,960.3 L267.5,960.5 L277.5,960.7 L287.5,961.0 L297.5,961.2 L307.5,961.5 L317.5,961.8 L327.5,962.2 L337.5,962.6 L347.5,963.0 L357.5,963.5 L367.5,964.1 L377.5,964.7 L387.5,965.5 L397.5,966.3 L407.5,967.3 L417.5,968.5 L427.5,970.0 L437.5,971.7 L447.5,974.0 L457.5,976.9 L467.0,980.6 L476.0,985.3 L484.5,991.2 L492.0,998.3 L498.5,1006.2 L504.0,1014.6 L509.0,1024.0 L513.5,1034.2 L517.5,1044.9 L521.0,1055.8 L524.0,1066.3 L526.5,1076.0 L529.0,1086.7 L531.5,1098.3 L533.5,1108.4 L535.5,1119.2 L537.5,1130.8 L539.5,1143.1 L541.5,1156.2 L543.0,1166.6 L544.5,1177.4 L546.0,1188.6 L547.5,1200.3 L549.0,1212.3 L550.5,1224.5 L552.0,1236.9 L553.5,1249.3 L555.0,1261.6 L556.5,1273.5 L558.0,1284.7 L559.5,1294.9 L561.5,1306.4 L564.0,1316.1 L565.5,1318.9 L566.5,1319.3 L567.5,1318.5 L570.0,1311.5 L572.0,1301.2 L573.5,1291.3 L575.0,1280.0 L576.5,1267.8 L578.0,1255.0 L579.5,1241.8 L581.0,1228.7 L582.5,1215.6 L584.0,1202.8 L585.5,1190.4 L587.0,1178.4 L588.5,1166.9 L590.0,1155.9 L591.5,1145.3 L593.0,1135.3 L595.0,1122.8 L597.0,1111.1 L599.0,1100.2 L601.0,1090.1 L603.5,1078.5 L606.0,1068.0 L609.0,1056.7 L612.0,1046.7 L615.5,1036.5 L619.5,1026.5 L624.0,1017.1 L629.5,1007.8 L635.5,999.8 L642.5,992.6 L650.5,986.4 L659.5,981.4 L669.0,977.4 L679.0,974.4 L689.1,972.1 L699.1,970.2 L709.1,968.8 L719.1,967.6 L729.1,966.6 L739.1,965.7 L749.1,965.0 L759.1,964.4 L769.1,963.8 L779.1,963.3 L789.1,962.9 L799.1,962.5 L809.1,962.2 L819.1,961.9 L829.1,961.6 L839.1,961.3 L849.1,961.1 L859.1,960.9 L869.1,960.7 L879.1,960.5 L889.1,960.4 L899.1,960.2 L909.1,960.1 L919.1,960.0 L929.1,959.9 L939.1,959.8 L949.1,959.7 L959.1,959.6 L969.1,959.6 L979.1,959.5 L989.1,959.5 L999.1,959.4 L1009.1,959.4 L1019.1,959.3 L1029.1,959.3 L1039.1,959.3 L1049.1,959.3 L1059.1,959.3 L1069.1,959.3 L1079.1,959.3 L1089.1,959.3 L1099.1,959.4 L1109.1,959.4 L1119.1,959.4 L1129.1,959.5 L1139.1,959.6 L1149.1,959.7 L1159.1,959.8 L1169.1,959.9 L1179.1,960.0 L1189.1,960.2 L1199.1,960.4 L1209.1,960.6 L1219.1,960.8 L1229.1,961.1 L1239.1,961.5 L1249.1,961.8 L1259.1,962.3 L1269.1,962.8 L1279.1,963.4 L1289.1,964.2 L1299.1,965.0 L1309.1,966.0 L1319.1,967.2 L1329.1,968.7 L1339.1,970.5 L1349.1,972.6 L1359.1,975.2 L1369.1,978.4 L1378.6,982.2 L1387.6,986.6 L1396.6,992.0 L1405.1,998.2 L1412.6,1004.9 L1419.6,1012.2 L1426.1,1020.2 L1432.1,1028.9 L1437.6,1037.9 L1442.6,1047.3 L1447.1,1056.7 L1451.1,1066.0 L1455.1,1076.2 L1458.6,1085.9 L1462.1,1096.4 L1465.1,1106.1 L1468.1,1116.4 L1471.1,1127.4 L1473.6,1137.1 L1476.1,1147.3 L1478.6,1158.0 L1481.1,1169.2 L1483.6,1180.8 L1486.1,1192.9 L1488.1,1202.9 L1490.1,1213.1 L1492.1,1223.5 L1494.1,1234.0 L1496.1,1244.6 L1498.1,1255.1 L1500.1,1265.5 L1502.1,1275.6 L1504.6,1287.7 L1507.1,1298.9 L1509.6,1308.8 L1512.6,1318.5 L1517.1,1327.0 L1519.1,1328.0 L1521.1,1326.6 L1525.1,1316.4 L1527.6,1305.3 L1529.6,1294.6 L1531.6,1282.7 L1533.6,1270.1 L1535.6,1257.2 L1537.6,1244.2 L1539.6,1231.3 L1541.6,1218.7 L1543.6,1206.5 L1545.6,1194.8 L1547.6,1183.6 L1549.6,1173.0 L1551.6,1162.9 L1554.1,1151.1 L1556.6,1140.1 L1559.1,1129.9 L1562.1,1118.6 L1565.1,1108.4 L1568.6,1097.5 L1572.1,1087.9 L1576.1,1078.0 L1580.6,1068.4 L1585.6,1059.1 L1591.1,1050.5 L1597.6,1041.9 L1604.6,1034.4 L1612.1,1027.7 L1620.6,1021.6 L1629.6,1016.3 L1638.6,1011.9 L1648.2,1008.0 L1657.7,1004.6 L1667.7,1001.5 L1677.7,998.7 L1687.7,996.3 L1697.7,994.0 L1707.7,992.0 L1717.7,990.1 L1727.7,988.3 L1737.7,986.7 L1747.7,985.2 L1757.7,983.8 L1767.7,982.5 L1777.7,981.3 L1787.7,980.1 L1797.7,979.0 L1807.7,978.0 L1817.7,977.0 L1827.7,976.1 L1837.7,975.3 L1847.7,974.5 L1857.7,973.7 L1867.7,973.0 L1877.7,972.4 L1887.7,971.7 L1897.7,971.1 L1907.7,970.6 L1917.7,970.0 L1927.7,969.5 L1937.7,969.1 L1947.7,968.6 L1957.7,968.2 L1967.7,967.8 L1977.7,967.4 L1987.7,967.0 L1997.7,966.7 L2007.7,966.3 L2017.7,966.0 L2027.7,965.7 L2037.7,965.4 L2047.7,965.1 L2057.7,964.9 L2067.7,964.6 L2077.7,964.4 L2087.7,964.1 L2097.7,963.9 L2107.7,963.7 L2117.7,963.5 L2118.2,963.5" stroke="#ff0000" stroke-width="4.8"/>
<path d="M207.5,956.5 L217.5,957.8 L227.5,958.0 L237.5,956.4 L247.5,955.6 L257.5,955.1 L267.5,955.6 L277.5,957.3 L287.5,958.7 L297.5,958.7 L307.5,958.7 L317.5,957.5 L327.5,956.2 L337.5,957.1 L347.5,959.8 L357.0,963.0 L367.0,964.9 L377.0,964.0 L387.0,962.7 L397.0,961.5 L406.0,963.6 L414.5,969.5 L423.5,974.8 L433.0,979.2 L442.5,983.3 L452.5,986.0 L461.0,991.3 L466.5,996.7 L470.5,1007.0 L474.0,1016.4 L477.0,1027.6 L480.0,1038.7 L482.0,1049.1 L484.0,1060.1 L486.0,1071.2 L488.0,1082.5 L490.0,1093.7 L491.5,1105.7 L493.0,1118.5 L494.5,1129.7 L496.0,1139.8 L497.5,1150.0 L498.5,1163.9 L499.5,1179.9 L500.5,1195.8 L501.5,1213.3 L502.5,1231.3 L503.5,1250.5 L504.0,1261.2 L504.5,1271.8 L505.0,1282.5 L505.5,1293.1 L506.0,1303.2 L507.0,1320.4 L508.0,1337.6 L509.0,1354.8 L510.0,1373.3 L511.0,1392.2 L512.0,1411.1 L513.0,1429.7 L514.0,1448.3 L514.5,1457.5 L515.0,1456.2 L516.0,1439.1 L517.0,1422.0 L518.0,1400.7 L518.5,1388.9 L519.0,1377.1 L519.5,1365.2 L520.0,1353.8 L520.5,1342.9 L521.0,1332.0 L521.5,1321.1 L522.0,1310.2 L522.5,1299.3 L523.0,1288.6 L523.5,1278.0 L524.0,1267.4 L524.5,1256.7 L525.0,1246.1 L526.0,1234.2 L527.5,1219.5 L529.0,1204.7 L530.0,1194.1 L531.0,1182.9 L532.0,1171.8 L533.0,1160.7 L534.0,1150.2 L535.5,1138.9 L537.0,1127.6 L538.5,1116.6 L540.0,1105.8 L541.5,1094.9 L543.0,1082.0 L544.5,1069.1 L546.5,1057.4 L548.5,1046.4 L550.5,1036.0 L553.0,1024.2 L555.5,1012.4 L559.5,1002.8 L564.0,992.7 L568.0,984.4 L576.5,978.7 L586.0,975.5 L595.5,972.3 L605.5,969.1 L614.5,963.7 L624.0,959.7 L633.5,956.5 L643.5,957.0 L653.5,957.6 L663.5,957.9 L673.5,957.9 L683.5,956.4 L693.6,955.1 L703.6,955.2 L713.6,955.4 L723.6,955.6 L733.6,955.7 L743.6,955.8 L753.6,955.9 L763.6,956.0 L773.6,956.0 L783.6,956.1 L793.6,956.1 L803.6,956.2 L813.6,956.2 L823.6,956.2 L833.6,956.2 L843.6,956.2 L853.6,956.3 L863.6,956.3 L873.6,956.3 L883.6,956.3 L893.6,956.3 L903.6,956.4 L913.6,956.4 L923.6,956.4 L933.6,956.4 L943.6,956.4 L953.6,956.5 L963.6,956.5 L973.6,956.5 L983.6,956.6 L993.6,956.6 L1003.6,956.6 L1013.6,956.7 L1023.6,956.7 L1033.6,956.8 L1043.6,956.8 L1053.6,956.9 L1063.6,957.0 L1073.6,957.0 L1083.6,957.1 L1093.6,957.2 L1103.6,957.3 L1113.6,957.4 L1123.6,957.5 L1133.6,957.6 L1143.6,957.7 L1153.6,957.9 L1163.6,958.1 L1173.6,958.3 L1183.6,958.5 L1193.6,958.7 L1203.6,959.0 L1213.6,959.3 L1223.6,959.7 L1233.6,960.1 L1243.6,960.6 L1253.6,961.1 L1263.6,961.8 L1273.6,962.6 L1283.6,963.5 L1293.6,964.7 L1303.6,966.0 L1313.6,967.6 L1323.6,969.7 L1333.6,972.1 L1343.6,975.3 L1353.1,979.0 L1362.1,983.3 L1371.1,988.8 L1379.6,995.2 L1387.1,1002.1 L1394.1,1009.9 L1400.6,1018.6 L1406.1,1027.2 L1411.1,1036.2 L1415.6,1045.3 L1420.1,1055.7 L1424.1,1065.9 L1427.6,1075.8 L1431.1,1086.6 L1434.1,1096.6 L1437.1,1107.4 L1440.1,1118.9 L1442.6,1129.2 L1445.1,1140.0 L1447.6,1151.5 L1450.1,1163.5 L1452.1,1173.6 L1454.1,1184.0 L1456.1,1194.8 L1458.1,1205.9 L1460.1,1217.2 L1462.1,1228.8 L1464.1,1240.5 L1466.1,1252.2 L1468.1,1263.7 L1470.1,1275.0 L1472.1,1285.9 L1474.1,1296.1 L1476.6,1307.5 L1479.6,1318.5 L1483.6,1327.1 L1485.1,1328.0 L1486.6,1327.1 L1489.1,1320.8 L1491.6,1308.7 L1493.6,1295.6 L1495.1,1284.3 L1496.6,1272.4 L1498.1,1260.0 L1499.6,1247.5 L1501.1,1235.0 L1502.6,1222.8 L1504.1,1210.9 L1505.6,1199.4 L1507.1,1188.5 L1508.6,1178.0 L1510.1,1168.0 L1512.1,1155.5 L1514.1,1143.9 L1516.1,1133.2 L1518.1,1123.3 L1520.6,1112.0 L1523.1,1101.8 L1526.1,1090.8 L1529.1,1081.1 L1532.6,1071.3 L1536.6,1061.6 L1541.1,1052.6 L1546.6,1043.5 L1553.1,1035.0 L1560.6,1027.4 L1568.6,1021.2 L1577.6,1015.8 L1587.1,1011.3 L1596.6,1007.6 L1606.1,1004.5 L1616.1,1001.6 L1626.1,999.0 L1636.1,996.7 L1646.2,994.6 L1656.2,992.6 L1666.2,990.7 L1676.2,989.0 L1686.2,987.3 L1696.2,985.8 L1706.2,984.3 L1716.2,983.0 L1726.2,981.7 L1736.2,980.5 L1746.2,979.3 L1756.2,978.2 L1766.2,977.2 L1776.2,976.3 L1786.2,975.4 L1796.2,974.5 L1806.2,973.7 L1816.2,972.9 L1826.2,972.2 L1836.2,971.5 L1846.2,970.9 L1856.2,970.3 L1866.2,969.7 L1876.2,969.1 L1886.2,968.6 L1896.2,968.1 L1906.2,967.7 L1916.2,967.2 L1926.2,966.8 L1936.2,966.4 L1946.2,966.0 L1956.2,965.7 L1966.2,965.3 L1976.2,965.0 L1986.2,964.7 L1996.2,964.4 L2006.2,964.1 L2016.2,963.9 L2026.2,963.6 L2036.2,963.4 L2046.2,963.1 L2056.2,962.9 L2066.2,962.7 L2076.2,962.5 L2086.2,962.3 L2096.2,962.1 L2106.2,961.9 L2116.2,961.8 L2118.2,961.7" stroke="#a0509a" stroke-width="4.8"/>
</g>
<rect x="207.5" y="948.0" width="1910.7" height="874.1" fill="none" stroke="#000" stroke-width="5"/>
<line x1="196" y1="948.0" x2="207.5" y2="948.0" stroke="#222" stroke-width="2.6"/>
<line x1="196" y1="1094.8" x2="207.5" y2="1094.8" stroke="#222" stroke-width="2.6"/>
<line x1="196" y1="1241.1" x2="207.5" y2="1241.1" stroke="#222" stroke-width="2.6"/>
<line x1="196" y1="1385.9" x2="207.5" y2="1385.9" stroke="#222" stroke-width="2.6"/>
<line x1="196" y1="1530.3" x2="207.5" y2="1530.3" stroke="#222" stroke-width="2.6"/>
<line x1="196" y1="1679.0" x2="207.5" y2="1679.0" stroke="#222" stroke-width="2.6"/>
<line x1="196" y1="1822.1" x2="207.5" y2="1822.1" stroke="#222" stroke-width="2.6"/>
<line x1="207.5" y1="1822.1" x2="207.5" y2="1835.1" stroke="#222" stroke-width="2.6"/>
<line x1="481.6" y1="1822.1" x2="481.6" y2="1835.1" stroke="#222" stroke-width="2.6"/>
<line x1="753.7" y1="1822.1" x2="753.7" y2="1835.1" stroke="#222" stroke-width="2.6"/>
<line x1="1027.6" y1="1822.1" x2="1027.6" y2="1835.1" stroke="#222" stroke-width="2.6"/>
<line x1="1296.8" y1="1822.1" x2="1296.8" y2="1835.1" stroke="#222" stroke-width="2.6"/>
<line x1="1570.2" y1="1822.1" x2="1570.2" y2="1835.1" stroke="#222" stroke-width="2.6"/>
<line x1="1844.1" y1="1822.1" x2="1844.1" y2="1835.1" stroke="#222" stroke-width="2.6"/>
<line x1="2118.2" y1="1822.1" x2="2118.2" y2="1835.1" stroke="#222" stroke-width="2.6"/>
<rect x="2109" y="1062" width="6.5" height="746" fill="#fff"/>
<rect x="1656.5" y="1064.7" width="451.3" height="742" fill="#fff" stroke="#000" stroke-width="3"/>
<rect x="1663.8" y="1083.3" width="50.9" height="8.2" fill="#c07a50"/>
<text x="1727.0" y="1101.5" font-family="'Liberation Sans', Arial, sans-serif" font-size="35.0" fill="#c07a50" text-anchor="start" textLength="353.8" lengthAdjust="spacingAndGlyphs">S11 C1=4.7 &amp; C2=60 pF</text>
<rect x="1663.8" y="1129.6" width="50.9" height="8.2" fill="#ff80f0"/>
<text x="1727.0" y="1147.1" font-family="'Liberation Sans', Arial, sans-serif" font-size="35.0" fill="#ff80f0" text-anchor="start" textLength="353.8" lengthAdjust="spacingAndGlyphs">S11 C1=5.2 &amp; C2=60 pF</text>
<rect x="1663.8" y="1175.8" width="50.9" height="8.2" fill="#9a90ff"/>
<text x="1727.0" y="1192.8" font-family="'Liberation Sans', Arial, sans-serif" font-size="35.0" fill="#9a90ff" text-anchor="start" textLength="353.8" lengthAdjust="spacingAndGlyphs">S11 C1=5.7 &amp; C2=60 pF</text>
<rect x="1663.8" y="1222.1" width="50.9" height="8.2" fill="#6e8200"/>
<text x="1727.0" y="1238.4" font-family="'Liberation Sans', Arial, sans-serif" font-size="35.0" fill="#6e8200" text-anchor="start" textLength="353.8" lengthAdjust="spacingAndGlyphs">S11 C1=6.7 &amp; C2=60 pF</text>
<rect x="1663.8" y="1268.3" width="50.9" height="8.2" fill="#ff8a20"/>
<text x="1727.0" y="1284.1" font-family="'Liberation Sans', Arial, sans-serif" font-size="35.0" fill="#ff8a20" text-anchor="start" textLength="353.8" lengthAdjust="spacingAndGlyphs">S11 C1=7.7 &amp; C2=60 pF</text>
<rect x="1663.8" y="1314.6" width="50.9" height="8.2" fill="#0000e8"/>
<text x="1727.0" y="1329.7" font-family="'Liberation Sans', Arial, sans-serif" font-size="35.0" fill="#0000e8" text-anchor="start" textLength="353.8" lengthAdjust="spacingAndGlyphs">S11 C1=8.5 &amp; C2=60 pF</text>
<rect x="1663.8" y="1360.9" width="50.9" height="8.2" fill="#dc38c0"/>
<text x="1727.0" y="1375.3" font-family="'Liberation Sans', Arial, sans-serif" font-size="35.0" fill="#dc38c0" text-anchor="start" textLength="373.8" lengthAdjust="spacingAndGlyphs">S11 C1=10.7 &amp; C2=60 pF</text>
<rect x="1663.8" y="1407.1" width="50.9" height="8.2" fill="#0a3c64"/>
<text x="1727.0" y="1421.0" font-family="'Liberation Sans', Arial, sans-serif" font-size="35.0" fill="#0a3c64" text-anchor="start" textLength="344.3" lengthAdjust="spacingAndGlyphs">S11 C1=11 &amp; C2=60 pF</text>
<rect x="1663.8" y="1453.4" width="50.9" height="8.2" fill="#1e96dc"/>
<text x="1727.0" y="1466.6" font-family="'Liberation Sans', Arial, sans-serif" font-size="35.0" fill="#1e96dc" text-anchor="start" textLength="373.8" lengthAdjust="spacingAndGlyphs">S11 C1=11.5 &amp; C2=60 pF</text>
<rect x="1663.8" y="1499.6" width="50.9" height="8.2" fill="#888888"/>
<text x="1727.0" y="1512.3" font-family="'Liberation Sans', Arial, sans-serif" font-size="35.0" fill="#888888" text-anchor="start" textLength="344.3" lengthAdjust="spacingAndGlyphs">S11 C1=13 &amp; C2=60 pF</text>
<rect x="1663.8" y="1545.9" width="50.9" height="8.2" fill="#000000"/>
<text x="1727.0" y="1557.9" font-family="'Liberation Sans', Arial, sans-serif" font-size="35.0" fill="#000000" text-anchor="start" textLength="344.3" lengthAdjust="spacingAndGlyphs">S11 C1=15 &amp; C2=60 pF</text>
<rect x="1663.8" y="1592.2" width="50.9" height="8.2" fill="#2a7048"/>
<text x="1727.0" y="1603.5" font-family="'Liberation Sans', Arial, sans-serif" font-size="35.0" fill="#2a7048" text-anchor="start" textLength="344.3" lengthAdjust="spacingAndGlyphs">S11 C1=20 &amp; C2=60 pF</text>
<rect x="1663.8" y="1638.4" width="50.9" height="8.2" fill="#00c0d0"/>
<text x="1727.0" y="1649.2" font-family="'Liberation Sans', Arial, sans-serif" font-size="35.0" fill="#00c0d0" text-anchor="start" textLength="344.3" lengthAdjust="spacingAndGlyphs">S11 C1=30 &amp; C2=60 pF</text>
<rect x="1663.8" y="1684.7" width="50.9" height="8.2" fill="#00b400"/>
<text x="1727.0" y="1694.8" font-family="'Liberation Sans', Arial, sans-serif" font-size="35.0" fill="#00b400" text-anchor="start" textLength="344.3" lengthAdjust="spacingAndGlyphs">S11 C1=40 &amp; C2=60 pF</text>
<rect x="1663.8" y="1730.9" width="50.9" height="8.2" fill="#ff0000"/>
<text x="1727.0" y="1740.5" font-family="'Liberation Sans', Arial, sans-serif" font-size="35.0" fill="#ff0000" text-anchor="start" textLength="344.3" lengthAdjust="spacingAndGlyphs">S11 C1=50 &amp; C2=60 pF</text>
<rect x="1663.8" y="1777.2" width="50.9" height="8.2" fill="#a0509a"/>
<text x="1727.0" y="1786.1" font-family="'Liberation Sans', Arial, sans-serif" font-size="35.0" fill="#a0509a" text-anchor="start" textLength="344.3" lengthAdjust="spacingAndGlyphs">S11 C1=60 &amp; C2=60 pF</text>
<text x="927.0" y="907.3" font-family="'Liberation Sans', Arial, sans-serif" font-size="36.5" fill="#000" text-anchor="start" textLength="446.0" lengthAdjust="spacingAndGlyphs">S-Parameters [Magnitude]</text>
<text x="973.0" y="1947.0" font-family="'Liberation Sans', Arial, sans-serif" font-size="36.5" fill="#000" text-anchor="start" textLength="282.0" lengthAdjust="spacingAndGlyphs">Frequency / GHz</text>
<text x="28.6" y="1403.5" font-family="'Liberation Sans', Arial, sans-serif" font-size="37.5" fill="#000" text-anchor="start" textLength="41.7" lengthAdjust="spacingAndGlyphs">dB</text>
<text x="173.5" y="967.5" font-family="'Liberation Sans', Arial, sans-serif" font-size="37.0" fill="#000" text-anchor="end">0</text>
<text x="168.5" y="1111.0" font-family="'Liberation Sans', Arial, sans-serif" font-size="37.0" fill="#000" text-anchor="end">-5</text>
<text x="173.5" y="1255.5" font-family="'Liberation Sans', Arial, sans-serif" font-size="37.0" fill="#000" text-anchor="end">-10</text>
<text x="173.5" y="1400.0" font-family="'Liberation Sans', Arial, sans-serif" font-size="37.0" fill="#000" text-anchor="end">-15</text>
<text x="173.5" y="1544.5" font-family="'Liberation Sans', Arial, sans-serif" font-size="37.0" fill="#000" text-anchor="end">-20</text>
<text x="173.5" y="1689.5" font-family="'Liberation Sans', Arial, sans-serif" font-size="37.0" fill="#000" text-anchor="end">-25</text>
<text x="173.5" y="1829.0" font-family="'Liberation Sans', Arial, sans-serif" font-size="37.0" fill="#000" text-anchor="end">-30</text>
<text x="209.6" y="1891.0" font-family="'Liberation Sans', Arial, sans-serif" font-size="36.5" fill="#000" text-anchor="middle">0.65</text>
<text x="489.0" y="1891.0" font-family="'Liberation Sans', Arial, sans-serif" font-size="36.5" fill="#000" text-anchor="middle">0.7</text>
<text x="759.0" y="1891.0" font-family="'Liberation Sans', Arial, sans-serif" font-size="36.5" fill="#000" text-anchor="middle">0.75</text>
<text x="1025.7" y="1891.0" font-family="'Liberation Sans', Arial, sans-serif" font-size="36.5" fill="#000" text-anchor="middle">0.8</text>
<text x="1291.5" y="1891.0" font-family="'Liberation Sans', Arial, sans-serif" font-size="36.5" fill="#000" text-anchor="middle">0.85</text>
<text x="1577.0" y="1891.0" font-family="'Liberation Sans', Arial, sans-serif" font-size="36.5" fill="#000" text-anchor="middle">0.9</text>
<text x="1843.0" y="1891.0" font-family="'Liberation Sans', Arial, sans-serif" font-size="36.5" fill="#000" text-anchor="middle">0.95</text>
<text x="2112.0" y="1891.0" font-family="'Liberation Sans', Arial, sans-serif" font-size="36.5" fill="#000" text-anchor="middle">1</text>
</svg></body></html>
